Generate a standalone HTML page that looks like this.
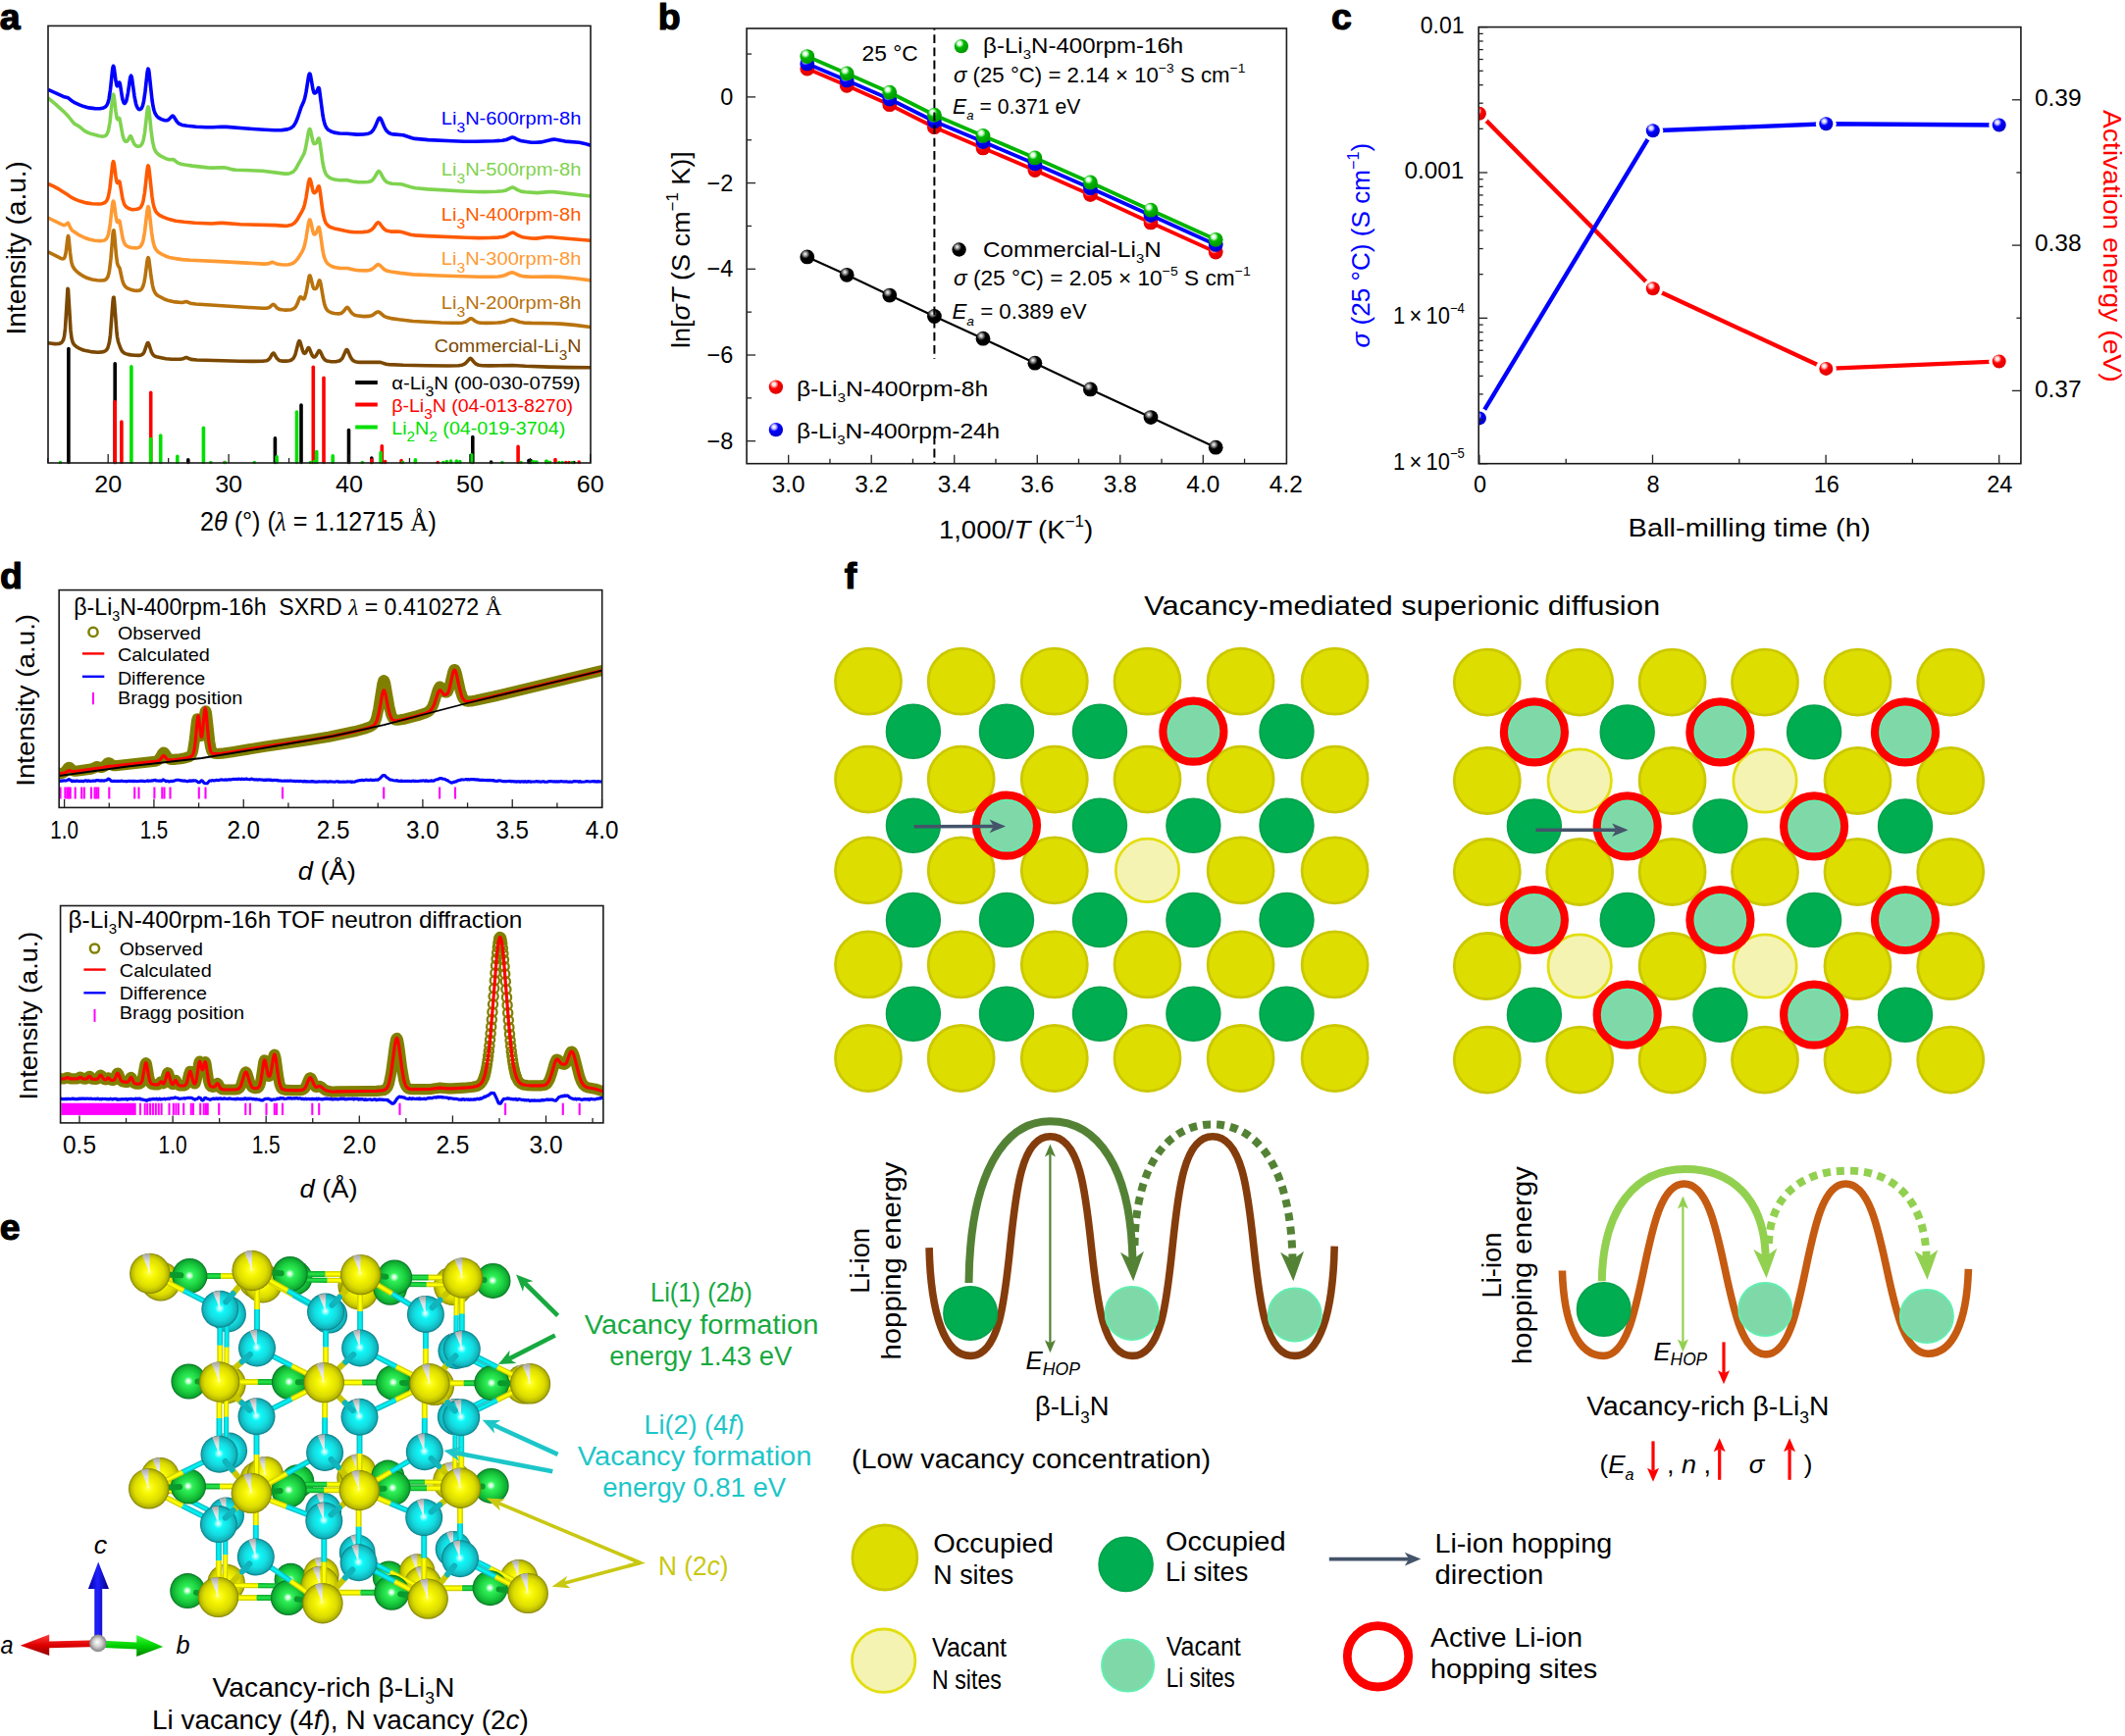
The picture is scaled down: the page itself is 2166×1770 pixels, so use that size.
<!DOCTYPE html>
<html><head><meta charset="utf-8"><title>Figure</title>
<style>html,body{margin:0;padding:0;background:#fff}svg{display:block}text{font-family:"Liberation Sans",sans-serif}</style>
</head><body>
<svg width="2166" height="1770" viewBox="0 0 2166 1770">
<rect width="2166" height="1770" fill="#fff"/>
<g id="pa">
<line x1="69.9" y1="355.6" x2="69.9" y2="471.5" stroke="#000" stroke-width="3.6" stroke-linecap="round"/>
<line x1="117.2" y1="370.7" x2="117.2" y2="471.5" stroke="#000" stroke-width="3.6" stroke-linecap="round"/>
<line x1="191.8" y1="468.8" x2="191.8" y2="471.5" stroke="#000" stroke-width="3.6" stroke-linecap="round"/>
<line x1="280.4" y1="446.9" x2="280.4" y2="471.5" stroke="#000" stroke-width="3.6" stroke-linecap="round"/>
<line x1="307.0" y1="413.0" x2="307.0" y2="471.5" stroke="#000" stroke-width="3.6" stroke-linecap="round"/>
<line x1="355.5" y1="438.5" x2="355.5" y2="471.5" stroke="#000" stroke-width="3.6" stroke-linecap="round"/>
<line x1="378.8" y1="467.0" x2="378.8" y2="471.5" stroke="#000" stroke-width="3.6" stroke-linecap="round"/>
<line x1="481.8" y1="445.5" x2="481.8" y2="471.5" stroke="#000" stroke-width="3.6" stroke-linecap="round"/>
<line x1="500.6" y1="471.0" x2="500.6" y2="471.5" stroke="#000" stroke-width="3.6" stroke-linecap="round"/>
<line x1="539.0" y1="469.5" x2="539.0" y2="471.5" stroke="#000" stroke-width="3.6" stroke-linecap="round"/>
<line x1="541.0" y1="469.5" x2="541.0" y2="471.5" stroke="#000" stroke-width="3.6" stroke-linecap="round"/>
<line x1="557.0" y1="470.8" x2="557.0" y2="471.5" stroke="#000" stroke-width="3.6" stroke-linecap="round"/>
<line x1="585.0" y1="471.5" x2="585.0" y2="471.5" stroke="#000" stroke-width="3.6" stroke-linecap="round"/>
<line x1="117.2" y1="409.5" x2="117.2" y2="471.5" stroke="#ff0000" stroke-width="3.6" stroke-linecap="round"/>
<line x1="123.9" y1="430.0" x2="123.9" y2="471.5" stroke="#ff0000" stroke-width="3.6" stroke-linecap="round"/>
<line x1="153.7" y1="400.3" x2="153.7" y2="471.5" stroke="#ff0000" stroke-width="3.6" stroke-linecap="round"/>
<line x1="229.0" y1="471.5" x2="229.0" y2="471.5" stroke="#ff0000" stroke-width="3.6" stroke-linecap="round"/>
<line x1="319.3" y1="374.2" x2="319.3" y2="471.5" stroke="#ff0000" stroke-width="3.6" stroke-linecap="round"/>
<line x1="330.0" y1="385.2" x2="330.0" y2="471.5" stroke="#ff0000" stroke-width="3.6" stroke-linecap="round"/>
<line x1="378.8" y1="469.1" x2="378.8" y2="471.5" stroke="#ff0000" stroke-width="3.6" stroke-linecap="round"/>
<line x1="389.3" y1="454.7" x2="389.3" y2="471.5" stroke="#ff0000" stroke-width="3.6" stroke-linecap="round"/>
<line x1="392.6" y1="470.5" x2="392.6" y2="471.5" stroke="#ff0000" stroke-width="3.6" stroke-linecap="round"/>
<line x1="409.1" y1="469.5" x2="409.1" y2="471.5" stroke="#ff0000" stroke-width="3.6" stroke-linecap="round"/>
<line x1="446.2" y1="471.5" x2="446.2" y2="471.5" stroke="#ff0000" stroke-width="3.6" stroke-linecap="round"/>
<line x1="528.1" y1="455.4" x2="528.1" y2="471.5" stroke="#ff0000" stroke-width="3.6" stroke-linecap="round"/>
<line x1="566.0" y1="468.5" x2="566.0" y2="471.5" stroke="#ff0000" stroke-width="3.6" stroke-linecap="round"/>
<line x1="576.8" y1="471.5" x2="576.8" y2="471.5" stroke="#ff0000" stroke-width="3.6" stroke-linecap="round"/>
<line x1="580.0" y1="471.5" x2="580.0" y2="471.5" stroke="#ff0000" stroke-width="3.6" stroke-linecap="round"/>
<line x1="590.2" y1="471.0" x2="590.2" y2="471.5" stroke="#ff0000" stroke-width="3.6" stroke-linecap="round"/>
<line x1="61.5" y1="471.5" x2="61.5" y2="471.5" stroke="#00e000" stroke-width="3.6" stroke-linecap="round"/>
<line x1="133.9" y1="373.9" x2="133.9" y2="471.5" stroke="#00e000" stroke-width="3.6" stroke-linecap="round"/>
<line x1="153.7" y1="447.5" x2="153.7" y2="471.5" stroke="#00e000" stroke-width="3.6" stroke-linecap="round"/>
<line x1="163.7" y1="444.1" x2="163.7" y2="471.5" stroke="#00e000" stroke-width="3.6" stroke-linecap="round"/>
<line x1="180.8" y1="465.3" x2="180.8" y2="471.5" stroke="#00e000" stroke-width="3.6" stroke-linecap="round"/>
<line x1="207.4" y1="436.3" x2="207.4" y2="471.5" stroke="#00e000" stroke-width="3.6" stroke-linecap="round"/>
<line x1="214.8" y1="471.5" x2="214.8" y2="471.5" stroke="#00e000" stroke-width="3.6" stroke-linecap="round"/>
<line x1="229.2" y1="471.5" x2="229.2" y2="471.5" stroke="#00e000" stroke-width="3.6" stroke-linecap="round"/>
<line x1="259.3" y1="471.5" x2="259.3" y2="471.5" stroke="#00e000" stroke-width="3.6" stroke-linecap="round"/>
<line x1="282.1" y1="465.7" x2="282.1" y2="471.5" stroke="#00e000" stroke-width="3.6" stroke-linecap="round"/>
<line x1="302.5" y1="420.1" x2="302.5" y2="471.5" stroke="#00e000" stroke-width="3.6" stroke-linecap="round"/>
<line x1="316.4" y1="471.5" x2="316.4" y2="471.5" stroke="#00e000" stroke-width="3.6" stroke-linecap="round"/>
<line x1="320.5" y1="470.5" x2="320.5" y2="471.5" stroke="#00e000" stroke-width="3.6" stroke-linecap="round"/>
<line x1="322.7" y1="460.6" x2="322.7" y2="471.5" stroke="#00e000" stroke-width="3.6" stroke-linecap="round"/>
<line x1="339.2" y1="464.8" x2="339.2" y2="471.5" stroke="#00e000" stroke-width="3.6" stroke-linecap="round"/>
<line x1="369.3" y1="471.5" x2="369.3" y2="471.5" stroke="#00e000" stroke-width="3.6" stroke-linecap="round"/>
<line x1="388.1" y1="461.5" x2="388.1" y2="471.5" stroke="#00e000" stroke-width="3.6" stroke-linecap="round"/>
<line x1="410.5" y1="471.5" x2="410.5" y2="471.5" stroke="#00e000" stroke-width="3.6" stroke-linecap="round"/>
<line x1="423.4" y1="468.8" x2="423.4" y2="471.5" stroke="#00e000" stroke-width="3.6" stroke-linecap="round"/>
<line x1="451.9" y1="471.5" x2="451.9" y2="471.5" stroke="#00e000" stroke-width="3.6" stroke-linecap="round"/>
<line x1="455.4" y1="470.5" x2="455.4" y2="471.5" stroke="#00e000" stroke-width="3.6" stroke-linecap="round"/>
<line x1="459.6" y1="470.0" x2="459.6" y2="471.5" stroke="#00e000" stroke-width="3.6" stroke-linecap="round"/>
<line x1="465.3" y1="470.1" x2="465.3" y2="471.5" stroke="#00e000" stroke-width="3.6" stroke-linecap="round"/>
<line x1="468.8" y1="470.5" x2="468.8" y2="471.5" stroke="#00e000" stroke-width="3.6" stroke-linecap="round"/>
<line x1="480.5" y1="463.9" x2="480.5" y2="471.5" stroke="#00e000" stroke-width="3.6" stroke-linecap="round"/>
<line x1="511.9" y1="471.5" x2="511.9" y2="471.5" stroke="#00e000" stroke-width="3.6" stroke-linecap="round"/>
<line x1="531.0" y1="471.5" x2="531.0" y2="471.5" stroke="#00e000" stroke-width="3.6" stroke-linecap="round"/>
<line x1="543.0" y1="470.8" x2="543.0" y2="471.5" stroke="#00e000" stroke-width="3.6" stroke-linecap="round"/>
<line x1="545.0" y1="471.0" x2="545.0" y2="471.5" stroke="#00e000" stroke-width="3.6" stroke-linecap="round"/>
<line x1="547.0" y1="471.0" x2="547.0" y2="471.5" stroke="#00e000" stroke-width="3.6" stroke-linecap="round"/>
<line x1="557.0" y1="470.1" x2="557.0" y2="471.5" stroke="#00e000" stroke-width="3.6" stroke-linecap="round"/>
<line x1="560.6" y1="471.3" x2="560.6" y2="471.5" stroke="#00e000" stroke-width="3.6" stroke-linecap="round"/>
<line x1="569.8" y1="471.5" x2="569.8" y2="471.5" stroke="#00e000" stroke-width="3.6" stroke-linecap="round"/>
<line x1="573.3" y1="471.5" x2="573.3" y2="471.5" stroke="#00e000" stroke-width="3.6" stroke-linecap="round"/>
<line x1="583.2" y1="471.5" x2="583.2" y2="471.5" stroke="#00e000" stroke-width="3.6" stroke-linecap="round"/>
<clipPath id="cpa"><rect x="49.0" y="26.4" width="553.0" height="445.6"/></clipPath>
<g clip-path="url(#cpa)">
<path d="M49 349.8L56 350.6L60 350.5L61.5 350L63 349.1L64.5 346.8L65.5 343.1L66.5 334.9L69 294.2L69.5 295L72 336.9L73 344.8L74 348.6L75 350.6L76 351.9L77.5 353.2L80 354.8L83 356.2L86 357.3L92.5 358.6L99.5 359.3L104.5 358.9L106.5 358.2L108 357.3L109 356.2L110 354.4L111.5 348.7L112.5 341.2L115 307.8L115.5 303.6L116 303.1L116.5 306.7L119 339.3L119.5 343.3L120.5 348.5L123 355.3L124 357.3L125 358.6L126.5 359.9L128 360.6L130.5 361.4L133.5 361.9L137.5 362.3L141 362.4L143.5 362.1L145 361.4L146 360.5L147 358.9L150 350.4L150.5 349.5L151 349.5L152 351.6L154.5 359.2L155.5 361L156.5 362.2L158 363.2L160.5 364.1L169 365.8L175 366.2L184 366.2L186.5 365.8L189 364.7L190 364.5L194.5 366.4L200.5 367L244 368.2L259.5 368.4L267.5 368.3L271.5 367.8L273.5 366.8L275 365.3L277.5 361L278.5 360L279 360.1L279.5 360.7L282 365.1L284 367.1L285.5 367.8L287 368.1L292 368.1L295 367.7L297 367L298.5 365.9L299.5 364.6L301 361.4L304 349.8L304.5 348.3L305 347.6L305.5 347.8L306 348.8L308.5 357.6L309.5 359.7L310 360.2L310.5 360.4L311.5 359.7L313.5 355.7L314 354.9L314.5 354.6L315 354.9L315.5 355.7L317.5 360.9L318.5 362.8L319.5 363.9L320.5 364L322 362.8L324.5 358.3L325 357.7L325.5 357.5L326.5 358.5L329 364L330.5 366.2L331.5 367.1L333 367.9L336.5 368.6L340 368.8L343 368.6L345.5 368.1L347 367.3L349 365.2L352.5 357.5L353 356.7L353.5 356.5L354 356.8L354.5 357.5L357 363.5L358.5 366.1L360 367.7L362 368.7L364 369.1L367 369.4L386.5 369.2L388.5 369.6L393.5 371.3L396.5 371.6L411 372.3L434.5 372.8L456.5 373L467.5 372.7L471 372.2L473.5 371.1L475.5 369.4L478.5 365.8L479.5 365.4L480.5 366L483.5 369.6L485.5 371.3L488 372.2L491.5 372.7L499 372.9L522.5 372.5L535.5 373.3L559.5 374.1L582 374.6L602 374.8" stroke="#7b4800" stroke-width="3.6" fill="none" stroke-linejoin="round" />
<path d="M49 256.8L61.5 263.2L63.5 263.9L65 263.6L66 262.2L67 258.6L69 242.5L69.5 240.5L70 242.1L71.5 257.5L72.5 265.4L73 267.9L74 271.2L76 274.5L78.5 277.1L82 279.8L85.5 281.9L89 283.5L94 284.9L99 285.8L103.5 286L106.5 285.6L108 284.8L109.5 283L110.5 280.5L111.5 276L113 263.5L115 238.8L115.5 235.2L116 234.9L116.5 237.7L118.5 260.6L119.5 268.1L120.5 271.2L121.5 272.4L122 273.5L124.5 285L125.5 288.3L126.5 290.5L127.5 291.9L129 293.3L131 294.4L134 295.5L137 296.2L139.5 296.4L141.5 296.3L143 295.8L144.5 294.5L146 291.4L147 287.6L148 281.8L150 266.6L150.5 263.8L151 262.6L151.5 263.3L152 265.8L154 281.9L155.5 291.1L156.5 295L158 298.4L159.5 300.3L161 301.5L167 304.7L172 306.6L178.5 307.9L185.5 308.5L190 307.5L194 309.2L199.5 310L253.5 313.5L268 314.3L271.5 314.2L273.5 313.8L275 313.1L277.5 310.8L278.5 310.3L279.5 310.8L282.5 314.1L285 315.4L287.5 315.8L291 316.1L294.5 316L297 315.7L299.5 314.7L300.5 313.9L301.5 312.7L303 309.8L305 304.5L306 302.9L306.5 302.7L307 303L309 304.9L309.5 304.9L310 304.5L310.5 303.7L312 298.6L315 282.3L315.5 281.1L316 281L317 283.9L319 292.5L320 294.3L320.5 294.5L321.5 294.4L322.5 293.9L323.5 291.8L325 286.7L325.5 285.9L326 286L327 289.6L330 307.3L331 311.1L332 313.8L333.5 316.2L335 317.5L337.5 318.7L340.5 319.5L345 319.9L346.5 319.8L348 319.3L350 317.7L353 313.9L354 313.4L355 314L358 318.5L359.5 320L361.5 321.2L363.5 321.8L370.5 322.6L376.5 322.4L379.5 321.5L384 318.3L385.5 317.9L387 318.5L391.5 322.3L395 323.8L398.5 324.6L406.5 325.8L421 327.5L449.5 329L461 329.3L468.5 329.2L471.5 329L474 328.3L476 327.3L479 325L480 324.7L481 324.9L484.5 327.5L487 328.7L490.5 329.3L496 329.4L507 329L511.5 328.6L515 327.9L520 326.1L522 325.8L524 326.2L529.5 328.3L534 329.1L541.5 329.4L562 329.7L571.5 330.1L585.5 331.4L602 333.5" stroke="#b8720c" stroke-width="3.6" fill="none" stroke-linejoin="round" />
<path d="M49 222L62.5 228.6L65 229.6L66.5 229.5L69 227.2L69.5 227.4L72 232.7L73 234.3L74 235.3L80 239.3L86.5 242.5L91 244L96.5 245.2L102 245.6L105.5 245.3L107 244.7L108.5 243.4L109.5 241.7L110.5 238.7L112 230.9L114.5 209.2L115 206.2L115.5 205L116 205.9L116.5 208.5L118 220.1L119 225.3L119.5 226.4L120 226.6L121.5 225L122 225.6L125 242.7L126.5 247.4L127.5 249.1L128.5 250.2L131 251.7L135 252.8L139.5 252.9L142 252.1L143.5 250.9L145 248.2L146 244.9L147.5 236.5L150 215L150.5 211.9L151 210.6L151.5 211.3L152 214L154.5 236.5L155.5 243.4L156.5 248.3L157.5 251.6L159 254.5L161 256.7L164.5 259L169 261.2L172.5 262.4L178.5 263.6L186 264.6L194 265.3L229 266.9L269 269.1L273 268.9L274.5 268.5L277 267.4L278 267.3L283 269.3L286.5 269.7L291 270L294 269.8L296.5 269.2L298.5 268.4L300.5 267.1L303.5 263.8L308 256.6L309.5 253.3L310.5 250L312 242.8L314.5 227.3L315.5 224.1L316 224.1L317 227.1L319 236.4L320 238.7L320.5 239L321 238.9L322 238.1L323 236L324.5 231.8L325 231.6L325.5 232.5L326.5 237.8L328.5 252.4L329.5 258.1L330.5 262.2L332 266.1L333.5 268.3L335.5 270L338.5 271.7L342 272.8L346.5 273.4L354 273.5L362 275.3L365.5 275.8L373.5 275.9L376.5 275.5L379 274.5L381 273.1L384 270.2L385.5 269.6L387 270.3L391.5 274.6L393 275.5L395 276.3L398.5 277L408 278.4L421 279.9L447.5 281L488 282.2L502 282.3L508 282L512 281.4L515 280.5L520 278.2L522 277.8L524 278.3L530 281L535 281.9L541.5 282.2L560 282L571 282.4L586 283.7L602 285.9" stroke="#ff9a33" stroke-width="3.6" fill="none" stroke-linejoin="round" />
<path d="M49 187.4L54.5 189.9L60.5 193.2L68.5 198.2L72.5 201.1L77 203.3L81.5 205.1L88 206.9L94 207.8L101 208L103.5 207.7L105.5 207.2L107 206.5L108.5 205L109.5 203.1L110.5 200L112 191.7L114.5 169.2L115 166L115.5 164.7L116 165.6L116.5 168.3L118 180.1L119 185.3L119.5 186.5L120 186.6L121.5 184.8L122 185.4L125 203L126.5 207.8L127.5 209.6L128.5 210.7L130 211.8L132.5 213.1L135 213.7L139.5 213.3L142 212.5L143.5 211.2L145 208.4L146 205L147.5 196.2L150 173.5L150.5 170.3L151 168.9L151.5 169.7L152 172.5L155 200.5L156 206.8L157 211.1L158.5 215L160 217.2L162.5 219.4L166.5 221.4L172.5 223.6L179 225.2L187.5 226.3L198.5 227.3L215.5 228L224 227.4L227.5 227.4L245 228.7L280.5 229.6L290.5 230.4L293.5 230.1L296 229.6L298 228.8L300 227.4L301.5 225.8L303 223.8L308 215.1L309.5 211.9L310.5 208.7L312 201.5L314.5 185.8L315.5 182.5L316 182.5L317 185.6L319 194.8L319.5 196.1L320 196.6L320.5 196.6L321.5 196L322.5 195L324.5 190L325 189.8L325.5 190.9L326.5 196.7L328.5 212.4L329.5 218.5L331 224.5L332 227L333 228.6L335 230.6L338 232.1L341 232.9L352.5 235.5L357.5 236.4L361.5 236.8L370 236.6L375 236L377 235.3L379 234L381 231.9L384 227.7L385 226.9L385.5 226.8L386 226.9L387 227.7L390 231.8L391.5 233.4L393 234.6L394.5 235.3L398 236.1L405.5 236.1L408 236.3L411 237L418.5 239.2L423 239.9L435 240.6L475.5 242.3L488 242.6L498 242.5L507.5 242.1L512.5 241.5L515.5 240.6L520.5 237.7L522.5 237.1L524 237.5L528.5 240.2L531.5 241.4L534 242L541.5 243L546.5 243.1L557 241.8L561.5 241.7L578 243.3L602 245.2" stroke="#ff5a00" stroke-width="3.6" fill="none" stroke-linejoin="round" />
<path d="M49 100L56.5 106.1L65 113.8L70 119L75 125.3L76.5 126.5L81 129.1L86.5 133.6L88.5 134.8L91.5 135.9L101.5 138.7L105 139.1L107 138.7L108.5 137.5L109.5 135.9L110.5 133L112 124.8L114.5 101L115 97.5L115.5 96.2L116 97.3L116.5 100.5L118 113.8L119 119.9L119.5 121.3L120 121.8L121.5 120.4L122 121.2L125 138L126.5 142.5L127.5 143.9L128 144.2L129 144.3L130 143.5L130.5 142.8L132.5 139L133 138.6L133.5 138.8L136 145L137 146.9L138.5 148.5L140.5 149.3L142.5 149L144 147.9L145 146.3L146 143.5L147.5 135.8L150 113.6L150.5 110.3L151 108.9L151.5 109.8L152 112.9L154 132.8L155.5 144.2L157 150.7L158.5 154.2L160 156.2L162 157.9L164.5 159.4L169 161.6L171 162.3L172.5 162.7L176.5 162.5L177.5 163.1L180.5 165.5L182 166.4L184.5 167.2L188.5 168L196 169.1L211.5 170.9L217 171.1L228 170.7L231 171.3L237.5 172.9L240.5 173.3L267.5 174.2L290 177.1L293 177.1L295.5 176.7L298.5 175.3L300 174L301.5 172.1L309.5 157.5L310.5 154.9L311.5 151L314.5 134.4L315 132.5L315.5 131.6L316 131.7L316.5 132.9L319 144.5L320 146.5L320.5 146.6L321.5 146.3L322.5 145.7L324.5 141.2L325 141.1L325.5 142.2L326.5 148L329 166.4L330.5 173.2L332 177L333.5 179.2L335.5 180.8L338 182.1L341 183L346 183.7L353 183.6L359.5 185L364.5 185.6L371.5 185.8L375.5 185.5L378 184.7L380 183.2L382 180.5L384.5 176.1L385.5 174.8L386 174.6L386.5 174.7L387.5 175.7L390.5 181.3L392 183.5L393.5 185.1L395.5 186.3L399.5 187.3L408 187.7L410 188L420 191.1L423.5 191.8L436 192.9L472 195L484 195.5L494 195.6L506 195.3L512.5 194.8L516 193.9L521 191.4L522.5 191.1L524 191.5L527.5 193.6L530 194.7L532.5 195.4L535.5 195.8L547.5 196.6L559.5 195.6L564.5 195.6L602 200" stroke="#7fd34f" stroke-width="3.6" fill="none" stroke-linejoin="round" />
<path d="M49 91.3L64.5 98.4L69.5 99.8L73 102.7L75.5 104.3L81 106.8L85.5 108.6L90.5 109.9L96.5 110.6L102 110.7L105.5 110L107.5 108.9L109 107.1L110 104.8L111 101.1L112.5 91.2L114.5 72.1L115 68.7L115.5 67.3L116 68.1L116.5 70.9L118 82.4L119 87.1L119.5 87.8L120 87.4L121.5 84L122 84.4L122.5 86.3L124.5 99.2L125 101.5L126 104.5L126.5 105.1L127 105.4L127.5 105.1L128.5 103.4L129 101.9L130.5 94.5L132.5 80.6L133 78.2L133.5 77.2L134 77.8L134.5 80L137 98.1L138.5 105.7L139.5 108.7L140.5 110.5L141.5 111.4L142.5 111.6L143.5 111.2L144.5 110L145.5 107.6L146.5 103.5L148 93.2L150 74.6L150.5 71.5L151 70.1L151.5 70.9L152 73.8L155 101.9L156 108.2L157 112.5L158 115.3L159.5 117.9L161.5 119.9L164.5 121.6L168 122.8L170.5 122.7L172 121.9L175 118.6L176 118.1L177 118.7L180.5 124.2L182.5 126.1L185.5 127.4L190.5 128.3L200 129.2L210.5 129.7L217 129.8L225.5 129.3L231 129.4L251 131L269.5 132.2L280 132.7L287.5 132.6L293 131.9L296.5 130.6L299 128.6L300.5 126.5L301.5 124.7L303.5 119.8L307 109.2L309.5 103.8L310.5 100.8L312 93.9L314.5 78.1L315 76.1L315.5 75.1L316 75.4L316.5 76.8L319 91.2L320 94.5L320.5 95L321 95L322 94.4L323 93L324.5 89.5L325 89.5L325.5 90.9L329 117.4L330 122.8L331.5 127.9L333 130.6L334.5 132.3L337 133.8L340.5 135.1L346 136L354 136.3L363.5 137.1L370.5 137L375.5 136.2L377 135.6L378.5 134.7L380.5 132.5L382.5 128.9L385.5 121.8L386.5 120.4L387 120.2L387.5 120.4L388.5 121.8L391.5 129L393 131.9L394.5 133.9L396.5 135.5L398.5 136.4L401 136.9L411 137.8L420 140.7L423 141.4L436.5 142.6L461 143.8L473.5 144.3L484.5 144.3L503.5 143.8L512 143.3L516 142.5L521 140.3L522.5 140L524 140.4L528 142.5L530.5 143.4L541.5 145.3L546 145.3L551.5 144.9L555.5 144.1L562 142.4L565 142.1L576 144.1L590.5 145.2L596 146.4L602 148.2" stroke="#0000ff" stroke-width="3.6" fill="none" stroke-linejoin="round" />
</g>
<line x1="110.20" y1="472.00" x2="110.20" y2="463.00" stroke="#222" stroke-width="1.3" />
<line x1="233.10" y1="472.00" x2="233.10" y2="463.00" stroke="#222" stroke-width="1.3" />
<line x1="356.00" y1="472.00" x2="356.00" y2="463.00" stroke="#222" stroke-width="1.3" />
<line x1="478.90" y1="472.00" x2="478.90" y2="463.00" stroke="#222" stroke-width="1.3" />
<line x1="48.75" y1="472.00" x2="48.75" y2="467.00" stroke="#222" stroke-width="1.3" />
<line x1="171.65" y1="472.00" x2="171.65" y2="467.00" stroke="#222" stroke-width="1.3" />
<line x1="294.55" y1="472.00" x2="294.55" y2="467.00" stroke="#222" stroke-width="1.3" />
<line x1="417.45" y1="472.00" x2="417.45" y2="467.00" stroke="#222" stroke-width="1.3" />
<line x1="540.35" y1="472.00" x2="540.35" y2="467.00" stroke="#222" stroke-width="1.3" />
<line x1="601.70" y1="472.00" x2="601.70" y2="463.00" stroke="#222" stroke-width="1.3" />
<rect x="49.00" y="26.40" width="553.00" height="445.60" stroke="#1a1a1a" stroke-width="1.6" fill="none" />
<text transform="translate(110.20,501.60) translate(-13.95,0) scale(1.0259,1)" font-size="24.50" fill="#000" xml:space="preserve"><tspan x="0.00" y="0.00">20</tspan></text>
<text transform="translate(233.10,501.60) translate(-13.95,0) scale(1.0259,1)" font-size="24.50" fill="#000" xml:space="preserve"><tspan x="0.00" y="0.00">30</tspan></text>
<text transform="translate(356.00,501.60) translate(-13.95,0) scale(1.0259,1)" font-size="24.50" fill="#000" xml:space="preserve"><tspan x="0.00" y="0.00">40</tspan></text>
<text transform="translate(478.90,501.60) translate(-13.95,0) scale(1.0259,1)" font-size="24.50" fill="#000" xml:space="preserve"><tspan x="0.00" y="0.00">50</tspan></text>
<text transform="translate(601.80,501.60) translate(-13.95,0) scale(1.0259,1)" font-size="24.50" fill="#000" xml:space="preserve"><tspan x="0.00" y="0.00">60</tspan></text>
<text transform="translate(324.50,541.00) translate(-120.45,0) scale(0.9148,1)" font-size="27.50" fill="#000" xml:space="preserve"><tspan x="0.00" y="0.00">2</tspan><tspan x="15.29" y="0.00" font-style="italic">θ</tspan><tspan x="30.21" y="0.00"> (°) (</tspan><tspan x="83.97" y="0.00" font-style="italic" font-family="Liberation Serif, serif">λ</tspan><tspan x="95.88" y="0.00"> = 1.12715 </tspan><tspan x="234.27" y="0.00" font-family="Liberation Serif, serif">Å</tspan><tspan x="254.13" y="0.00">)</tspan></text>
<text transform="translate(26.00,252.80) rotate(-90) translate(-88.70,0) scale(1.0372,1)" font-size="27.00" fill="#000" xml:space="preserve"><tspan x="0.00" y="0.00">Intensity (a.u.)</tspan></text>
<text x="-0.3" y="29.5" font-size="37.5" font-weight="bold" stroke="#000" stroke-width="1.2" stroke-linejoin="round">a</text>
<text transform="translate(592.40,126.60) translate(-142.60,0) scale(1.0853,1)" font-size="18.50" fill="#0000ff" xml:space="preserve"><tspan x="0.00" y="0.00">Li</tspan><tspan x="14.40" y="7.96" font-size="14.43">3</tspan><tspan x="22.43" y="0.00">N-600rpm-8h</tspan></text>
<text transform="translate(592.40,179.20) translate(-142.60,0) scale(1.0853,1)" font-size="18.50" fill="#7fd34f" xml:space="preserve"><tspan x="0.00" y="0.00">Li</tspan><tspan x="14.40" y="7.96" font-size="14.43">3</tspan><tspan x="22.43" y="0.00">N-500rpm-8h</tspan></text>
<text transform="translate(592.40,225.40) translate(-142.60,0) scale(1.0853,1)" font-size="18.50" fill="#ff5a00" xml:space="preserve"><tspan x="0.00" y="0.00">Li</tspan><tspan x="14.40" y="7.96" font-size="14.43">3</tspan><tspan x="22.43" y="0.00">N-400rpm-8h</tspan></text>
<text transform="translate(592.40,269.60) translate(-142.60,0) scale(1.0853,1)" font-size="18.50" fill="#ff9a33" xml:space="preserve"><tspan x="0.00" y="0.00">Li</tspan><tspan x="14.40" y="7.96" font-size="14.43">3</tspan><tspan x="22.43" y="0.00">N-300rpm-8h</tspan></text>
<text transform="translate(592.40,314.80) translate(-142.60,0) scale(1.0853,1)" font-size="18.50" fill="#b8720c" xml:space="preserve"><tspan x="0.00" y="0.00">Li</tspan><tspan x="14.40" y="7.96" font-size="14.43">3</tspan><tspan x="22.43" y="0.00">N-200rpm-8h</tspan></text>
<text transform="translate(592.40,358.60) translate(-149.70,0) scale(1.0648,1)" font-size="18.50" fill="#7b4800" xml:space="preserve"><tspan x="0.00" y="0.00">Commercial-Li</tspan><tspan x="119.24" y="7.96" font-size="14.43">3</tspan><tspan x="127.27" y="0.00">N</tspan></text>
<line x1="362.20" y1="390.00" x2="384.80" y2="390.00" stroke="#000" stroke-width="4" />
<line x1="362.20" y1="412.50" x2="384.80" y2="412.50" stroke="#ff0000" stroke-width="4" />
<line x1="362.20" y1="435.50" x2="384.80" y2="435.50" stroke="#00e000" stroke-width="4" />
<text transform="translate(399.20,396.50) translate(0.00,0) scale(1.0995,1)" font-size="18.50" fill="#000" xml:space="preserve"><tspan x="0.00" y="0.00">α-Li</tspan><tspan x="31.26" y="7.96" font-size="14.43">3</tspan><tspan x="39.28" y="0.00">N (00-030-0759)</tspan></text>
<text transform="translate(399.20,419.50) translate(0.00,0) scale(1.0570,1)" font-size="18.50" fill="#ff0000" xml:space="preserve"><tspan x="0.00" y="0.00">β-Li</tspan><tspan x="31.20" y="7.96" font-size="14.43">3</tspan><tspan x="39.23" y="0.00">N (04-013-8270)</tspan></text>
<text transform="translate(399.20,442.50) translate(0.00,0) scale(1.0651,1)" font-size="18.50" fill="#00e000" xml:space="preserve"><tspan x="0.00" y="0.00">Li</tspan><tspan x="14.40" y="7.96" font-size="14.43">2</tspan><tspan x="22.43" y="0.00">N</tspan><tspan x="35.79" y="7.96" font-size="14.43">2</tspan><tspan x="43.81" y="0.00"> (04-019-3704)</tspan></text>
</g>
<g id="pb">
<defs><radialGradient id="bbg" cx="0.38" cy="0.32" r="0.62" fx="0.36" fy="0.3"><stop offset="0" stop-color="#ffffff"/><stop offset="0.22" stop-color="#d8ffd8" stop-opacity="1"/><stop offset="0.5" stop-color="#00b800"/><stop offset="1" stop-color="#009a00"/></radialGradient><radialGradient id="bbb" cx="0.38" cy="0.32" r="0.62" fx="0.36" fy="0.3"><stop offset="0" stop-color="#ffffff"/><stop offset="0.22" stop-color="#d0d0ff" stop-opacity="1"/><stop offset="0.5" stop-color="#0000ff"/><stop offset="1" stop-color="#0000d0"/></radialGradient><radialGradient id="bbr" cx="0.38" cy="0.32" r="0.62" fx="0.36" fy="0.3"><stop offset="0" stop-color="#ffffff"/><stop offset="0.22" stop-color="#ffd0d0" stop-opacity="1"/><stop offset="0.5" stop-color="#ff0000"/><stop offset="1" stop-color="#e00000"/></radialGradient><radialGradient id="bbk" cx="0.38" cy="0.32" r="0.62" fx="0.36" fy="0.3"><stop offset="0" stop-color="#ffffff"/><stop offset="0.22" stop-color="#999" stop-opacity="1"/><stop offset="0.5" stop-color="#000000"/><stop offset="1" stop-color="#000000"/></radialGradient></defs>
<path d="M822.8 261.9L863.2 280.3L906.8 301.1L952.4 322.5L1002 345.2L1054.9 370.2L1111.4 396.9L1173 425.6L1239.2 456.2" stroke="#000" stroke-width="2.2" fill="none" stroke-linejoin="round" />
<circle cx="822.8" cy="261.9" r="7.4" fill="url(#bbk)"/>
<circle cx="863.2" cy="280.3" r="7.4" fill="url(#bbk)"/>
<circle cx="906.8" cy="301.1" r="7.4" fill="url(#bbk)"/>
<circle cx="952.4" cy="322.5" r="7.4" fill="url(#bbk)"/>
<circle cx="1002.0" cy="345.2" r="7.4" fill="url(#bbk)"/>
<circle cx="1054.9" cy="370.2" r="7.4" fill="url(#bbk)"/>
<circle cx="1111.4" cy="396.9" r="7.4" fill="url(#bbk)"/>
<circle cx="1173.0" cy="425.6" r="7.4" fill="url(#bbk)"/>
<circle cx="1239.2" cy="456.2" r="7.4" fill="url(#bbk)"/>
<path d="M822.8 70L863.2 87.3L906.8 106.7L952.4 129.7L1002 150.9L1054.9 173.5L1111.4 198.6L1173 226.9L1239.2 257" stroke="#ff0000" stroke-width="3.8" fill="none" stroke-linejoin="round" />
<circle cx="822.8" cy="70.0" r="7.4" fill="url(#bbr)"/>
<circle cx="863.2" cy="87.3" r="7.4" fill="url(#bbr)"/>
<circle cx="906.8" cy="106.7" r="7.4" fill="url(#bbr)"/>
<circle cx="952.4" cy="129.7" r="7.4" fill="url(#bbr)"/>
<circle cx="1002.0" cy="150.9" r="7.4" fill="url(#bbr)"/>
<circle cx="1054.9" cy="173.5" r="7.4" fill="url(#bbr)"/>
<circle cx="1111.4" cy="198.6" r="7.4" fill="url(#bbr)"/>
<circle cx="1173.0" cy="226.9" r="7.4" fill="url(#bbr)"/>
<circle cx="1239.2" cy="257.0" r="7.4" fill="url(#bbr)"/>
<path d="M822.8 64.9L863.2 81.9L906.8 101L952.4 123.7L1002 144.6L1054.9 166.9L1111.4 191.7L1173 219.6L1239.2 249.4" stroke="#0000ff" stroke-width="3.8" fill="none" stroke-linejoin="round" />
<circle cx="822.8" cy="64.9" r="7.4" fill="url(#bbb)"/>
<circle cx="863.2" cy="81.9" r="7.4" fill="url(#bbb)"/>
<circle cx="906.8" cy="101.0" r="7.4" fill="url(#bbb)"/>
<circle cx="952.4" cy="123.7" r="7.4" fill="url(#bbb)"/>
<circle cx="1002.0" cy="144.6" r="7.4" fill="url(#bbb)"/>
<circle cx="1054.9" cy="166.9" r="7.4" fill="url(#bbb)"/>
<circle cx="1111.4" cy="191.7" r="7.4" fill="url(#bbb)"/>
<circle cx="1173.0" cy="219.6" r="7.4" fill="url(#bbb)"/>
<circle cx="1239.2" cy="249.4" r="7.4" fill="url(#bbb)"/>
<path d="M822.8 57.6L863.2 74.9L906.8 94.2L952.4 117.2L1002 138.4L1054.9 160.9L1111.4 186L1173 214.2L1239.2 244.3" stroke="#00b400" stroke-width="3.8" fill="none" stroke-linejoin="round" />
<circle cx="822.8" cy="57.6" r="7.4" fill="url(#bbg)"/>
<circle cx="863.2" cy="74.9" r="7.4" fill="url(#bbg)"/>
<circle cx="906.8" cy="94.2" r="7.4" fill="url(#bbg)"/>
<circle cx="952.4" cy="117.2" r="7.4" fill="url(#bbg)"/>
<circle cx="1002.0" cy="138.4" r="7.4" fill="url(#bbg)"/>
<circle cx="1054.9" cy="160.9" r="7.4" fill="url(#bbg)"/>
<circle cx="1111.4" cy="186.0" r="7.4" fill="url(#bbg)"/>
<circle cx="1173.0" cy="214.2" r="7.4" fill="url(#bbg)"/>
<circle cx="1239.2" cy="244.3" r="7.4" fill="url(#bbg)"/>
<line x1="952.4" y1="29.0" x2="952.4" y2="472.7" stroke="#000" stroke-width="2" stroke-dasharray="8.8 4.4" stroke-dashoffset="7"/>
<rect x="775" y="366" width="260" height="75.3" fill="#fff"/>
<line x1="803.70" y1="472.70" x2="803.70" y2="463.70" stroke="#222" stroke-width="1.3" />
<line x1="888.22" y1="472.70" x2="888.22" y2="463.70" stroke="#222" stroke-width="1.3" />
<line x1="972.74" y1="472.70" x2="972.74" y2="463.70" stroke="#222" stroke-width="1.3" />
<line x1="1057.26" y1="472.70" x2="1057.26" y2="463.70" stroke="#222" stroke-width="1.3" />
<line x1="1141.78" y1="472.70" x2="1141.78" y2="463.70" stroke="#222" stroke-width="1.3" />
<line x1="1226.30" y1="472.70" x2="1226.30" y2="463.70" stroke="#222" stroke-width="1.3" />
<line x1="845.96" y1="472.70" x2="845.96" y2="467.70" stroke="#222" stroke-width="1.3" />
<line x1="930.48" y1="472.70" x2="930.48" y2="467.70" stroke="#222" stroke-width="1.3" />
<line x1="1015.00" y1="472.70" x2="1015.00" y2="467.70" stroke="#222" stroke-width="1.3" />
<line x1="1099.52" y1="472.70" x2="1099.52" y2="467.70" stroke="#222" stroke-width="1.3" />
<line x1="1184.04" y1="472.70" x2="1184.04" y2="467.70" stroke="#222" stroke-width="1.3" />
<line x1="1268.56" y1="472.70" x2="1268.56" y2="467.70" stroke="#222" stroke-width="1.3" />
<line x1="761.10" y1="98.90" x2="770.10" y2="98.90" stroke="#222" stroke-width="1.3" />
<line x1="761.10" y1="186.60" x2="770.10" y2="186.60" stroke="#222" stroke-width="1.3" />
<line x1="761.10" y1="274.30" x2="770.10" y2="274.30" stroke="#222" stroke-width="1.3" />
<line x1="761.10" y1="362.00" x2="770.10" y2="362.00" stroke="#222" stroke-width="1.3" />
<line x1="761.10" y1="449.70" x2="770.10" y2="449.70" stroke="#222" stroke-width="1.3" />
<line x1="761.10" y1="55.05" x2="766.10" y2="55.05" stroke="#222" stroke-width="1.3" />
<line x1="761.10" y1="142.75" x2="766.10" y2="142.75" stroke="#222" stroke-width="1.3" />
<line x1="761.10" y1="230.45" x2="766.10" y2="230.45" stroke="#222" stroke-width="1.3" />
<line x1="761.10" y1="318.15" x2="766.10" y2="318.15" stroke="#222" stroke-width="1.3" />
<line x1="761.10" y1="405.85" x2="766.10" y2="405.85" stroke="#222" stroke-width="1.3" />
<rect x="761.10" y="29.00" width="550.30" height="443.70" stroke="#1a1a1a" stroke-width="1.6" fill="none" />
<text transform="translate(803.70,502.30) translate(-16.95,0) scale(1.0378,1)" font-size="23.50" fill="#000" xml:space="preserve"><tspan x="0.00" y="0.00">3.0</tspan></text>
<text transform="translate(888.22,502.30) translate(-16.95,0) scale(1.0378,1)" font-size="23.50" fill="#000" xml:space="preserve"><tspan x="0.00" y="0.00">3.2</tspan></text>
<text transform="translate(972.74,502.30) translate(-16.95,0) scale(1.0378,1)" font-size="23.50" fill="#000" xml:space="preserve"><tspan x="0.00" y="0.00">3.4</tspan></text>
<text transform="translate(1057.26,502.30) translate(-16.95,0) scale(1.0378,1)" font-size="23.50" fill="#000" xml:space="preserve"><tspan x="0.00" y="0.00">3.6</tspan></text>
<text transform="translate(1141.78,502.30) translate(-16.95,0) scale(1.0378,1)" font-size="23.50" fill="#000" xml:space="preserve"><tspan x="0.00" y="0.00">3.8</tspan></text>
<text transform="translate(1226.30,502.30) translate(-16.95,0) scale(1.0378,1)" font-size="23.50" fill="#000" xml:space="preserve"><tspan x="0.00" y="0.00">4.0</tspan></text>
<text transform="translate(1310.82,502.30) translate(-16.95,0) scale(1.0378,1)" font-size="23.50" fill="#000" xml:space="preserve"><tspan x="0.00" y="0.00">4.2</tspan></text>
<text transform="translate(747.20,106.90) translate(-13.04,0)" font-size="23.50" fill="#000" xml:space="preserve"><tspan x="0.00" y="0.00">0</tspan></text>
<text transform="translate(747.20,194.60) translate(-26.79,0)" font-size="23.50" fill="#000" xml:space="preserve"><tspan x="0.00" y="0.00">−2</tspan></text>
<text transform="translate(747.20,282.30) translate(-26.79,0)" font-size="23.50" fill="#000" xml:space="preserve"><tspan x="0.00" y="0.00">−4</tspan></text>
<text transform="translate(747.20,370.00) translate(-26.79,0)" font-size="23.50" fill="#000" xml:space="preserve"><tspan x="0.00" y="0.00">−6</tspan></text>
<text transform="translate(747.20,457.70) translate(-26.79,0)" font-size="23.50" fill="#000" xml:space="preserve"><tspan x="0.00" y="0.00">−8</tspan></text>
<text transform="translate(1035.60,549.40) translate(-78.70,0) scale(1.0400,1)" font-size="26.50" fill="#000" xml:space="preserve"><tspan x="0.00" y="0.00">1,000/</tspan><tspan x="73.68" y="0.00" font-style="italic">T</tspan><tspan x="89.87" y="0.00"> (K</tspan><tspan x="123.73" y="-11.93" font-size="16.43">−1</tspan><tspan x="142.46" y="0.00">)</tspan></text>
<text transform="translate(703.00,254.60) rotate(-90) translate(-100.50,0) scale(1.0221,1)" font-size="26.50" fill="#000" xml:space="preserve"><tspan x="0.00" y="0.00">ln[</tspan><tspan x="27.99" y="0.00" font-style="italic">σT</tspan><tspan x="60.16" y="0.00"> (S cm</tspan><tspan x="136.71" y="-11.93" font-size="16.43">−1</tspan><tspan x="155.44" y="0.00"> K)]</tspan></text>
<text x="670.7" y="29.5" font-size="37.5" font-weight="bold" stroke="#000" stroke-width="1.2" stroke-linejoin="round">b</text>
<text transform="translate(878.50,61.80) translate(0.00,0) scale(1.0128,1)" font-size="22.50" fill="#000" xml:space="preserve"><tspan x="0.00" y="0.00">25 °C</tspan></text>
<circle cx="979.9" cy="47.1" r="7.2" fill="url(#bbg)"/>
<text transform="translate(1002.10,54.20) translate(0.00,0) scale(1.0949,1)" font-size="22.00" fill="#000" xml:space="preserve"><tspan x="0.00" y="0.00">β-Li</tspan><tspan x="37.11" y="6.16" font-size="13.64">3</tspan><tspan x="44.69" y="0.00">N-400rpm-16h</tspan></text>
<text transform="translate(972.00,84.30) translate(0.00,0) scale(1.0113,1)" font-size="22.00" fill="#000" xml:space="preserve"><tspan x="0.00" y="0.00" font-style="italic">σ</tspan><tspan x="13.27" y="0.00"> (25 °C) = 2.14 × 10</tspan><tspan x="206.74" y="-9.90" font-size="13.64">−3</tspan><tspan x="222.29" y="0.00"> S cm</tspan><tspan x="278.51" y="-9.90" font-size="13.64">−1</tspan></text>
<text transform="translate(971.10,116.30) translate(0.00,0) scale(0.9627,1)" font-size="22.00" fill="#000" xml:space="preserve"><tspan x="0.00" y="0.00" font-style="italic">E</tspan><tspan x="14.67" y="6.16" font-style="italic" font-size="13.64">a</tspan><tspan x="22.26" y="0.00"> = 0.371 eV</tspan></text>
<circle cx="977.6" cy="254.5" r="7.2" fill="url(#bbk)"/>
<text transform="translate(1002.10,261.60) translate(0.00,0) scale(1.0997,1)" font-size="22.00" fill="#000" xml:space="preserve"><tspan x="0.00" y="0.00">Commercial-Li</tspan><tspan x="141.80" y="6.16" font-size="13.64">3</tspan><tspan x="149.39" y="0.00">N</tspan></text>
<text transform="translate(972.00,290.80) translate(0.00,0) scale(1.0294,1)" font-size="22.00" fill="#000" xml:space="preserve"><tspan x="0.00" y="0.00" font-style="italic">σ</tspan><tspan x="13.27" y="0.00"> (25 °C) = 2.05 × 10</tspan><tspan x="206.74" y="-9.90" font-size="13.64">−5</tspan><tspan x="222.29" y="0.00"> S cm</tspan><tspan x="278.51" y="-9.90" font-size="13.64">−1</tspan></text>
<text transform="translate(970.40,325.40) translate(0.00,0) scale(1.0137,1)" font-size="22.00" fill="#000" xml:space="preserve"><tspan x="0.00" y="0.00" font-style="italic">E</tspan><tspan x="14.67" y="6.16" font-style="italic" font-size="13.64">a</tspan><tspan x="22.26" y="0.00"> = 0.389 eV</tspan></text>
<circle cx="790.9" cy="394.6" r="7.2" fill="url(#bbr)"/>
<text transform="translate(811.90,403.50) translate(0.00,0) scale(1.1212,1)" font-size="22.00" fill="#000" xml:space="preserve"><tspan x="0.00" y="0.00">β-Li</tspan><tspan x="37.11" y="6.16" font-size="13.64">3</tspan><tspan x="44.69" y="0.00">N-400rpm-8h</tspan></text>
<circle cx="790.9" cy="438.1" r="7.2" fill="url(#bbb)"/>
<text transform="translate(811.90,447.00) translate(0.00,0) scale(1.1121,1)" font-size="22.00" fill="#000" xml:space="preserve"><tspan x="0.00" y="0.00">β-Li</tspan><tspan x="37.11" y="6.16" font-size="13.64">3</tspan><tspan x="44.69" y="0.00">N-400rpm-24h</tspan></text>
</g>
<g id="pc">
<clipPath id="cpc"><rect x="1507.2" y="27.6" width="552.7" height="445.1"/></clipPath>
<g clip-path="url(#cpc)">
<path d="M1507.9 115.8L1684.8 294.3L1861.3 375.9L2037.7 368.5" stroke="#ff0000" stroke-width="4.4" fill="none" stroke-linejoin="round" />
<path d="M1507.9 426.4L1684.8 133.3L1861.3 126.3L2037.7 127.5" stroke="#0000ff" stroke-width="4.4" fill="none" stroke-linejoin="round" />
<circle cx="1507.90" cy="115.80" r="10.50" fill="#fff" stroke="none" stroke-width="0" />
<circle cx="1507.9" cy="115.8" r="7.0" fill="url(#bbr)"/>
<circle cx="1684.80" cy="294.30" r="10.50" fill="#fff" stroke="none" stroke-width="0" />
<circle cx="1684.8" cy="294.3" r="7.0" fill="url(#bbr)"/>
<circle cx="1861.30" cy="375.90" r="10.50" fill="#fff" stroke="none" stroke-width="0" />
<circle cx="1861.3" cy="375.9" r="7.0" fill="url(#bbr)"/>
<circle cx="2037.70" cy="368.50" r="10.50" fill="#fff" stroke="none" stroke-width="0" />
<circle cx="2037.7" cy="368.5" r="7.0" fill="url(#bbr)"/>
<circle cx="1507.90" cy="426.40" r="10.50" fill="#fff" stroke="none" stroke-width="0" />
<circle cx="1507.9" cy="426.4" r="7.0" fill="url(#bbb)"/>
<circle cx="1684.80" cy="133.30" r="10.50" fill="#fff" stroke="none" stroke-width="0" />
<circle cx="1684.8" cy="133.3" r="7.0" fill="url(#bbb)"/>
<circle cx="1861.30" cy="126.30" r="10.50" fill="#fff" stroke="none" stroke-width="0" />
<circle cx="1861.3" cy="126.3" r="7.0" fill="url(#bbb)"/>
<circle cx="2037.70" cy="127.50" r="10.50" fill="#fff" stroke="none" stroke-width="0" />
<circle cx="2037.7" cy="127.5" r="7.0" fill="url(#bbb)"/>
</g>
<line x1="1507.90" y1="472.70" x2="1507.90" y2="463.70" stroke="#222" stroke-width="1.3" />
<line x1="1684.50" y1="472.70" x2="1684.50" y2="463.70" stroke="#222" stroke-width="1.3" />
<line x1="1861.10" y1="472.70" x2="1861.10" y2="463.70" stroke="#222" stroke-width="1.3" />
<line x1="2037.70" y1="472.70" x2="2037.70" y2="463.70" stroke="#222" stroke-width="1.3" />
<line x1="1596.20" y1="472.70" x2="1596.20" y2="467.70" stroke="#222" stroke-width="1.3" />
<line x1="1772.80" y1="472.70" x2="1772.80" y2="467.70" stroke="#222" stroke-width="1.3" />
<line x1="1949.40" y1="472.70" x2="1949.40" y2="467.70" stroke="#222" stroke-width="1.3" />
<line x1="1507.20" y1="27.60" x2="1516.20" y2="27.60" stroke="#222" stroke-width="1.3" />
<line x1="1507.20" y1="175.97" x2="1516.20" y2="175.97" stroke="#222" stroke-width="1.3" />
<line x1="1507.20" y1="131.30" x2="1511.70" y2="131.30" stroke="#222" stroke-width="1.3" />
<line x1="1507.20" y1="105.18" x2="1511.70" y2="105.18" stroke="#222" stroke-width="1.3" />
<line x1="1507.20" y1="86.64" x2="1511.70" y2="86.64" stroke="#222" stroke-width="1.3" />
<line x1="1507.20" y1="72.26" x2="1511.70" y2="72.26" stroke="#222" stroke-width="1.3" />
<line x1="1507.20" y1="60.51" x2="1511.70" y2="60.51" stroke="#222" stroke-width="1.3" />
<line x1="1507.20" y1="50.58" x2="1511.70" y2="50.58" stroke="#222" stroke-width="1.3" />
<line x1="1507.20" y1="41.98" x2="1511.70" y2="41.98" stroke="#222" stroke-width="1.3" />
<line x1="1507.20" y1="34.39" x2="1511.70" y2="34.39" stroke="#222" stroke-width="1.3" />
<line x1="1507.20" y1="324.33" x2="1516.20" y2="324.33" stroke="#222" stroke-width="1.3" />
<line x1="1507.20" y1="279.67" x2="1511.70" y2="279.67" stroke="#222" stroke-width="1.3" />
<line x1="1507.20" y1="253.54" x2="1511.70" y2="253.54" stroke="#222" stroke-width="1.3" />
<line x1="1507.20" y1="235.01" x2="1511.70" y2="235.01" stroke="#222" stroke-width="1.3" />
<line x1="1507.20" y1="220.63" x2="1511.70" y2="220.63" stroke="#222" stroke-width="1.3" />
<line x1="1507.20" y1="208.88" x2="1511.70" y2="208.88" stroke="#222" stroke-width="1.3" />
<line x1="1507.20" y1="198.95" x2="1511.70" y2="198.95" stroke="#222" stroke-width="1.3" />
<line x1="1507.20" y1="190.34" x2="1511.70" y2="190.34" stroke="#222" stroke-width="1.3" />
<line x1="1507.20" y1="182.76" x2="1511.70" y2="182.76" stroke="#222" stroke-width="1.3" />
<line x1="1507.20" y1="472.70" x2="1516.20" y2="472.70" stroke="#222" stroke-width="1.3" />
<line x1="1507.20" y1="428.04" x2="1511.70" y2="428.04" stroke="#222" stroke-width="1.3" />
<line x1="1507.20" y1="401.91" x2="1511.70" y2="401.91" stroke="#222" stroke-width="1.3" />
<line x1="1507.20" y1="383.37" x2="1511.70" y2="383.37" stroke="#222" stroke-width="1.3" />
<line x1="1507.20" y1="369.00" x2="1511.70" y2="369.00" stroke="#222" stroke-width="1.3" />
<line x1="1507.20" y1="357.25" x2="1511.70" y2="357.25" stroke="#222" stroke-width="1.3" />
<line x1="1507.20" y1="347.32" x2="1511.70" y2="347.32" stroke="#222" stroke-width="1.3" />
<line x1="1507.20" y1="338.71" x2="1511.70" y2="338.71" stroke="#222" stroke-width="1.3" />
<line x1="1507.20" y1="331.12" x2="1511.70" y2="331.12" stroke="#222" stroke-width="1.3" />
<line x1="2059.90" y1="398.40" x2="2050.90" y2="398.40" stroke="#222" stroke-width="1.3" />
<line x1="2059.90" y1="250.10" x2="2050.90" y2="250.10" stroke="#222" stroke-width="1.3" />
<line x1="2059.90" y1="101.80" x2="2050.90" y2="101.80" stroke="#222" stroke-width="1.3" />
<line x1="2059.90" y1="324.25" x2="2055.40" y2="324.25" stroke="#222" stroke-width="1.3" />
<line x1="2059.90" y1="175.95" x2="2055.40" y2="175.95" stroke="#222" stroke-width="1.3" />
<rect x="1507.20" y="27.60" width="552.70" height="445.10" stroke="#1a1a1a" stroke-width="1.6" fill="none" />
<text transform="translate(1508.50,501.80) translate(-6.52,0)" font-size="23.50" fill="#000" xml:space="preserve"><tspan x="0.00" y="0.00">0</tspan></text>
<text transform="translate(1685.10,501.80) translate(-6.52,0)" font-size="23.50" fill="#000" xml:space="preserve"><tspan x="0.00" y="0.00">8</tspan></text>
<text transform="translate(1861.70,501.80) translate(-13.04,0)" font-size="23.50" fill="#000" xml:space="preserve"><tspan x="0.00" y="0.00">16</tspan></text>
<text transform="translate(2038.30,501.80) translate(-13.04,0)" font-size="23.50" fill="#000" xml:space="preserve"><tspan x="0.00" y="0.00">24</tspan></text>
<text transform="translate(1492.50,34.00) translate(-44.80,0) scale(0.9801,1)" font-size="23.50" fill="#000" xml:space="preserve"><tspan x="0.00" y="0.00">0.01</tspan></text>
<text transform="translate(1492.50,182.27) translate(-61.00,0) scale(1.0362,1)" font-size="23.50" fill="#000" xml:space="preserve"><tspan x="0.00" y="0.00">0.001</tspan></text>
<text transform="translate(1492.90,330.40) translate(-73.00,0) scale(0.9309,1)" font-size="23.50" fill="#000" xml:space="preserve"><tspan x="0.00" y="0.00">1 × 10</tspan><tspan x="62.34" y="-11.75" font-size="14.10">−4</tspan></text>
<text transform="translate(1492.90,479.20) translate(-73.00,0) scale(0.9309,1)" font-size="23.50" fill="#000" xml:space="preserve"><tspan x="0.00" y="0.00">1 × 10</tspan><tspan x="62.34" y="-11.75" font-size="14.10">−5</tspan></text>
<text transform="translate(2073.90,404.70) translate(0.00,0) scale(1.0436,1)" font-size="23.50" fill="#000" xml:space="preserve"><tspan x="0.00" y="0.00">0.37</tspan></text>
<text transform="translate(2073.90,256.40) translate(0.00,0) scale(1.0436,1)" font-size="23.50" fill="#000" xml:space="preserve"><tspan x="0.00" y="0.00">0.38</tspan></text>
<text transform="translate(2073.90,108.10) translate(0.00,0) scale(1.0436,1)" font-size="23.50" fill="#000" xml:space="preserve"><tspan x="0.00" y="0.00">0.39</tspan></text>
<text transform="translate(1783.10,547.00) translate(-123.50,0) scale(1.1176,1)" font-size="26.00" fill="#000" xml:space="preserve"><tspan x="0.00" y="0.00">Ball-milling time (h)</tspan></text>
<text transform="translate(1396.40,250.10) rotate(-90) translate(-104.35,0) scale(1.0046,1)" font-size="26.00" fill="#0000ff" xml:space="preserve"><tspan x="0.00" y="0.00" font-style="italic">σ</tspan><tspan x="15.68" y="0.00"> (25 °C) (S cm</tspan><tspan x="180.65" y="-11.70" font-size="16.12">−1</tspan><tspan x="199.03" y="0.00">)</tspan></text>
<text transform="translate(2143.50,250.90) rotate(90) translate(-139.00,0) scale(1.0866,1)" font-size="26.00" fill="#ff0000" xml:space="preserve"><tspan x="0.00" y="0.00">Activation energy (eV)</tspan></text>
<text x="1357.0" y="29.5" font-size="37.5" font-weight="bold" stroke="#000" stroke-width="1.2" stroke-linejoin="round">c</text>
</g>
<g id="pd">
<clipPath id="cpd1"><rect x="60.2" y="601.6" width="553.5" height="221.8"/></clipPath>
<g clip-path="url(#cpd1)">
<path d="M54.2 789.9L62.7 788.4L65.2 787.6L66.7 786.5L69.2 783.1L70.2 782.4L71.2 782.7L74.2 785.7L75.7 786.2L77.2 786.2L92.7 784.1L94.7 783.5L98.2 781.7L99.2 781.7L102.2 782.4L104.2 782.3L106.2 781.4L109.7 778L110.7 777.6L111.7 778L114.7 780.2L116.2 780.7L117.7 780.7L158.2 776.2L160.2 775.5L161.7 774.4L163.2 772.4L165.7 768L166.7 767.2L167.2 767.3L168.2 768.3L171.2 772.8L172.2 773.7L173.7 774.3L176.7 774.4L183.7 773.7L189.2 772.7L192.7 771.7L194.2 770.8L195.2 769.5L196.2 767L196.7 765L198.2 755.4L200.2 737.5L200.7 734.4L201.2 732.8L201.7 733L202.2 734.8L204.2 747.7L204.7 749.7L205.2 750.4L205.7 749.8L206.2 747.8L208.7 728L209.2 725.5L209.7 724.8L210.2 725.9L210.7 728.8L213.7 756.2L214.7 762L215.7 765.4L216.7 767.1L217.7 767.9L218.7 768.2L221.7 768.5L226.2 768.2L236.7 766.7L269.7 761.3L315.2 754.5L335.2 751.2L348.2 748.6L361.2 745.8L371.2 743.1L377.2 741L379.7 739.5L381.2 737.9L382.7 735.1L383.7 732.2L385.7 723.1L389.7 697.8L390.7 694.3L391.2 693.8L391.7 694.1L392.7 696.9L396.7 720.3L398.7 728.5L399.7 730.9L401.2 733L402.7 733.9L405.2 734.2L408.7 733.8L413.2 732.9L425.7 729.6L433.7 727L436.2 725.8L437.7 724.7L439.7 722.4L441.2 719.5L442.7 715.4L446.2 703.7L447.7 700.6L448.2 700.2L448.7 700.2L449.2 700.5L451.7 704.3L453.2 705.8L454.2 706L455.2 705.9L456.2 705.2L456.7 704.4L458.2 700.3L461.7 685.3L462.7 682.9L463.2 682.6L463.7 682.7L464.2 683.5L465.2 686.3L469.2 704.1L471.2 710.3L472.2 712.2L473.7 714L475.2 714.8L477.2 715.1L480.2 714.9L485.2 714L503.7 710L619.7 682.2" stroke="#808000" stroke-width="11.2" fill="none" stroke-linejoin="round" stroke-linecap="round"/>
<path d="M54.2 789.9L65.7 788L67.2 787.4L70.2 785.7L71.2 785.8L73.7 786.6L76.2 786.5L105.2 782.5L110.7 781.3L115.7 781.2L160.2 776.1L161.7 775.7L163.2 774.7L165.7 771.2L166.7 770.4L167.7 770.9L170.2 774L171.2 774.6L172.7 774.8L178.2 774.5L186.2 773.5L191.2 772.6L194.2 771.6L195.7 770.7L196.7 769.3L197.7 766.2L198.2 763.6L199.2 755.7L200.7 738.8L201.7 730.6L202.2 729.8L202.7 731.7L204.7 749.1L205.2 751.3L205.7 751.2L206.7 744.3L208.2 727.3L208.7 723.4L209.2 721.9L209.7 723.1L210.2 726.8L212.7 755.2L214.2 764.4L215.2 766.9L215.7 767.6L216.7 768.3L219.7 768.7L224.2 768.5L234.7 767.1L269.7 761.3L315.2 754.5L334.2 751.4L347.2 748.9L360.2 746.1L370.7 743.5L377.7 741.4L380.2 740.2L381.7 738.9L383.2 736.8L384.2 734.4L386.2 726.8L389.7 707.6L390.7 704.4L391.2 703.9L391.7 704.1L392.7 706.7L395.7 721.9L397.2 728.1L398.7 732L399.7 733.5L400.7 734.3L402.2 734.8L403.7 734.9L409.7 733.9L422.2 730.8L433.7 727.3L436.2 726.2L438.2 725L439.7 723.5L440.7 722.1L442.7 717.8L446.2 707.1L447.7 704.2L448.2 703.8L449.2 704.1L451.7 707.4L452.7 708.3L453.7 708.4L454.7 708.1L456.2 707.1L457.2 705.2L458.2 701.9L461.7 686L462.7 683.4L463.2 683L463.7 683.2L464.2 684L465.2 687L468.7 703.3L470.7 710.1L471.7 712.2L473.2 714.1L474.7 715L476.7 715.3L479.7 715.1L484.7 714.2L502.2 710.3L619.7 682.2" stroke="#ff0000" stroke-width="3.2" fill="none" stroke-linejoin="round" />
<path d="M60.2 791L130 781.5L205.6 773L270 762.5L339.6 750.5L391.2 739.2L474 717.5L545 700.3L613.7 683.7" stroke="#000" stroke-width="1.8" fill="none" stroke-linejoin="round" />
<path d="M60.2 796.3L61.2 796.5L62.2 796L63.2 796.1L65.2 795.9L67.2 796L68.2 795.7L70.2 794.6L72.2 795.7L73.2 796.6L74.2 796L75.2 796.5L76.2 796.3L77.2 796.4L78.2 796.1L79.2 796.1L80.2 796.5L81.2 796.6L82.2 796.2L83.2 796.4L85.2 796.6L86.2 796L87.2 795.9L88.2 796L89.2 796.5L90.2 795.9L92.2 796.5L93.2 796.2L94.2 796.3L95.2 796L97.2 796.3L98.2 795.6L99.2 795.5L100.2 795.6L101.2 796L102.2 795.9L103.2 796.2L104.2 795.7L106.2 796.2L107.2 795.7L108.2 795.6L109.2 795.1L110.2 794L111.2 794.2L112.2 795.1L113.2 796.2L114.2 796.5L115.2 796.2L116.2 796.5L117.2 796.2L119.2 796.6L120.2 796.2L122.2 796.6L124.2 796.1L125.2 796.5L127.2 796.5L128.2 796.8L129.2 796.5L130.2 796.7L131.2 796.2L132.2 796.2L133.2 796.6L135.2 796.2L136.2 796.7L137.2 796.3L138.2 796.5L140.2 796.6L141.2 796.4L142.2 796.5L144.2 796.1L145.2 796.5L146.2 796.2L147.2 796.6L149.2 796.3L150.2 795.9L151.2 796.5L152.2 796.1L153.2 796.2L155.2 795.9L156.2 796L157.2 795.4L158.2 795.2L159.2 796.1L160.2 795.9L162.2 796.3L163.2 795.9L164.2 796.3L165.2 796L166.2 794.9L168.2 795.9L169.2 796.7L170.2 796.2L171.2 796.3L172.2 796.9L173.2 796.8L174.2 796.3L175.2 796.6L177.2 796.3L179.2 795.4L180.2 795.2L182.2 795.2L183.2 795.4L184.2 795.9L185.2 795.8L187.2 796.3L188.2 795.9L191.2 796.7L193.2 795.9L194.2 796.4L195.2 795.9L196.2 796.2L197.2 795.8L198.2 796L199.2 795.9L200.2 796.3L202.2 797.7L203.2 797.8L205.2 795.9L206.2 796L208.2 798.4L209.2 798.8L211.2 798.7L213.2 796.4L214.2 795.9L215.2 796.1L216.2 795.6L218.2 796L219.2 795.8L220.2 795.3L223.2 795.6L224.2 795.1L225.2 794.9L228.2 795.2L230.2 794.9L231.2 795.3L233.2 794.8L235.2 794.9L238.2 794.3L240.2 794.6L241.2 794.3L242.2 794.6L243.2 794.1L244.2 794.2L245.2 794.6L246.2 794.1L247.2 794.4L248.2 794.3L249.2 794.6L250.2 794.2L251.2 794L252.2 794.5L254.2 794.7L255.2 794.7L256.2 794.1L259.2 794.9L260.2 795L261.2 794.8L262.2 795.1L264.2 794.8L269.2 795.4L270.2 795.1L271.2 795.5L272.2 795L274.2 795.1L275.2 795.4L276.2 795.1L277.2 795.8L278.2 795.7L279.2 795.2L281.2 795.5L282.2 795.4L283.2 796L284.2 795.7L285.2 796.1L286.2 795.9L287.2 796.2L289.2 796.3L290.2 796L292.2 796.3L293.2 796L295.2 796.3L296.2 795.9L297.2 796.3L298.2 796.3L299.2 796.5L300.2 796.2L301.2 796.7L303.2 796.2L304.2 796.7L305.2 796.6L306.2 796.2L309.2 796.9L310.2 796.3L311.2 797L312.2 796.6L313.2 797L314.2 796.8L315.2 797L318.2 796.6L321.2 797.1L324.2 797.1L325.2 796.8L326.2 797L331.2 796.8L332.2 797L333.2 796.9L334.2 797.2L336.2 796.7L341.2 797.2L343.2 796.8L344.2 796.8L345.2 797.2L346.2 797L347.2 797.2L350.2 797.1L351.2 797.3L355.2 796.9L356.2 797.1L357.2 796.9L358.2 797.5L359.2 797L360.2 797.3L361.2 797.2L363.2 796.6L364.2 796.1L365.2 796L367.2 795.5L368.2 795.6L369.2 795.3L370.2 795.7L371.2 795.7L372.2 795.2L373.2 795.1L376.2 795.5L377.2 795.1L378.2 795.1L379.2 795.6L380.2 795.2L381.2 795.4L383.2 795L384.2 795.2L385.2 795.1L387.2 793.8L390.2 790.6L392.2 790.6L394.2 792.7L395.2 793.1L397.2 794.9L399.2 795.1L401.2 795.8L403.2 796L404.2 795.6L405.2 796.1L408.2 796.5L409.2 796L410.2 796.5L413.2 796.2L414.2 796.4L415.2 796.2L416.2 796.5L417.2 796.3L419.2 796.7L420.2 796.2L421.2 796.1L422.2 796.6L423.2 796.3L424.2 796.6L425.2 796.4L426.2 796.6L429.2 796L430.2 796.1L431.2 795.9L432.2 796L433.2 796.4L434.2 795.8L436.2 796.4L438.2 796.2L439.2 795.9L442.2 796.2L443.2 795.4L445.2 794.7L446.2 794.7L448.2 793.6L449.2 793.8L450.2 793.6L451.2 794.1L453.2 794.2L455.2 795.5L456.2 795.6L457.2 796.5L460.2 798.1L461.2 797.9L462.2 797.2L463.2 797.4L464.2 796.9L465.2 796.9L466.2 796L468.2 795.4L469.2 795.4L470.2 794.9L472.2 795L474.2 794.8L475.2 794.5L476.2 794.9L477.2 794.6L478.2 794.9L480.2 794.5L483.2 794.6L484.2 794.9L486.2 794.7L487.2 795.3L488.2 795.1L489.2 795.4L491.2 795.3L493.2 795.4L494.2 795.6L495.2 795.4L496.2 795.8L497.2 795.3L498.2 795.8L499.2 795.4L500.2 795.8L501.2 795.5L502.2 795.9L503.2 795.6L504.2 796.3L507.2 796.4L508.2 795.9L510.2 796L512.2 796.6L513.2 796.8L514.2 796.6L516.2 796.8L517.2 796.5L520.2 796.4L521.2 796.9L522.2 796.5L523.2 796.6L524.2 797L525.2 796.7L526.2 797.2L527.2 796.7L528.2 796.9L529.2 796.8L530.2 797.2L531.2 796.8L533.2 796.9L534.2 797.2L535.2 796.6L536.2 797.1L537.2 797.2L538.2 796.6L539.2 796.9L540.2 796.8L541.2 797.2L542.2 797L545.2 797L547.2 796.6L548.2 797L549.2 796.8L551.2 797.2L553.2 796.7L554.2 796.8L555.2 797.2L556.2 797.2L558.2 797.2L559.2 796.7L560.2 796.6L563.2 796.7L564.2 797L565.2 796.8L566.2 797.1L567.2 796.7L568.2 797.1L569.2 796.7L570.2 797L572.2 796.6L574.2 797L576.2 796.9L577.2 796.7L579.2 797.3L581.2 797L582.2 797.2L583.2 797.2L585.2 796.6L589.2 796.8L590.2 797.2L591.2 796.6L592.2 797.2L596.2 797L598.2 796.5L601.2 797L605.2 796.5L606.2 797L607.2 796.7L608.2 797.1L609.2 796.6L612.2 797L613.2 796.7" stroke="#0000ff" stroke-width="3.1" fill="none" stroke-linejoin="round" />
</g>
<line x1="61.60" y1="802.50" x2="61.60" y2="814.50" stroke="#ff00ff" stroke-width="2.1" />
<line x1="66.40" y1="802.50" x2="66.40" y2="814.50" stroke="#ff00ff" stroke-width="2.1" />
<line x1="68.40" y1="802.50" x2="68.40" y2="814.50" stroke="#ff00ff" stroke-width="2.1" />
<line x1="70.00" y1="802.50" x2="70.00" y2="814.50" stroke="#ff00ff" stroke-width="2.1" />
<line x1="71.70" y1="802.50" x2="71.70" y2="814.50" stroke="#ff00ff" stroke-width="2.1" />
<line x1="76.70" y1="802.50" x2="76.70" y2="814.50" stroke="#ff00ff" stroke-width="2.1" />
<line x1="83.20" y1="802.50" x2="83.20" y2="814.50" stroke="#ff00ff" stroke-width="2.1" />
<line x1="85.80" y1="802.50" x2="85.80" y2="814.50" stroke="#ff00ff" stroke-width="2.1" />
<line x1="93.00" y1="802.50" x2="93.00" y2="814.50" stroke="#ff00ff" stroke-width="2.1" />
<line x1="96.60" y1="802.50" x2="96.60" y2="814.50" stroke="#ff00ff" stroke-width="2.1" />
<line x1="98.30" y1="802.50" x2="98.30" y2="814.50" stroke="#ff00ff" stroke-width="2.1" />
<line x1="100.20" y1="802.50" x2="100.20" y2="814.50" stroke="#ff00ff" stroke-width="2.1" />
<line x1="111.30" y1="802.50" x2="111.30" y2="814.50" stroke="#ff00ff" stroke-width="2.1" />
<line x1="137.20" y1="802.50" x2="137.20" y2="814.50" stroke="#ff00ff" stroke-width="2.1" />
<line x1="141.50" y1="802.50" x2="141.50" y2="814.50" stroke="#ff00ff" stroke-width="2.1" />
<line x1="157.40" y1="802.50" x2="157.40" y2="814.50" stroke="#ff00ff" stroke-width="2.1" />
<line x1="165.30" y1="802.50" x2="165.30" y2="814.50" stroke="#ff00ff" stroke-width="2.1" />
<line x1="167.50" y1="802.50" x2="167.50" y2="814.50" stroke="#ff00ff" stroke-width="2.1" />
<line x1="173.50" y1="802.50" x2="173.50" y2="814.50" stroke="#ff00ff" stroke-width="2.1" />
<line x1="202.80" y1="802.50" x2="202.80" y2="814.50" stroke="#ff00ff" stroke-width="2.1" />
<line x1="209.50" y1="802.50" x2="209.50" y2="814.50" stroke="#ff00ff" stroke-width="2.1" />
<line x1="288.00" y1="802.50" x2="288.00" y2="814.50" stroke="#ff00ff" stroke-width="2.1" />
<line x1="391.20" y1="802.50" x2="391.20" y2="814.50" stroke="#ff00ff" stroke-width="2.1" />
<line x1="448.10" y1="802.50" x2="448.10" y2="814.50" stroke="#ff00ff" stroke-width="2.1" />
<line x1="464.00" y1="802.50" x2="464.00" y2="814.50" stroke="#ff00ff" stroke-width="2.1" />
<line x1="65.60" y1="823.40" x2="65.60" y2="814.90" stroke="#222" stroke-width="1.3" />
<line x1="111.26" y1="823.40" x2="111.26" y2="818.40" stroke="#222" stroke-width="1.3" />
<line x1="156.93" y1="823.40" x2="156.93" y2="814.90" stroke="#222" stroke-width="1.3" />
<line x1="202.59" y1="823.40" x2="202.59" y2="818.40" stroke="#222" stroke-width="1.3" />
<line x1="248.25" y1="823.40" x2="248.25" y2="814.90" stroke="#222" stroke-width="1.3" />
<line x1="293.91" y1="823.40" x2="293.91" y2="818.40" stroke="#222" stroke-width="1.3" />
<line x1="339.58" y1="823.40" x2="339.58" y2="814.90" stroke="#222" stroke-width="1.3" />
<line x1="385.24" y1="823.40" x2="385.24" y2="818.40" stroke="#222" stroke-width="1.3" />
<line x1="430.90" y1="823.40" x2="430.90" y2="814.90" stroke="#222" stroke-width="1.3" />
<line x1="476.56" y1="823.40" x2="476.56" y2="818.40" stroke="#222" stroke-width="1.3" />
<line x1="522.23" y1="823.40" x2="522.23" y2="814.90" stroke="#222" stroke-width="1.3" />
<line x1="567.89" y1="823.40" x2="567.89" y2="818.40" stroke="#222" stroke-width="1.3" />
<line x1="613.55" y1="823.40" x2="613.55" y2="814.90" stroke="#222" stroke-width="1.3" />
<rect x="60.20" y="601.60" width="553.50" height="221.80" stroke="#1a1a1a" stroke-width="1.6" fill="none" />
<text transform="translate(65.60,854.60) translate(-14.30,0) scale(0.8230,1)" font-size="25.00" fill="#000" xml:space="preserve"><tspan x="0.00" y="0.00">1.0</tspan></text>
<text transform="translate(156.93,854.60) translate(-14.30,0) scale(0.8230,1)" font-size="25.00" fill="#000" xml:space="preserve"><tspan x="0.00" y="0.00">1.5</tspan></text>
<text transform="translate(248.25,854.60) translate(-16.85,0) scale(0.9698,1)" font-size="25.00" fill="#000" xml:space="preserve"><tspan x="0.00" y="0.00">2.0</tspan></text>
<text transform="translate(339.58,854.60) translate(-16.85,0) scale(0.9698,1)" font-size="25.00" fill="#000" xml:space="preserve"><tspan x="0.00" y="0.00">2.5</tspan></text>
<text transform="translate(430.90,854.60) translate(-16.85,0) scale(0.9698,1)" font-size="25.00" fill="#000" xml:space="preserve"><tspan x="0.00" y="0.00">3.0</tspan></text>
<text transform="translate(522.23,854.60) translate(-16.85,0) scale(0.9698,1)" font-size="25.00" fill="#000" xml:space="preserve"><tspan x="0.00" y="0.00">3.5</tspan></text>
<text transform="translate(613.55,854.60) translate(-16.85,0) scale(0.9698,1)" font-size="25.00" fill="#000" xml:space="preserve"><tspan x="0.00" y="0.00">4.0</tspan></text>
<text transform="translate(333.30,896.80) translate(-29.50,0) scale(1.0681,1)" font-size="25.50" fill="#000" xml:space="preserve"><tspan x="0.00" y="0.00" font-style="italic">d</tspan><tspan x="14.18" y="0.00"> (Å)</tspan></text>
<text transform="translate(34.60,713.80) rotate(-90) translate(-88.00,0) scale(1.1113,1)" font-size="25.00" fill="#000" xml:space="preserve"><tspan x="0.00" y="0.00">Intensity (a.u.)</tspan></text>
<text x="0.0" y="600.4" font-size="37.5" font-weight="bold" stroke="#000" stroke-width="1.2" stroke-linejoin="round">d</text>
<text transform="translate(75.30,626.80) translate(0.00,0) scale(0.9852,1)" font-size="23.50" fill="#000" xml:space="preserve"><tspan x="0.00" y="0.00">β-Li</tspan><tspan x="39.64" y="6.58" font-size="14.57">3</tspan><tspan x="47.74" y="0.00">N-400rpm-16h  SXRD </tspan><tspan x="284.14" y="0.00" font-style="italic" font-family="Liberation Serif, serif">λ</tspan><tspan x="294.32" y="0.00"> = 0.410272 </tspan><tspan x="425.64" y="0.00" font-family="Liberation Serif, serif">Å</tspan></text>
<circle cx="95.00" cy="644.40" r="4.60" fill="none" stroke="#808000" stroke-width="2.5" />
<line x1="83.90" y1="666.40" x2="106.30" y2="666.40" stroke="#ff0000" stroke-width="2.4" />
<line x1="83.90" y1="689.80" x2="106.30" y2="689.80" stroke="#0000ff" stroke-width="2.4" />
<line x1="95.00" y1="706.00" x2="95.00" y2="718.30" stroke="#ff00ff" stroke-width="2" />
<text transform="translate(119.90,651.60) translate(0.00,0) scale(1.1204,1)" font-size="17.50" fill="#000" xml:space="preserve"><tspan x="0.00" y="0.00">Observed</tspan></text>
<text transform="translate(119.90,674.30) translate(0.00,0) scale(1.1368,1)" font-size="17.50" fill="#000" xml:space="preserve"><tspan x="0.00" y="0.00">Calculated</tspan></text>
<text transform="translate(119.90,697.80) translate(0.00,0) scale(1.1240,1)" font-size="17.50" fill="#000" xml:space="preserve"><tspan x="0.00" y="0.00">Difference</tspan></text>
<text transform="translate(119.90,718.00) translate(0.00,0) scale(1.1393,1)" font-size="17.50" fill="#000" xml:space="preserve"><tspan x="0.00" y="0.00">Bragg position</tspan></text>
<clipPath id="cpd2"><rect x="61.6" y="923.5" width="553.3" height="221.4"/></clipPath>
<g clip-path="url(#cpd2)">
<path d="M55.6 1099.9L65.6 1099.8L66.6 1099.6L68.6 1098.5L69.1 1098.5L71.1 1099.6L72.1 1099.9L78.1 1099.9L79.6 1099.6L81.6 1098.2L82.1 1098.3L84.6 1099.9L87.1 1100.1L88.6 1099.7L90.6 1097.6L91.1 1097.3L91.6 1097.5L93.1 1099.4L94.1 1100.1L98.1 1100.3L99.1 1100.1L100.1 1099.3L102.1 1096.4L102.6 1096.2L103.1 1096.4L103.6 1097L105.1 1099.5L106.6 1100.7L107.6 1100.8L108.6 1100.5L110.1 1098.9L110.6 1098.8L113.1 1101.3L115.1 1101.5L116.1 1101.1L116.6 1100.7L117.6 1098.9L119.1 1095L119.6 1094.3L120.1 1094.2L120.6 1094.9L123.1 1101.2L123.6 1101.9L124.6 1102.7L128.6 1103.4L130.1 1103.3L131.1 1102.4L133.1 1098.7L133.6 1098.5L134.1 1098.9L134.6 1099.8L136.1 1103.2L137.1 1104.5L139.1 1105.2L142.1 1105.2L143.6 1104.3L144.6 1102.5L145.1 1100.9L147.6 1087L148.1 1084.8L148.6 1083.7L149.1 1084L149.6 1085.6L151.6 1097.5L152.6 1101.9L153.6 1104.2L154.6 1105.2L157.1 1105.8L161.1 1105.8L162.1 1105.1L163.6 1103.1L164.1 1102.8L164.6 1103L166.1 1104.7L166.6 1104.8L167.1 1104.5L168.1 1102.6L170.1 1095.4L170.6 1094.1L171.1 1093.7L171.6 1094.3L172.1 1095.7L174.1 1103.1L174.6 1104.3L175.6 1105.5L176.1 1105.6L176.6 1105.2L178.6 1101.6L179.1 1101.4L179.6 1102L181.1 1105.3L182.1 1106.5L183.6 1107L187.1 1107L188.1 1106.8L189.1 1106.2L190.1 1104.7L191.1 1101.6L192.6 1095.1L193.6 1092.4L194.1 1092.4L194.6 1093.5L196.6 1101.7L197.6 1104.4L198.1 1105L198.6 1105L199.1 1104.5L200.1 1101.4L200.6 1098.8L202.6 1085L203.1 1082.8L203.6 1082.2L204.1 1083.1L205.6 1089.5L206.1 1090.8L206.6 1090.8L207.1 1089.7L208.6 1083.4L209.1 1082.6L209.6 1083.3L210.1 1085.4L212.6 1102.3L213.6 1105.8L214.1 1106.8L215.1 1107.8L217.1 1108.3L218.6 1108L219.6 1107L221.1 1104.8L221.6 1104.5L222.1 1104.8L222.6 1105.5L224.6 1109.5L226.1 1110.6L228.6 1110.9L237.1 1111L240.6 1110.8L242.6 1110.4L244.1 1109.3L245.6 1106.8L249.1 1095.4L250.1 1093.3L250.6 1093L251.1 1093.3L252.1 1095.3L254.6 1103.6L256.1 1107.2L257.1 1108.5L258.1 1109.2L259.6 1109.6L261.1 1109.6L262.6 1109.3L263.6 1108.5L264.6 1106.7L265.1 1105.2L266.1 1100.8L268.6 1084.1L269.1 1081.9L269.6 1080.8L270.1 1081.1L270.6 1082.6L273.1 1095.7L273.6 1096.9L274.1 1097.3L274.6 1097.3L275.1 1096.8L276.1 1093.9L278.6 1078.3L279.1 1076.2L279.6 1075.1L280.1 1075.3L281.1 1079.2L283.6 1097.5L285.1 1105.4L286.6 1109.2L287.6 1110.3L288.6 1110.8L291.6 1111.4L297.1 1111.6L305.6 1111.6L308.6 1111.2L310.1 1110.2L311.1 1109L312.6 1105.9L314.6 1100.8L315.6 1099.1L316.1 1098.8L316.6 1098.9L317.6 1100.1L320.1 1105.9L321.6 1108.1L322.1 1108.4L323.1 1108.4L325.1 1107.5L326.1 1107.4L327.1 1107.9L331.1 1111.2L333.1 1112L336.6 1112.8L340.1 1113.1L344.6 1112.8L374.6 1112.5L383.6 1112.3L389.1 1111.8L391.6 1111.4L393.6 1110.2L395.1 1108.2L396.6 1104.2L398.6 1094.4L402.6 1064.5L403.6 1059.8L404.1 1058.7L404.6 1058.5L405.1 1059.2L405.6 1060.7L406.6 1066.1L409.6 1089L411.6 1100.7L412.6 1104.5L413.6 1107L415.1 1109.1L416.6 1110.1L418.6 1110.5L421.1 1110.7L434.6 1110.6L440.1 1110.3L447.6 1109.2L450.1 1109.2L456.1 1109.8L460.6 1109.9L473.1 1109.2L482.1 1108.3L486.6 1107.2L488.1 1106.4L489.6 1105.3L491.6 1102.7L493.6 1098.1" stroke="#808000" stroke-width="11.2" fill="none" stroke-linejoin="round" stroke-linecap="round"/>
<path d="M509.1 956.2L509.6 955.5L510.1 955.7L510.6 956.7" stroke="#808000" stroke-width="11.2" fill="none" stroke-linejoin="round" stroke-linecap="round"/>
<path d="M526.1 1097.7L527.6 1101.1L529.1 1103.3L531.1 1105L533.1 1105.9L537.1 1106.6L543.1 1106.9L552.1 1106.8L555.6 1106.2L557.1 1105.3L558.1 1104.3L560.1 1100.8L562.1 1095.2L565.1 1084.8L566.1 1082.1L567.1 1080.4L567.6 1080.1L568.6 1080.2L571.1 1083.5L572.6 1084.7L575.1 1085.3L576.1 1085.1L577.1 1084L577.6 1083.1L581.1 1073.7L582.1 1072.3L582.6 1072.1L583.1 1072.2L583.6 1072.7L584.6 1074.7L586.1 1079.7L590.6 1097.5L592.6 1102.9L594.6 1106.1L596.6 1107.8L598.6 1108.7L606.6 1110.2L616.1 1113.2L620.6 1114" stroke="#808000" stroke-width="11.2" fill="none" stroke-linejoin="round" stroke-linecap="round"/>
<g fill="none" stroke="#808000" stroke-width="2.3"><circle cx="493.5" cy="1098.4" r="4.6"/><circle cx="494.1" cy="1096.4" r="4.6"/><circle cx="494.7" cy="1094.2" r="4.6"/><circle cx="495.3" cy="1091.5" r="4.6"/><circle cx="495.9" cy="1088.5" r="4.6"/><circle cx="496.5" cy="1085.0" r="4.6"/><circle cx="497.1" cy="1081.1" r="4.6"/><circle cx="497.7" cy="1076.6" r="4.6"/><circle cx="498.3" cy="1071.7" r="4.6"/><circle cx="498.9" cy="1066.2" r="4.6"/><circle cx="499.5" cy="1060.3" r="4.6"/><circle cx="500.1" cy="1053.8" r="4.6"/><circle cx="500.7" cy="1046.9" r="4.6"/><circle cx="501.3" cy="1039.6" r="4.6"/><circle cx="501.9" cy="1031.9" r="4.6"/><circle cx="502.5" cy="1024.0" r="4.6"/><circle cx="503.1" cy="1015.9" r="4.6"/><circle cx="503.7" cy="1007.8" r="4.6"/><circle cx="504.3" cy="999.8" r="4.6"/><circle cx="504.9" cy="992.0" r="4.6"/><circle cx="505.5" cy="984.5" r="4.6"/><circle cx="506.1" cy="977.6" r="4.6"/><circle cx="506.7" cy="971.4" r="4.6"/><circle cx="507.3" cy="966.0" r="4.6"/><circle cx="507.9" cy="961.6" r="4.6"/><circle cx="508.5" cy="958.3" r="4.6"/><circle cx="509.1" cy="956.2" r="4.6"/><circle cx="510.5" cy="956.5" r="4.6"/><circle cx="511.1" cy="958.7" r="4.6"/><circle cx="511.7" cy="962.1" r="4.6"/><circle cx="512.3" cy="966.7" r="4.6"/><circle cx="512.9" cy="972.2" r="4.6"/><circle cx="513.5" cy="978.5" r="4.6"/><circle cx="514.1" cy="985.5" r="4.6"/><circle cx="514.7" cy="993.0" r="4.6"/><circle cx="515.3" cy="1000.8" r="4.6"/><circle cx="515.9" cy="1008.8" r="4.6"/><circle cx="516.5" cy="1016.9" r="4.6"/><circle cx="517.1" cy="1024.9" r="4.6"/><circle cx="517.7" cy="1032.8" r="4.6"/><circle cx="518.3" cy="1040.3" r="4.6"/><circle cx="518.9" cy="1047.6" r="4.6"/><circle cx="519.5" cy="1054.4" r="4.6"/><circle cx="520.1" cy="1060.7" r="4.6"/><circle cx="520.7" cy="1066.5" r="4.6"/><circle cx="521.3" cy="1071.9" r="4.6"/><circle cx="521.9" cy="1076.7" r="4.6"/><circle cx="522.5" cy="1081.0" r="4.6"/><circle cx="523.1" cy="1084.8" r="4.6"/><circle cx="523.7" cy="1088.2" r="4.6"/><circle cx="524.3" cy="1091.1" r="4.6"/><circle cx="524.9" cy="1093.7" r="4.6"/><circle cx="525.5" cy="1095.8" r="4.6"/><circle cx="526.1" cy="1097.7" r="4.6"/></g>
<path d="M55.6 1099.9L65.6 1099.8L66.6 1099.6L68.6 1098.5L69.1 1098.5L71.1 1099.6L72.1 1099.9L78.1 1099.9L79.6 1099.6L81.6 1098.2L82.1 1098.3L84.6 1099.9L87.1 1100.1L88.6 1099.7L90.6 1097.6L91.1 1097.3L91.6 1097.5L93.1 1099.4L94.1 1100.1L98.1 1100.3L99.1 1100.1L100.1 1099.3L102.1 1096.4L102.6 1096.2L103.1 1096.4L103.6 1097L105.1 1099.5L106.6 1100.7L107.6 1100.8L108.6 1100.5L110.1 1098.9L110.6 1098.8L113.1 1101.3L115.1 1101.5L116.1 1101.1L116.6 1100.7L117.6 1098.9L119.1 1095L119.6 1094.3L120.1 1094.2L120.6 1094.9L123.1 1101.2L123.6 1101.9L124.6 1102.7L128.6 1103.4L130.1 1103.3L131.1 1102.4L133.1 1098.7L133.6 1098.5L134.1 1098.9L134.6 1099.8L136.1 1103.2L137.1 1104.5L139.1 1105.2L142.1 1105.2L143.6 1104.3L144.6 1102.5L145.1 1100.9L147.6 1087L148.1 1084.8L148.6 1083.7L149.1 1084L149.6 1085.6L151.6 1097.5L152.6 1101.9L153.6 1104.2L154.6 1105.2L157.1 1105.8L161.1 1105.8L162.1 1105.1L163.6 1103.1L164.1 1102.8L164.6 1103L166.1 1104.7L166.6 1104.8L167.1 1104.5L168.1 1102.6L170.1 1095.4L170.6 1094.1L171.1 1093.7L171.6 1094.3L172.1 1095.7L174.1 1103.1L174.6 1104.3L175.6 1105.5L176.1 1105.6L176.6 1105.2L178.6 1101.6L179.1 1101.4L179.6 1102L181.1 1105.3L182.1 1106.5L183.6 1107L187.1 1107L188.1 1106.8L189.1 1106.2L190.1 1104.7L191.1 1101.6L192.6 1095.1L193.6 1092.4L194.1 1092.4L194.6 1093.5L196.6 1101.7L197.6 1104.4L198.1 1105L198.6 1105L199.1 1104.5L200.1 1101.4L200.6 1098.8L202.6 1085L203.1 1082.8L203.6 1082.2L204.1 1083.1L205.6 1089.5L206.1 1090.8L206.6 1090.8L207.1 1089.7L208.6 1083.4L209.1 1082.6L209.6 1083.3L210.1 1085.4L212.6 1102.3L213.6 1105.8L214.1 1106.8L215.1 1107.8L217.1 1108.3L218.6 1108L219.6 1107L221.1 1104.8L221.6 1104.5L222.1 1104.8L222.6 1105.5L224.6 1109.5L226.1 1110.6L228.6 1110.9L237.1 1111L240.6 1110.8L242.6 1110.4L244.1 1109.3L245.6 1106.8L249.1 1095.4L250.1 1093.3L250.6 1093L251.1 1093.3L252.1 1095.3L254.6 1103.6L256.1 1107.2L257.1 1108.5L258.1 1109.2L259.6 1109.6L261.1 1109.6L262.6 1109.3L263.6 1108.5L264.6 1106.7L265.1 1105.2L266.1 1100.8L268.6 1084.1L269.1 1081.9L269.6 1080.8L270.1 1081.1L270.6 1082.6L273.1 1095.7L273.6 1096.9L274.1 1097.3L274.6 1097.3L275.1 1096.8L276.1 1093.9L278.6 1078.3L279.1 1076.2L279.6 1075.1L280.1 1075.3L281.1 1079.2L283.6 1097.5L285.1 1105.4L286.6 1109.2L287.6 1110.3L288.6 1110.8L291.6 1111.4L297.1 1111.6L305.6 1111.6L308.6 1111.2L310.1 1110.2L311.1 1109L312.6 1105.9L314.6 1100.8L315.6 1099.1L316.1 1098.8L316.6 1098.9L317.6 1100.1L320.1 1105.9L321.6 1108.1L322.1 1108.4L323.1 1108.4L325.1 1107.5L326.1 1107.4L327.1 1107.9L331.1 1111.2L333.1 1112L336.6 1112.8L340.1 1113.1L344.6 1112.8L374.6 1112.5L383.6 1112.3L389.1 1111.8L391.6 1111.4L393.6 1110.2L395.1 1108.2L396.6 1104.2L398.6 1094.4L402.6 1064.5L403.6 1059.8L404.1 1058.7L404.6 1058.5L405.1 1059.2L405.6 1060.7L406.6 1066.1L409.6 1089L411.6 1100.7L412.6 1104.5L413.6 1107L414.6 1108.6L416.1 1109.8L417.6 1110.4L419.1 1110.6L425.6 1110.7L438.6 1110.4L448.1 1109.1L456.1 1109.8L461.6 1109.8L477.1 1108.9L482.1 1108.3L485.6 1107.5L487.6 1106.7L489.6 1105.3L491.1 1103.5L492.1 1101.8L493.6 1098.1L494.6 1094.6L496.6 1084.4L498.1 1073.4L500.1 1053.8L506.6 972.3L508.1 960.4L509.1 956.2L509.6 955.5L510.1 955.7L511.1 958.7L512.1 965L513.1 974.2L518.6 1044L521.6 1074.3L523.1 1084.8L524.6 1092.4L526.6 1099L528.6 1102.7L530.1 1104.3L531.6 1105.3L533.6 1106L536.6 1106.5L541.6 1106.8L551.1 1106.9L554.1 1106.6L556.1 1105.9L558.1 1104.3L560.1 1100.8L562.1 1095.2L565.1 1084.8L566.1 1082.1L567.1 1080.4L567.6 1080.1L568.6 1080.2L571.1 1083.5L572.6 1084.7L575.1 1085.3L576.1 1085.1L577.1 1084L577.6 1083.1L581.1 1073.7L582.1 1072.3L582.6 1072.1L583.1 1072.2L583.6 1072.7L584.6 1074.7L586.1 1079.7L590.6 1097.5L592.6 1102.9L594.6 1106.1L596.6 1107.8L598.6 1108.7L606.6 1110.2L616.1 1113.2L620.6 1114" stroke="#ff0000" stroke-width="3.2" fill="none" stroke-linejoin="round" />
<path d="M61.6 1120.6L62.6 1120.2L63.6 1120.7L67.6 1120.3L68.6 1120.6L69.6 1120.3L70.6 1120.3L71.6 1120.6L72.6 1120.5L73.6 1120.1L74.6 1120.5L75.6 1120.2L76.6 1120.7L77.6 1120.7L78.6 1120.4L79.6 1120.7L80.6 1120L81.6 1120.4L82.6 1120L83.6 1120.3L84.6 1120L85.6 1120L86.6 1120.5L88.6 1120L91.6 1120.3L92.6 1120.1L93.6 1120.5L96.6 1120.3L97.6 1120.6L99.6 1120.1L101.6 1120.8L102.6 1120.4L103.6 1120.8L104.6 1120.3L105.6 1120.5L107.6 1120.4L108.6 1120.8L109.6 1120.6L110.6 1121L112.6 1120.2L114.6 1121L116.6 1120.3L117.6 1120.5L118.6 1120.3L119.6 1121.2L122.6 1120.9L123.6 1121L124.6 1120.5L126.6 1120.8L128.6 1120.4L129.6 1121.2L130.6 1120.7L133.6 1120.4L134.6 1120.4L135.6 1120.8L136.6 1120.7L138.6 1120L139.6 1120.6L140.6 1120.2L141.6 1120.5L142.6 1120.1L143.6 1120.9L144.6 1120.9L145.6 1121.2L147.6 1121.5L149.6 1122.2L150.6 1121.3L151.6 1121.3L152.6 1120.8L153.6 1121.1L155.6 1120.4L158.6 1120.7L159.6 1120.2L160.6 1120.9L161.6 1120.8L162.6 1120.2L163.6 1120.8L165.6 1120.7L167.6 1120.2L168.6 1120.8L171.6 1120L172.6 1120.4L173.6 1119.8L176.6 1119.7L178.6 1118.9L179.6 1119.3L180.6 1119.5L182.6 1120.3L185.6 1120L186.6 1120L187.6 1119.7L188.6 1120.1L189.6 1119.7L191.6 1119.3L194.6 1119.3L196.6 1120.1L198.6 1121.2L199.6 1120.5L200.6 1120.5L201.6 1120.1L202.6 1118.9L204.6 1119.7L205.6 1121.5L206.6 1121.9L207.6 1121.3L208.6 1119.6L209.6 1119.3L210.6 1120L213.6 1121.1L214.6 1121.2L215.6 1120.5L217.6 1120.2L219.6 1120.4L220.6 1119.8L221.6 1120.4L222.6 1120L223.6 1120.2L224.6 1119.9L226.6 1120.5L228.6 1119.9L229.6 1120.1L232.6 1120.3L233.6 1119.9L236.6 1120.5L238.6 1120.6L239.6 1120.4L240.6 1120.8L241.6 1120.2L244.6 1120.7L245.6 1120.3L246.6 1120.7L247.6 1120.3L248.6 1120.6L249.6 1119.9L250.6 1119.9L251.6 1120.8L252.6 1120L253.6 1120.5L254.6 1120.2L255.6 1120.1L256.6 1120.3L257.6 1120.7L258.6 1120.4L259.6 1120.8L261.6 1120.7L262.6 1121L264.6 1121.1L265.6 1121.6L267.6 1122L268.6 1121.2L270.6 1120.3L272.6 1120.4L273.6 1120.1L274.6 1120.7L275.6 1120.9L276.6 1121.6L277.6 1121.4L278.6 1120.9L280.6 1121L281.6 1120.8L282.6 1120.1L283.6 1120.4L284.6 1120.4L285.6 1119.6L287.6 1119.9L288.6 1119.7L289.6 1120.3L292.6 1120.1L293.6 1119.7L294.6 1119.6L295.6 1119.9L296.6 1119.7L297.6 1120.2L299.6 1119.7L300.6 1120.1L301.6 1119.7L302.6 1119.6L303.6 1120.2L305.6 1119.8L307.6 1120.6L308.6 1120L309.6 1120.6L310.6 1120.7L311.6 1120.1L312.6 1120.8L314.6 1120.3L315.6 1120.7L318.6 1120.3L321.6 1120.7L322.6 1120.2L323.6 1120.8L324.6 1120.2L325.6 1120.3L326.6 1120.7L328.6 1120.9L331.6 1120.1L332.6 1120.5L333.6 1120.1L336.6 1120.7L337.6 1120.2L338.6 1120.8L339.6 1120.8L341.6 1120.5L344.6 1120.8L345.6 1120.7L346.6 1120.5L347.6 1120L348.6 1120.5L350.6 1120.1L351.6 1120.8L356.6 1120.3L358.6 1120.5L359.6 1120.1L360.6 1121L361.6 1120.2L362.6 1120.5L363.6 1120.3L364.6 1120.4L365.6 1121.1L366.6 1120.6L367.6 1121L368.6 1120.5L369.6 1120.6L370.6 1121.2L371.6 1121.3L372.6 1120.7L373.6 1121.4L375.6 1121L377.6 1120.9L378.6 1121.5L380.6 1121.1L381.6 1120.7L382.6 1120.9L383.6 1121.6L386.6 1120.9L387.6 1121.1L389.6 1121.1L390.6 1121.4L393.6 1121.3L394.6 1121.8L395.6 1121.7L396.6 1123.1L397.6 1123.3L398.6 1124.4L399.6 1125.1L400.6 1125.2L401.6 1124.8L403.6 1122L404.6 1120.2L406.6 1118.4L407.6 1118.1L408.6 1118.7L409.6 1118.4L410.6 1118.9L412.6 1119.2L413.6 1120L416.6 1120.5L417.6 1119.7L419.6 1120.6L420.6 1119.9L423.6 1120.5L424.6 1120.2L425.6 1120.2L426.6 1120.6L427.6 1119.9L428.6 1120.6L429.6 1120.3L431.6 1120.5L432.6 1120L433.6 1120.6L434.6 1120.4L435.6 1119.9L437.6 1119.4L439.6 1119.7L440.6 1119.6L441.6 1119L443.6 1118.8L444.6 1119.2L445.6 1118.4L446.6 1118.4L447.6 1118.8L448.6 1118.3L449.6 1118.5L450.6 1119L451.6 1118.7L452.6 1119L455.6 1119.2L456.6 1119.4L457.6 1120.1L458.6 1119.5L460.6 1120L461.6 1120L462.6 1120.4L465.6 1120.4L467.6 1121.1L468.6 1121.1L469.6 1121L470.6 1121.3L471.6 1120.6L472.6 1120.8L473.6 1121.3L474.6 1121L475.6 1120.9L476.6 1121.1L477.6 1120.9L478.6 1121.4L479.6 1120.9L480.6 1121.2L481.6 1121L482.6 1121.2L483.6 1120.7L484.6 1121.1L486.6 1120.1L487.6 1120.7L488.6 1120.7L489.6 1119.8L490.6 1120.2L491.6 1119.5L492.6 1119.2L493.6 1118.2L494.6 1118.3L496.6 1117.1L497.6 1116.9L500.6 1114.4L503.6 1114.6L506.6 1120.9L507.6 1123.5L508.6 1125L509.6 1125.2L510.6 1124.7L511.6 1122.7L513.6 1120.3L514.6 1120.5L516.6 1120.2L517.6 1119.8L518.6 1120.1L519.6 1120.1L520.6 1120.7L521.6 1120.4L522.6 1120.8L523.6 1120.7L524.6 1121L525.6 1120.3L526.6 1121.2L527.6 1121.3L528.6 1120.7L529.6 1120.7L531.6 1121.3L533.6 1121.3L534.6 1121.8L535.6 1121.6L536.6 1122L538.6 1121.5L539.6 1122.3L540.6 1122.3L541.6 1121.9L542.6 1122.2L543.6 1122.2L544.6 1121.8L545.6 1122.2L546.6 1122.2L551.6 1122.1L552.6 1121.3L553.6 1122L554.6 1121.5L555.6 1121.6L557.6 1120.9L558.6 1121.4L559.6 1121.1L560.6 1121.3L561.6 1121.1L562.6 1121.1L563.6 1121.4L564.6 1122L566.6 1122.2L567.6 1120.9L568.6 1120.1L569.6 1118.5L570.6 1118.4L571.6 1117.9L572.6 1118L573.6 1117.3L574.6 1117.7L575.6 1116.9L576.6 1117.5L577.6 1117.1L578.6 1117.1L579.6 1117.8L580.6 1118.9L581.6 1119.4L584.6 1120.6L585.6 1120.7L586.6 1120.2L587.6 1121L588.6 1120.4L589.6 1120.6L590.6 1120.4L592.6 1121.2L593.6 1121.3L595.6 1120.6L596.6 1120.9L599.6 1120.7L600.6 1121.3L602.6 1120.3L603.6 1120.7L605.6 1120.8L607.6 1120.6L608.6 1120L610.6 1120.1L611.6 1119.7L612.6 1119.8L613.6 1119.3L614.6 1119.2" stroke="#0000ff" stroke-width="3.2" fill="none" stroke-linejoin="round" />
</g>
<rect x="62.4" y="1124.7" width="76.3" height="12.2" fill="#ff00ff"/>
<line x1="143.00" y1="1124.70" x2="143.00" y2="1136.90" stroke="#ff00ff" stroke-width="2.1" />
<line x1="147.70" y1="1124.70" x2="147.70" y2="1136.90" stroke="#ff00ff" stroke-width="2.1" />
<line x1="150.20" y1="1124.70" x2="150.20" y2="1136.90" stroke="#ff00ff" stroke-width="2.1" />
<line x1="153.10" y1="1124.70" x2="153.10" y2="1136.90" stroke="#ff00ff" stroke-width="2.1" />
<line x1="155.90" y1="1124.70" x2="155.90" y2="1136.90" stroke="#ff00ff" stroke-width="2.1" />
<line x1="158.80" y1="1124.70" x2="158.80" y2="1136.90" stroke="#ff00ff" stroke-width="2.1" />
<line x1="161.70" y1="1124.70" x2="161.70" y2="1136.90" stroke="#ff00ff" stroke-width="2.1" />
<line x1="164.60" y1="1124.70" x2="164.60" y2="1136.90" stroke="#ff00ff" stroke-width="2.1" />
<line x1="172.50" y1="1124.70" x2="172.50" y2="1136.90" stroke="#ff00ff" stroke-width="2.1" />
<line x1="176.80" y1="1124.70" x2="176.80" y2="1136.90" stroke="#ff00ff" stroke-width="2.1" />
<line x1="179.40" y1="1124.70" x2="179.40" y2="1136.90" stroke="#ff00ff" stroke-width="2.1" />
<line x1="181.90" y1="1124.70" x2="181.90" y2="1136.90" stroke="#ff00ff" stroke-width="2.1" />
<line x1="187.20" y1="1124.70" x2="187.20" y2="1136.90" stroke="#ff00ff" stroke-width="2.1" />
<line x1="194.80" y1="1124.70" x2="194.80" y2="1136.90" stroke="#ff00ff" stroke-width="2.1" />
<line x1="197.00" y1="1124.70" x2="197.00" y2="1136.90" stroke="#ff00ff" stroke-width="2.1" />
<line x1="204.20" y1="1124.70" x2="204.20" y2="1136.90" stroke="#ff00ff" stroke-width="2.1" />
<line x1="207.80" y1="1124.70" x2="207.80" y2="1136.90" stroke="#ff00ff" stroke-width="2.1" />
<line x1="210.00" y1="1124.70" x2="210.00" y2="1136.90" stroke="#ff00ff" stroke-width="2.1" />
<line x1="211.70" y1="1124.70" x2="211.70" y2="1136.90" stroke="#ff00ff" stroke-width="2.1" />
<line x1="223.20" y1="1124.70" x2="223.20" y2="1136.90" stroke="#ff00ff" stroke-width="2.1" />
<line x1="250.30" y1="1124.70" x2="250.30" y2="1136.90" stroke="#ff00ff" stroke-width="2.1" />
<line x1="254.90" y1="1124.70" x2="254.90" y2="1136.90" stroke="#ff00ff" stroke-width="2.1" />
<line x1="271.50" y1="1124.70" x2="271.50" y2="1136.90" stroke="#ff00ff" stroke-width="2.1" />
<line x1="279.80" y1="1124.70" x2="279.80" y2="1136.90" stroke="#ff00ff" stroke-width="2.1" />
<line x1="282.00" y1="1124.70" x2="282.00" y2="1136.90" stroke="#ff00ff" stroke-width="2.1" />
<line x1="288.00" y1="1124.70" x2="288.00" y2="1136.90" stroke="#ff00ff" stroke-width="2.1" />
<line x1="318.30" y1="1124.70" x2="318.30" y2="1136.90" stroke="#ff00ff" stroke-width="2.1" />
<line x1="325.20" y1="1124.70" x2="325.20" y2="1136.90" stroke="#ff00ff" stroke-width="2.1" />
<line x1="407.50" y1="1124.70" x2="407.50" y2="1136.90" stroke="#ff00ff" stroke-width="2.1" />
<line x1="515.10" y1="1124.70" x2="515.10" y2="1136.90" stroke="#ff00ff" stroke-width="2.1" />
<line x1="573.80" y1="1124.70" x2="573.80" y2="1136.90" stroke="#ff00ff" stroke-width="2.1" />
<line x1="590.70" y1="1124.70" x2="590.70" y2="1136.90" stroke="#ff00ff" stroke-width="2.1" />
<line x1="81.00" y1="1144.90" x2="81.00" y2="1137.40" stroke="#222" stroke-width="1.3" />
<line x1="128.55" y1="1144.90" x2="128.55" y2="1139.90" stroke="#222" stroke-width="1.3" />
<line x1="176.10" y1="1144.90" x2="176.10" y2="1137.40" stroke="#222" stroke-width="1.3" />
<line x1="223.65" y1="1144.90" x2="223.65" y2="1139.90" stroke="#222" stroke-width="1.3" />
<line x1="271.20" y1="1144.90" x2="271.20" y2="1137.40" stroke="#222" stroke-width="1.3" />
<line x1="318.75" y1="1144.90" x2="318.75" y2="1139.90" stroke="#222" stroke-width="1.3" />
<line x1="366.30" y1="1144.90" x2="366.30" y2="1137.40" stroke="#222" stroke-width="1.3" />
<line x1="413.85" y1="1144.90" x2="413.85" y2="1139.90" stroke="#222" stroke-width="1.3" />
<line x1="461.40" y1="1144.90" x2="461.40" y2="1137.40" stroke="#222" stroke-width="1.3" />
<line x1="508.95" y1="1144.90" x2="508.95" y2="1139.90" stroke="#222" stroke-width="1.3" />
<line x1="556.50" y1="1144.90" x2="556.50" y2="1137.40" stroke="#222" stroke-width="1.3" />
<line x1="604.05" y1="1144.90" x2="604.05" y2="1139.90" stroke="#222" stroke-width="1.3" />
<rect x="61.60" y="923.50" width="553.30" height="221.40" stroke="#1a1a1a" stroke-width="1.6" fill="none" />
<text transform="translate(81.00,1175.60) translate(-17.00,0) scale(0.9784,1)" font-size="25.00" fill="#000" xml:space="preserve"><tspan x="0.00" y="0.00">0.5</tspan></text>
<text transform="translate(176.10,1175.60) translate(-14.50,0) scale(0.8345,1)" font-size="25.00" fill="#000" xml:space="preserve"><tspan x="0.00" y="0.00">1.0</tspan></text>
<text transform="translate(271.20,1175.60) translate(-14.50,0) scale(0.8345,1)" font-size="25.00" fill="#000" xml:space="preserve"><tspan x="0.00" y="0.00">1.5</tspan></text>
<text transform="translate(366.30,1175.60) translate(-17.00,0) scale(0.9784,1)" font-size="25.00" fill="#000" xml:space="preserve"><tspan x="0.00" y="0.00">2.0</tspan></text>
<text transform="translate(461.40,1175.60) translate(-17.00,0) scale(0.9784,1)" font-size="25.00" fill="#000" xml:space="preserve"><tspan x="0.00" y="0.00">2.5</tspan></text>
<text transform="translate(556.50,1175.60) translate(-17.00,0) scale(0.9784,1)" font-size="25.00" fill="#000" xml:space="preserve"><tspan x="0.00" y="0.00">3.0</tspan></text>
<text transform="translate(335.00,1220.80) translate(-29.50,0) scale(1.0681,1)" font-size="25.50" fill="#000" xml:space="preserve"><tspan x="0.00" y="0.00" font-style="italic">d</tspan><tspan x="14.18" y="0.00"> (Å)</tspan></text>
<text transform="translate(37.70,1035.50) rotate(-90) translate(-86.00,0) scale(1.0860,1)" font-size="25.00" fill="#000" xml:space="preserve"><tspan x="0.00" y="0.00">Intensity (a.u.)</tspan></text>
<text transform="translate(69.50,945.80) translate(0.00,0) scale(1.0377,1)" font-size="23.50" fill="#000" xml:space="preserve"><tspan x="0.00" y="0.00">β-Li</tspan><tspan x="39.64" y="6.58" font-size="14.57">3</tspan><tspan x="47.74" y="0.00">N-400rpm-16h TOF neutron diffraction</tspan></text>
<circle cx="96.50" cy="967.00" r="4.60" fill="none" stroke="#808000" stroke-width="2.5" />
<line x1="85.40" y1="988.60" x2="107.70" y2="988.60" stroke="#ff0000" stroke-width="2.4" />
<line x1="85.40" y1="1012.30" x2="107.70" y2="1012.30" stroke="#0000ff" stroke-width="2.4" />
<line x1="96.50" y1="1028.90" x2="96.50" y2="1041.90" stroke="#ff00ff" stroke-width="2" />
<text transform="translate(121.80,973.70) translate(0.00,0) scale(1.1204,1)" font-size="17.50" fill="#000" xml:space="preserve"><tspan x="0.00" y="0.00">Observed</tspan></text>
<text transform="translate(121.80,995.80) translate(0.00,0) scale(1.1368,1)" font-size="17.50" fill="#000" xml:space="preserve"><tspan x="0.00" y="0.00">Calculated</tspan></text>
<text transform="translate(121.80,1018.80) translate(0.00,0) scale(1.1240,1)" font-size="17.50" fill="#000" xml:space="preserve"><tspan x="0.00" y="0.00">Difference</tspan></text>
<text transform="translate(121.80,1039.00) translate(0.00,0) scale(1.1393,1)" font-size="17.50" fill="#000" xml:space="preserve"><tspan x="0.00" y="0.00">Bragg position</tspan></text>
</g>
<g id="pe">
<defs><radialGradient id="sY" cx="0.5" cy="0.5" r="0.5" fx="0.48" fy="0.47"><stop offset="0" stop-color="#ffffc8"/><stop offset="0.1" stop-color="#ffff30"/><stop offset="0.35" stop-color="#f4f400"/><stop offset="0.7" stop-color="#dcdc00"/><stop offset="0.9" stop-color="#b8b800"/><stop offset="1" stop-color="#7e7e00"/></radialGradient><radialGradient id="sG" cx="0.5" cy="0.5" r="0.5" fx="0.49" fy="0.49"><stop offset="0" stop-color="#ffffff"/><stop offset="0.1" stop-color="#c8ffd8"/><stop offset="0.25" stop-color="#30f058"/><stop offset="0.6" stop-color="#1cd040"/><stop offset="0.88" stop-color="#0eaa30"/><stop offset="1" stop-color="#077024"/></radialGradient><radialGradient id="sC" cx="0.5" cy="0.5" r="0.5" fx="0.49" fy="0.48"><stop offset="0" stop-color="#ffffff"/><stop offset="0.1" stop-color="#a0ffff"/><stop offset="0.25" stop-color="#10f8f8"/><stop offset="0.6" stop-color="#14dce0"/><stop offset="0.88" stop-color="#12b4bc"/><stop offset="1" stop-color="#0a7c86"/></radialGradient><linearGradient id="wg" x1="0" y1="1" x2="0" y2="0"><stop offset="0" stop-color="#ffffff"/><stop offset="0.6" stop-color="#dcdcdc"/><stop offset="1" stop-color="#a4a4a4"/></linearGradient></defs>
<circle cx="163.8" cy="1306.5" r="20.1" fill="url(#sY)"/><path d="M163.5 1306.0L163.8 1286.7A19.8 19.8 0 0 0 156.1 1288.3Z" fill="url(#wg)"/>
<circle cx="263.0" cy="1304.5" r="20.1" fill="url(#sY)"/><path d="M262.7 1304.0L263.0 1284.7A19.8 19.8 0 0 0 255.3 1286.3Z" fill="url(#wg)"/>
<circle cx="268.0" cy="1309.0" r="19.5" fill="url(#sY)"/><path d="M267.7 1308.5L268.0 1289.8A19.2 19.2 0 0 0 260.5 1291.4Z" fill="url(#wg)"/>
<circle cx="300.9" cy="1303.0" r="17.5" fill="url(#sG)"/>
<circle cx="364.5" cy="1311.0" r="20.1" fill="url(#sY)"/><path d="M364.2 1310.5L364.5 1291.2A19.8 19.8 0 0 0 356.8 1292.8Z" fill="url(#wg)"/>
<circle cx="366.0" cy="1316.0" r="19.5" fill="url(#sY)"/><path d="M365.7 1315.5L366.0 1296.8A19.2 19.2 0 0 0 358.5 1298.4Z" fill="url(#wg)"/>
<circle cx="397.6" cy="1313.4" r="17.3" fill="url(#sG)"/>
<circle cx="462.1" cy="1311.0" r="20.1" fill="url(#sY)"/><path d="M461.8 1310.5L462.1 1291.2A19.8 19.8 0 0 0 454.4 1292.8Z" fill="url(#wg)"/>
<circle cx="232.3" cy="1339.9" r="18.6" fill="url(#sC)"/><path d="M232.0 1339.4L232.3 1321.6A18.3 18.3 0 0 0 225.1 1323.0Z" fill="url(#wg)"/>
<circle cx="335.5" cy="1341.0" r="18.6" fill="url(#sC)"/><path d="M335.2 1340.5L335.5 1322.7A18.3 18.3 0 0 0 328.3 1324.1Z" fill="url(#wg)"/>
<circle cx="465.0" cy="1377.3" r="18.6" fill="url(#sC)"/><path d="M464.7 1376.8L465.0 1359.0A18.3 18.3 0 0 0 457.8 1360.4Z" fill="url(#wg)"/>
<circle cx="230.6" cy="1411.3" r="20.1" fill="url(#sY)"/><path d="M230.3 1410.8L230.6 1391.5A19.8 19.8 0 0 0 222.9 1393.1Z" fill="url(#wg)"/>
<circle cx="443.0" cy="1413.0" r="20.1" fill="url(#sY)"/><path d="M442.7 1412.5L443.0 1393.2A19.8 19.8 0 0 0 435.3 1394.8Z" fill="url(#wg)"/>
<circle cx="534.7" cy="1411.3" r="20.3" fill="url(#sY)"/><path d="M534.4 1410.8L534.7 1391.3A20.0 20.0 0 0 0 526.9 1392.9Z" fill="url(#wg)"/>
<circle cx="464.4" cy="1444.7" r="18.6" fill="url(#sC)"/><path d="M464.1 1444.2L464.4 1426.4A18.3 18.3 0 0 0 457.2 1427.8Z" fill="url(#wg)"/>
<circle cx="233.5" cy="1479.2" r="18.6" fill="url(#sC)"/><path d="M233.2 1478.7L233.5 1460.9A18.3 18.3 0 0 0 226.3 1462.3Z" fill="url(#wg)"/>
<circle cx="163.2" cy="1505.7" r="19.7" fill="url(#sY)"/><path d="M162.9 1505.2L163.2 1486.3A19.4 19.4 0 0 0 155.6 1487.9Z" fill="url(#wg)"/>
<circle cx="264.0" cy="1509.2" r="19.7" fill="url(#sY)"/><path d="M263.7 1508.7L264.0 1489.8A19.4 19.4 0 0 0 256.4 1491.4Z" fill="url(#wg)"/>
<circle cx="270.5" cy="1503.5" r="18.6" fill="url(#sY)"/><path d="M270.2 1503.0L270.5 1485.1A18.4 18.4 0 0 0 263.3 1486.6Z" fill="url(#wg)"/>
<circle cx="303.2" cy="1510.3" r="17.1" fill="url(#sG)"/>
<circle cx="363.0" cy="1506.8" r="19.7" fill="url(#sY)"/><path d="M362.7 1506.3L363.0 1487.4A19.4 19.4 0 0 0 355.4 1489.0Z" fill="url(#wg)"/>
<circle cx="365.0" cy="1501.0" r="18.6" fill="url(#sY)"/><path d="M364.7 1500.5L365.0 1482.6A18.4 18.4 0 0 0 357.8 1484.1Z" fill="url(#wg)"/>
<circle cx="395.3" cy="1505.7" r="17.1" fill="url(#sG)"/>
<circle cx="461.0" cy="1510.3" r="19.9" fill="url(#sY)"/><path d="M460.7 1509.8L461.0 1490.7A19.6 19.6 0 0 0 453.4 1492.3Z" fill="url(#wg)"/>
<circle cx="230.6" cy="1544.9" r="18.4" fill="url(#sC)"/><path d="M230.3 1544.4L230.6 1526.7A18.2 18.2 0 0 0 223.5 1528.2Z" fill="url(#wg)"/>
<circle cx="329.7" cy="1540.3" r="18.4" fill="url(#sC)"/><path d="M329.4 1539.8L329.7 1522.1A18.2 18.2 0 0 0 322.6 1523.6Z" fill="url(#wg)"/>
<circle cx="364.2" cy="1582.9" r="18.4" fill="url(#sC)"/><path d="M363.9 1582.4L364.2 1564.7A18.2 18.2 0 0 0 357.1 1566.2Z" fill="url(#wg)"/>
<circle cx="462.1" cy="1579.4" r="18.4" fill="url(#sC)"/><path d="M461.8 1578.9L462.1 1561.2A18.2 18.2 0 0 0 455.0 1562.7Z" fill="url(#wg)"/>
<circle cx="230.6" cy="1614.0" r="19.3" fill="url(#sY)"/><path d="M230.3 1613.5L230.6 1595.0A19.0 19.0 0 0 0 223.2 1596.5Z" fill="url(#wg)"/>
<circle cx="296.3" cy="1610.5" r="16.7" fill="url(#sG)"/>
<circle cx="327.4" cy="1605.9" r="18.2" fill="url(#sY)"/><path d="M327.1 1605.4L327.4 1588.0A17.9 17.9 0 0 0 320.4 1589.4Z" fill="url(#wg)"/>
<circle cx="326.2" cy="1616.3" r="19.5" fill="url(#sY)"/><path d="M325.9 1615.8L326.2 1597.1A19.2 19.2 0 0 0 318.7 1598.7Z" fill="url(#wg)"/>
<circle cx="396.5" cy="1608.2" r="16.7" fill="url(#sG)"/>
<circle cx="425.3" cy="1602.5" r="18.2" fill="url(#sY)"/><path d="M425.0 1602.0L425.3 1584.6A17.9 17.9 0 0 0 418.3 1586.0Z" fill="url(#wg)"/>
<circle cx="431.0" cy="1616.3" r="19.5" fill="url(#sY)"/><path d="M430.7 1615.8L431.0 1597.1A19.2 19.2 0 0 0 423.5 1598.7Z" fill="url(#wg)"/>
<circle cx="529.0" cy="1609.4" r="19.3" fill="url(#sY)"/><path d="M528.7 1608.9L529.0 1590.4A19.0 19.0 0 0 0 521.6 1591.9Z" fill="url(#wg)"/>
<line x1="231.3" y1="1336.7" x2="231.0" y2="1373.8" stroke="#10c0c8" stroke-width="5.2"/><line x1="231.3" y1="1336.7" x2="231.0" y2="1373.8" stroke="#00f0f0" stroke-width="2.6"/><line x1="231.0" y1="1373.8" x2="230.7" y2="1411.0" stroke="#d2d200" stroke-width="5.2"/><line x1="231.0" y1="1373.8" x2="230.7" y2="1411.0" stroke="#ffff00" stroke-width="2.6"/>
<line x1="230.7" y1="1408.0" x2="230.6" y2="1444.8" stroke="#d2d200" stroke-width="5.2"/><line x1="230.7" y1="1408.0" x2="230.6" y2="1444.8" stroke="#ffff00" stroke-width="2.6"/><line x1="230.6" y1="1444.8" x2="230.5" y2="1481.7" stroke="#10c0c8" stroke-width="5.2"/><line x1="230.6" y1="1444.8" x2="230.5" y2="1481.7" stroke="#00f0f0" stroke-width="2.6"/>
<line x1="465.4" y1="1305.0" x2="465.1" y2="1341.3" stroke="#d2d200" stroke-width="5.2"/><line x1="465.4" y1="1305.0" x2="465.1" y2="1341.3" stroke="#ffff00" stroke-width="2.6"/><line x1="465.1" y1="1341.3" x2="464.8" y2="1377.6" stroke="#10c0c8" stroke-width="5.2"/><line x1="465.1" y1="1341.3" x2="464.8" y2="1377.6" stroke="#00f0f0" stroke-width="2.6"/>
<line x1="464.2" y1="1443.3" x2="463.9" y2="1479.2" stroke="#10c0c8" stroke-width="5.2"/><line x1="464.2" y1="1443.3" x2="463.9" y2="1479.2" stroke="#00f0f0" stroke-width="2.6"/><line x1="463.9" y1="1479.2" x2="463.6" y2="1515.2" stroke="#d2d200" stroke-width="5.2"/><line x1="463.9" y1="1479.2" x2="463.6" y2="1515.2" stroke="#ffff00" stroke-width="2.6"/>
<line x1="229.9" y1="1548.1" x2="229.7" y2="1585.2" stroke="#10c0c8" stroke-width="5.2"/><line x1="229.9" y1="1548.1" x2="229.7" y2="1585.2" stroke="#00f0f0" stroke-width="2.6"/><line x1="229.7" y1="1585.2" x2="229.5" y2="1622.4" stroke="#d2d200" stroke-width="5.2"/><line x1="229.7" y1="1585.2" x2="229.5" y2="1622.4" stroke="#ffff00" stroke-width="2.6"/>
<line x1="466.8" y1="1379.6" x2="501.6" y2="1397.2" stroke="#10c0c8" stroke-width="5.2"/><line x1="466.8" y1="1379.6" x2="501.6" y2="1397.2" stroke="#00f0f0" stroke-width="2.6"/><line x1="501.6" y1="1397.2" x2="536.5" y2="1414.8" stroke="#d2d200" stroke-width="5.2"/><line x1="501.6" y1="1397.2" x2="536.5" y2="1414.8" stroke="#ffff00" stroke-width="2.6"/>
<line x1="466.2" y1="1441.3" x2="501.4" y2="1424.0" stroke="#10c0c8" stroke-width="5.2"/><line x1="466.2" y1="1441.3" x2="501.4" y2="1424.0" stroke="#00f0f0" stroke-width="2.6"/><line x1="501.4" y1="1424.0" x2="536.5" y2="1406.8" stroke="#d2d200" stroke-width="5.2"/><line x1="501.4" y1="1424.0" x2="536.5" y2="1406.8" stroke="#ffff00" stroke-width="2.6"/>
<line x1="297.7" y1="1305.0" x2="333.7" y2="1305.3" stroke="#10b030" stroke-width="5.2"/><line x1="297.7" y1="1305.0" x2="333.7" y2="1305.3" stroke="#22dd44" stroke-width="2.6"/><line x1="333.7" y1="1305.3" x2="369.7" y2="1305.6" stroke="#d2d200" stroke-width="5.2"/><line x1="333.7" y1="1305.3" x2="369.7" y2="1305.6" stroke="#ffff00" stroke-width="2.6"/>
<line x1="400.2" y1="1309.4" x2="434.8" y2="1309.7" stroke="#10b030" stroke-width="5.2"/><line x1="400.2" y1="1309.4" x2="434.8" y2="1309.7" stroke="#22dd44" stroke-width="2.6"/><line x1="434.8" y1="1309.7" x2="469.4" y2="1310.0" stroke="#d2d200" stroke-width="5.2"/><line x1="434.8" y1="1309.7" x2="469.4" y2="1310.0" stroke="#ffff00" stroke-width="2.6"/>
<line x1="297.6" y1="1513.3" x2="333.5" y2="1513.4" stroke="#10b030" stroke-width="5.2"/><line x1="297.6" y1="1513.3" x2="333.5" y2="1513.4" stroke="#22dd44" stroke-width="2.6"/><line x1="333.5" y1="1513.4" x2="369.3" y2="1513.5" stroke="#d2d200" stroke-width="5.2"/><line x1="333.5" y1="1513.4" x2="369.3" y2="1513.5" stroke="#ffff00" stroke-width="2.6"/>
<line x1="398.5" y1="1511.2" x2="433.1" y2="1511.2" stroke="#10b030" stroke-width="5.2"/><line x1="398.5" y1="1511.2" x2="433.1" y2="1511.2" stroke="#22dd44" stroke-width="2.6"/><line x1="433.1" y1="1511.2" x2="467.6" y2="1511.2" stroke="#d2d200" stroke-width="5.2"/><line x1="433.1" y1="1511.2" x2="467.6" y2="1511.2" stroke="#ffff00" stroke-width="2.6"/>
<line x1="227.5" y1="1616.4" x2="263.1" y2="1616.7" stroke="#d2d200" stroke-width="5.2"/><line x1="227.5" y1="1616.4" x2="263.1" y2="1616.7" stroke="#ffff00" stroke-width="2.6"/><line x1="263.1" y1="1616.7" x2="298.8" y2="1617.0" stroke="#10b030" stroke-width="5.2"/><line x1="263.1" y1="1616.7" x2="298.8" y2="1617.0" stroke="#22dd44" stroke-width="2.6"/>
<line x1="157.7" y1="1511.8" x2="193.3" y2="1529.9" stroke="#d2d200" stroke-width="5.2"/><line x1="157.7" y1="1511.8" x2="193.3" y2="1529.9" stroke="#ffff00" stroke-width="2.6"/><line x1="193.3" y1="1529.9" x2="228.9" y2="1548.1" stroke="#10c0c8" stroke-width="5.2"/><line x1="193.3" y1="1529.9" x2="228.9" y2="1548.1" stroke="#00f0f0" stroke-width="2.6"/>
<line x1="261.1" y1="1300.5" x2="298.6" y2="1321.5" stroke="#d2d200" stroke-width="3.5"/><line x1="261.1" y1="1300.5" x2="298.6" y2="1321.5" stroke="#ffff00" stroke-width="1.8"/><line x1="298.6" y1="1321.5" x2="336.0" y2="1342.6" stroke="#10c0c8" stroke-width="3.5"/><line x1="298.6" y1="1321.5" x2="336.0" y2="1342.6" stroke="#00f0f0" stroke-width="1.8"/>
<line x1="465.0" y1="1581.2" x2="499.6" y2="1598.8" stroke="#10c0c8" stroke-width="5.2"/><line x1="465.0" y1="1581.2" x2="499.6" y2="1598.8" stroke="#00f0f0" stroke-width="2.6"/><line x1="499.6" y1="1598.8" x2="534.2" y2="1616.4" stroke="#d2d200" stroke-width="5.2"/><line x1="499.6" y1="1598.8" x2="534.2" y2="1616.4" stroke="#ffff00" stroke-width="2.6"/>
<line x1="362.6" y1="1584.3" x2="397.9" y2="1602.7" stroke="#10c0c8" stroke-width="5.2"/><line x1="362.6" y1="1584.3" x2="397.9" y2="1602.7" stroke="#00f0f0" stroke-width="2.6"/><line x1="397.9" y1="1602.7" x2="433.2" y2="1621.1" stroke="#d2d200" stroke-width="5.2"/><line x1="397.9" y1="1602.7" x2="433.2" y2="1621.1" stroke="#ffff00" stroke-width="2.6"/>
<line x1="193.4" y1="1300.9" x2="225.2" y2="1300.9" stroke="#10b030" stroke-width="6.0"/><line x1="193.4" y1="1300.9" x2="225.2" y2="1300.9" stroke="#22dd44" stroke-width="3.0"/><line x1="225.2" y1="1300.9" x2="257.1" y2="1300.9" stroke="#d2d200" stroke-width="6.0"/><line x1="225.2" y1="1300.9" x2="257.1" y2="1300.9" stroke="#ffff00" stroke-width="3.0"/>
<line x1="295.7" y1="1299.0" x2="331.7" y2="1299.0" stroke="#10b030" stroke-width="6.0"/><line x1="295.7" y1="1299.0" x2="331.7" y2="1299.0" stroke="#22dd44" stroke-width="3.0"/><line x1="331.7" y1="1299.0" x2="367.7" y2="1299.0" stroke="#d2d200" stroke-width="6.0"/><line x1="331.7" y1="1299.0" x2="367.7" y2="1299.0" stroke="#ffff00" stroke-width="3.0"/>
<line x1="402.2" y1="1302.4" x2="436.8" y2="1302.4" stroke="#10b030" stroke-width="6.0"/><line x1="402.2" y1="1302.4" x2="436.8" y2="1302.4" stroke="#22dd44" stroke-width="3.0"/><line x1="436.8" y1="1302.4" x2="471.4" y2="1302.4" stroke="#d2d200" stroke-width="6.0"/><line x1="436.8" y1="1302.4" x2="471.4" y2="1302.4" stroke="#ffff00" stroke-width="3.0"/>
<line x1="192.0" y1="1515.5" x2="224.2" y2="1515.5" stroke="#10b030" stroke-width="6.0"/><line x1="192.0" y1="1515.5" x2="224.2" y2="1515.5" stroke="#22dd44" stroke-width="3.0"/><line x1="224.2" y1="1515.5" x2="256.3" y2="1515.5" stroke="#d2d200" stroke-width="6.0"/><line x1="224.2" y1="1515.5" x2="256.3" y2="1515.5" stroke="#ffff00" stroke-width="3.0"/>
<line x1="294.6" y1="1519.3" x2="330.5" y2="1519.3" stroke="#10b030" stroke-width="6.0"/><line x1="294.6" y1="1519.3" x2="330.5" y2="1519.3" stroke="#22dd44" stroke-width="3.0"/><line x1="330.5" y1="1519.3" x2="366.3" y2="1519.3" stroke="#d2d200" stroke-width="6.0"/><line x1="330.5" y1="1519.3" x2="366.3" y2="1519.3" stroke="#ffff00" stroke-width="3.0"/>
<line x1="400.5" y1="1517.2" x2="435.1" y2="1517.2" stroke="#10b030" stroke-width="6.0"/><line x1="400.5" y1="1517.2" x2="435.1" y2="1517.2" stroke="#22dd44" stroke-width="3.0"/><line x1="435.1" y1="1517.2" x2="469.6" y2="1517.2" stroke="#d2d200" stroke-width="6.0"/><line x1="435.1" y1="1517.2" x2="469.6" y2="1517.2" stroke="#ffff00" stroke-width="3.0"/>
<line x1="223.7" y1="1409.0" x2="262.9" y2="1409.0" stroke="#d2d200" stroke-width="6.0"/><line x1="223.7" y1="1409.0" x2="262.9" y2="1409.0" stroke="#ffff00" stroke-width="3.0"/><line x1="262.9" y1="1409.0" x2="294.9" y2="1409.0" stroke="#10b030" stroke-width="6.0"/><line x1="262.9" y1="1409.0" x2="294.9" y2="1409.0" stroke="#22dd44" stroke-width="3.0"/>
<line x1="330.3" y1="1409.6" x2="369.2" y2="1409.6" stroke="#d2d200" stroke-width="6.0"/><line x1="330.3" y1="1409.6" x2="369.2" y2="1409.6" stroke="#ffff00" stroke-width="3.0"/><line x1="369.2" y1="1409.6" x2="401.1" y2="1409.6" stroke="#10b030" stroke-width="6.0"/><line x1="369.2" y1="1409.6" x2="401.1" y2="1409.6" stroke="#22dd44" stroke-width="3.0"/>
<line x1="437.9" y1="1410.2" x2="472.8" y2="1410.2" stroke="#d2d200" stroke-width="6.0"/><line x1="437.9" y1="1410.2" x2="472.8" y2="1410.2" stroke="#ffff00" stroke-width="3.0"/><line x1="472.8" y1="1410.2" x2="501.3" y2="1410.2" stroke="#10b030" stroke-width="6.0"/><line x1="472.8" y1="1410.2" x2="501.3" y2="1410.2" stroke="#22dd44" stroke-width="3.0"/>
<line x1="222.5" y1="1629.0" x2="261.7" y2="1629.0" stroke="#d2d200" stroke-width="6.0"/><line x1="222.5" y1="1629.0" x2="261.7" y2="1629.0" stroke="#ffff00" stroke-width="3.0"/><line x1="261.7" y1="1629.0" x2="293.8" y2="1629.0" stroke="#10b030" stroke-width="6.0"/><line x1="261.7" y1="1629.0" x2="293.8" y2="1629.0" stroke="#22dd44" stroke-width="3.0"/>
<line x1="328.9" y1="1623.8" x2="367.6" y2="1623.8" stroke="#d2d200" stroke-width="6.0"/><line x1="328.9" y1="1623.8" x2="367.6" y2="1623.8" stroke="#ffff00" stroke-width="3.0"/><line x1="367.6" y1="1623.8" x2="399.3" y2="1623.8" stroke="#10b030" stroke-width="6.0"/><line x1="367.6" y1="1623.8" x2="399.3" y2="1623.8" stroke="#22dd44" stroke-width="3.0"/>
<line x1="436.2" y1="1619.2" x2="471.1" y2="1619.2" stroke="#d2d200" stroke-width="6.0"/><line x1="436.2" y1="1619.2" x2="471.1" y2="1619.2" stroke="#ffff00" stroke-width="3.0"/><line x1="471.1" y1="1619.2" x2="499.6" y2="1619.2" stroke="#10b030" stroke-width="6.0"/><line x1="471.1" y1="1619.2" x2="499.6" y2="1619.2" stroke="#22dd44" stroke-width="3.0"/>
<line x1="224.3" y1="1334.7" x2="224.3" y2="1371.8" stroke="#10c0c8" stroke-width="6.0"/><line x1="224.3" y1="1334.7" x2="224.3" y2="1371.8" stroke="#00f0f0" stroke-width="3.0"/><line x1="224.3" y1="1371.8" x2="224.3" y2="1409.0" stroke="#d2d200" stroke-width="6.0"/><line x1="224.3" y1="1371.8" x2="224.3" y2="1409.0" stroke="#ffff00" stroke-width="3.0"/>
<line x1="332.0" y1="1337.6" x2="332.0" y2="1373.6" stroke="#10c0c8" stroke-width="6.0"/><line x1="332.0" y1="1337.6" x2="332.0" y2="1373.6" stroke="#00f0f0" stroke-width="3.0"/><line x1="332.0" y1="1373.6" x2="332.0" y2="1409.6" stroke="#d2d200" stroke-width="6.0"/><line x1="332.0" y1="1373.6" x2="332.0" y2="1409.6" stroke="#ffff00" stroke-width="3.0"/>
<line x1="433.9" y1="1339.9" x2="433.9" y2="1375.3" stroke="#10c0c8" stroke-width="6.0"/><line x1="433.9" y1="1339.9" x2="433.9" y2="1375.3" stroke="#00f0f0" stroke-width="3.0"/><line x1="433.9" y1="1375.3" x2="433.9" y2="1410.8" stroke="#d2d200" stroke-width="6.0"/><line x1="433.9" y1="1375.3" x2="433.9" y2="1410.8" stroke="#ffff00" stroke-width="3.0"/>
<line x1="262.0" y1="1374.5" x2="262.0" y2="1335.0" stroke="#10c0c8" stroke-width="6.0"/><line x1="262.0" y1="1374.5" x2="262.0" y2="1335.0" stroke="#00f0f0" stroke-width="3.0"/><line x1="262.0" y1="1335.0" x2="262.0" y2="1295.5" stroke="#d2d200" stroke-width="6.0"/><line x1="262.0" y1="1335.0" x2="262.0" y2="1295.5" stroke="#ffff00" stroke-width="3.0"/>
<line x1="367.1" y1="1374.5" x2="367.1" y2="1337.0" stroke="#10c0c8" stroke-width="6.0"/><line x1="367.1" y1="1374.5" x2="367.1" y2="1337.0" stroke="#00f0f0" stroke-width="3.0"/><line x1="367.1" y1="1337.0" x2="367.1" y2="1299.6" stroke="#d2d200" stroke-width="6.0"/><line x1="367.1" y1="1337.0" x2="367.1" y2="1299.6" stroke="#ffff00" stroke-width="3.0"/>
<line x1="470.8" y1="1375.6" x2="470.8" y2="1339.3" stroke="#10c0c8" stroke-width="6.0"/><line x1="470.8" y1="1375.6" x2="470.8" y2="1339.3" stroke="#00f0f0" stroke-width="3.0"/><line x1="470.8" y1="1339.3" x2="470.8" y2="1303.0" stroke="#d2d200" stroke-width="6.0"/><line x1="470.8" y1="1339.3" x2="470.8" y2="1303.0" stroke="#ffff00" stroke-width="3.0"/>
<line x1="261.5" y1="1444.2" x2="261.5" y2="1483.3" stroke="#10c0c8" stroke-width="6.0"/><line x1="261.5" y1="1444.2" x2="261.5" y2="1483.3" stroke="#00f0f0" stroke-width="3.0"/><line x1="261.5" y1="1483.3" x2="261.5" y2="1522.4" stroke="#d2d200" stroke-width="6.0"/><line x1="261.5" y1="1483.3" x2="261.5" y2="1522.4" stroke="#ffff00" stroke-width="3.0"/>
<line x1="366.5" y1="1444.7" x2="366.5" y2="1482.1" stroke="#10c0c8" stroke-width="6.0"/><line x1="366.5" y1="1444.7" x2="366.5" y2="1482.1" stroke="#00f0f0" stroke-width="3.0"/><line x1="366.5" y1="1482.1" x2="366.5" y2="1519.5" stroke="#d2d200" stroke-width="6.0"/><line x1="366.5" y1="1482.1" x2="366.5" y2="1519.5" stroke="#ffff00" stroke-width="3.0"/>
<line x1="470.2" y1="1445.3" x2="470.2" y2="1481.2" stroke="#10c0c8" stroke-width="6.0"/><line x1="470.2" y1="1445.3" x2="470.2" y2="1481.2" stroke="#00f0f0" stroke-width="3.0"/><line x1="470.2" y1="1481.2" x2="470.2" y2="1517.2" stroke="#d2d200" stroke-width="6.0"/><line x1="470.2" y1="1481.2" x2="470.2" y2="1517.2" stroke="#ffff00" stroke-width="3.0"/>
<line x1="223.5" y1="1482.7" x2="223.5" y2="1445.8" stroke="#10c0c8" stroke-width="6.0"/><line x1="223.5" y1="1482.7" x2="223.5" y2="1445.8" stroke="#00f0f0" stroke-width="3.0"/><line x1="223.5" y1="1445.8" x2="223.5" y2="1409.0" stroke="#d2d200" stroke-width="6.0"/><line x1="223.5" y1="1445.8" x2="223.5" y2="1409.0" stroke="#ffff00" stroke-width="3.0"/>
<line x1="331.1" y1="1480.9" x2="331.1" y2="1445.2" stroke="#10c0c8" stroke-width="6.0"/><line x1="331.1" y1="1480.9" x2="331.1" y2="1445.2" stroke="#00f0f0" stroke-width="3.0"/><line x1="331.1" y1="1445.2" x2="331.1" y2="1409.6" stroke="#d2d200" stroke-width="6.0"/><line x1="331.1" y1="1445.2" x2="331.1" y2="1409.6" stroke="#ffff00" stroke-width="3.0"/>
<line x1="432.8" y1="1480.3" x2="432.8" y2="1445.5" stroke="#10c0c8" stroke-width="6.0"/><line x1="432.8" y1="1480.3" x2="432.8" y2="1445.5" stroke="#00f0f0" stroke-width="3.0"/><line x1="432.8" y1="1445.5" x2="432.8" y2="1410.8" stroke="#d2d200" stroke-width="6.0"/><line x1="432.8" y1="1445.5" x2="432.8" y2="1410.8" stroke="#ffff00" stroke-width="3.0"/>
<line x1="222.9" y1="1554.1" x2="222.9" y2="1591.2" stroke="#10c0c8" stroke-width="6.0"/><line x1="222.9" y1="1554.1" x2="222.9" y2="1591.2" stroke="#00f0f0" stroke-width="3.0"/><line x1="222.9" y1="1591.2" x2="222.9" y2="1628.4" stroke="#d2d200" stroke-width="6.0"/><line x1="222.9" y1="1591.2" x2="222.9" y2="1628.4" stroke="#ffff00" stroke-width="3.0"/>
<line x1="330.3" y1="1550.6" x2="330.3" y2="1592.7" stroke="#10c0c8" stroke-width="6.0"/><line x1="330.3" y1="1550.6" x2="330.3" y2="1592.7" stroke="#00f0f0" stroke-width="3.0"/><line x1="330.3" y1="1592.7" x2="330.3" y2="1634.7" stroke="#d2d200" stroke-width="6.0"/><line x1="330.3" y1="1592.7" x2="330.3" y2="1634.7" stroke="#ffff00" stroke-width="3.0"/>
<line x1="432.2" y1="1547.2" x2="432.2" y2="1588.7" stroke="#10c0c8" stroke-width="6.0"/><line x1="432.2" y1="1547.2" x2="432.2" y2="1588.7" stroke="#00f0f0" stroke-width="3.0"/><line x1="432.2" y1="1588.7" x2="432.2" y2="1630.1" stroke="#d2d200" stroke-width="6.0"/><line x1="432.2" y1="1588.7" x2="432.2" y2="1630.1" stroke="#ffff00" stroke-width="3.0"/>
<line x1="260.8" y1="1587.5" x2="260.8" y2="1555.0" stroke="#10c0c8" stroke-width="6.0"/><line x1="260.8" y1="1587.5" x2="260.8" y2="1555.0" stroke="#00f0f0" stroke-width="3.0"/><line x1="260.8" y1="1555.0" x2="260.8" y2="1522.4" stroke="#d2d200" stroke-width="6.0"/><line x1="260.8" y1="1555.0" x2="260.8" y2="1522.4" stroke="#ffff00" stroke-width="3.0"/>
<line x1="365.6" y1="1593.3" x2="365.6" y2="1556.4" stroke="#10c0c8" stroke-width="6.0"/><line x1="365.6" y1="1593.3" x2="365.6" y2="1556.4" stroke="#00f0f0" stroke-width="3.0"/><line x1="365.6" y1="1556.4" x2="365.6" y2="1519.5" stroke="#d2d200" stroke-width="6.0"/><line x1="365.6" y1="1556.4" x2="365.6" y2="1519.5" stroke="#ffff00" stroke-width="3.0"/>
<line x1="469.0" y1="1589.2" x2="469.0" y2="1553.2" stroke="#10c0c8" stroke-width="6.0"/><line x1="469.0" y1="1589.2" x2="469.0" y2="1553.2" stroke="#00f0f0" stroke-width="3.0"/><line x1="469.0" y1="1553.2" x2="469.0" y2="1517.2" stroke="#d2d200" stroke-width="6.0"/><line x1="469.0" y1="1553.2" x2="469.0" y2="1517.2" stroke="#ffff00" stroke-width="3.0"/>
<circle cx="193.4" cy="1300.9" r="18.0" fill="url(#sG)"/>
<circle cx="295.7" cy="1299.0" r="18.0" fill="url(#sG)"/>
<circle cx="402.2" cy="1302.4" r="18.0" fill="url(#sG)"/>
<circle cx="502.5" cy="1305.9" r="18.0" fill="url(#sG)"/>
<circle cx="192.4" cy="1408.5" r="18.0" fill="url(#sG)"/>
<circle cx="294.9" cy="1409.0" r="18.0" fill="url(#sG)"/>
<circle cx="401.1" cy="1409.6" r="18.0" fill="url(#sG)"/>
<circle cx="501.3" cy="1410.2" r="18.0" fill="url(#sG)"/>
<circle cx="192.0" cy="1515.5" r="18.0" fill="url(#sG)"/>
<circle cx="294.6" cy="1519.3" r="18.0" fill="url(#sG)"/>
<circle cx="400.5" cy="1517.2" r="18.0" fill="url(#sG)"/>
<circle cx="500.7" cy="1514.9" r="18.0" fill="url(#sG)"/>
<circle cx="191.2" cy="1622.1" r="18.0" fill="url(#sG)"/>
<circle cx="293.8" cy="1629.0" r="18.0" fill="url(#sG)"/>
<circle cx="399.3" cy="1623.8" r="18.0" fill="url(#sG)"/>
<circle cx="499.6" cy="1619.2" r="18.0" fill="url(#sG)"/>
<line x1="224.3" y1="1334.7" x2="187.1" y2="1315.8" stroke="#10c0c8" stroke-width="5.6"/><line x1="224.3" y1="1334.7" x2="187.1" y2="1315.8" stroke="#00f0f0" stroke-width="2.8"/><line x1="187.1" y1="1315.8" x2="152.8" y2="1298.4" stroke="#d2d200" stroke-width="5.6"/><line x1="187.1" y1="1315.8" x2="152.8" y2="1298.4" stroke="#ffff00" stroke-width="2.8"/>
<line x1="332.0" y1="1337.6" x2="293.1" y2="1315.7" stroke="#10c0c8" stroke-width="5.6"/><line x1="332.0" y1="1337.6" x2="293.1" y2="1315.7" stroke="#00f0f0" stroke-width="2.8"/><line x1="293.1" y1="1315.7" x2="257.1" y2="1295.5" stroke="#d2d200" stroke-width="5.6"/><line x1="293.1" y1="1315.7" x2="257.1" y2="1295.5" stroke="#ffff00" stroke-width="2.8"/>
<line x1="433.9" y1="1339.9" x2="399.5" y2="1318.9" stroke="#10c0c8" stroke-width="5.6"/><line x1="433.9" y1="1339.9" x2="399.5" y2="1318.9" stroke="#00f0f0" stroke-width="2.8"/><line x1="399.5" y1="1318.9" x2="367.7" y2="1299.6" stroke="#d2d200" stroke-width="5.6"/><line x1="399.5" y1="1318.9" x2="367.7" y2="1299.6" stroke="#ffff00" stroke-width="2.8"/>
<line x1="262.0" y1="1374.5" x2="297.5" y2="1392.8" stroke="#10c0c8" stroke-width="5.6"/><line x1="262.0" y1="1374.5" x2="297.5" y2="1392.8" stroke="#00f0f0" stroke-width="2.8"/><line x1="297.5" y1="1392.8" x2="330.3" y2="1409.6" stroke="#d2d200" stroke-width="5.6"/><line x1="297.5" y1="1392.8" x2="330.3" y2="1409.6" stroke="#ffff00" stroke-width="2.8"/>
<line x1="367.1" y1="1374.5" x2="403.9" y2="1393.4" stroke="#10c0c8" stroke-width="5.6"/><line x1="367.1" y1="1374.5" x2="403.9" y2="1393.4" stroke="#00f0f0" stroke-width="2.8"/><line x1="403.9" y1="1393.4" x2="437.9" y2="1410.8" stroke="#d2d200" stroke-width="5.6"/><line x1="403.9" y1="1393.4" x2="437.9" y2="1410.8" stroke="#ffff00" stroke-width="2.8"/>
<line x1="470.8" y1="1375.6" x2="507.0" y2="1393.9" stroke="#10c0c8" stroke-width="5.6"/><line x1="470.8" y1="1375.6" x2="507.0" y2="1393.9" stroke="#00f0f0" stroke-width="2.8"/><line x1="507.0" y1="1393.9" x2="540.5" y2="1410.8" stroke="#d2d200" stroke-width="5.6"/><line x1="507.0" y1="1393.9" x2="540.5" y2="1410.8" stroke="#ffff00" stroke-width="2.8"/>
<line x1="261.5" y1="1444.2" x2="297.3" y2="1426.2" stroke="#10c0c8" stroke-width="5.6"/><line x1="261.5" y1="1444.2" x2="297.3" y2="1426.2" stroke="#00f0f0" stroke-width="2.8"/><line x1="297.3" y1="1426.2" x2="330.3" y2="1409.6" stroke="#d2d200" stroke-width="5.6"/><line x1="297.3" y1="1426.2" x2="330.3" y2="1409.6" stroke="#ffff00" stroke-width="2.8"/>
<line x1="366.5" y1="1444.7" x2="403.6" y2="1427.1" stroke="#10c0c8" stroke-width="5.6"/><line x1="366.5" y1="1444.7" x2="403.6" y2="1427.1" stroke="#00f0f0" stroke-width="2.8"/><line x1="403.6" y1="1427.1" x2="437.9" y2="1410.8" stroke="#d2d200" stroke-width="5.6"/><line x1="403.6" y1="1427.1" x2="437.9" y2="1410.8" stroke="#ffff00" stroke-width="2.8"/>
<line x1="470.2" y1="1445.3" x2="506.8" y2="1427.4" stroke="#10c0c8" stroke-width="5.6"/><line x1="470.2" y1="1445.3" x2="506.8" y2="1427.4" stroke="#00f0f0" stroke-width="2.8"/><line x1="506.8" y1="1427.4" x2="540.5" y2="1410.8" stroke="#d2d200" stroke-width="5.6"/><line x1="506.8" y1="1427.4" x2="540.5" y2="1410.8" stroke="#ffff00" stroke-width="2.8"/>
<line x1="223.5" y1="1482.7" x2="186.2" y2="1501.0" stroke="#10c0c8" stroke-width="5.6"/><line x1="223.5" y1="1482.7" x2="186.2" y2="1501.0" stroke="#00f0f0" stroke-width="2.8"/><line x1="186.2" y1="1501.0" x2="151.7" y2="1517.8" stroke="#d2d200" stroke-width="5.6"/><line x1="186.2" y1="1501.0" x2="151.7" y2="1517.8" stroke="#ffff00" stroke-width="2.8"/>
<line x1="331.1" y1="1480.9" x2="292.2" y2="1502.5" stroke="#10c0c8" stroke-width="5.6"/><line x1="331.1" y1="1480.9" x2="292.2" y2="1502.5" stroke="#00f0f0" stroke-width="2.8"/><line x1="292.2" y1="1502.5" x2="256.3" y2="1522.4" stroke="#d2d200" stroke-width="5.6"/><line x1="292.2" y1="1502.5" x2="256.3" y2="1522.4" stroke="#ffff00" stroke-width="2.8"/>
<line x1="432.8" y1="1480.3" x2="398.2" y2="1500.7" stroke="#10c0c8" stroke-width="5.6"/><line x1="432.8" y1="1480.3" x2="398.2" y2="1500.7" stroke="#00f0f0" stroke-width="2.8"/><line x1="398.2" y1="1500.7" x2="366.3" y2="1519.5" stroke="#d2d200" stroke-width="5.6"/><line x1="398.2" y1="1500.7" x2="366.3" y2="1519.5" stroke="#ffff00" stroke-width="2.8"/>
<line x1="222.9" y1="1554.1" x2="185.9" y2="1535.2" stroke="#10c0c8" stroke-width="5.6"/><line x1="222.9" y1="1554.1" x2="185.9" y2="1535.2" stroke="#00f0f0" stroke-width="2.8"/><line x1="185.9" y1="1535.2" x2="151.7" y2="1517.8" stroke="#d2d200" stroke-width="5.6"/><line x1="185.9" y1="1535.2" x2="151.7" y2="1517.8" stroke="#ffff00" stroke-width="2.8"/>
<line x1="330.3" y1="1550.6" x2="291.8" y2="1535.9" stroke="#10c0c8" stroke-width="5.6"/><line x1="330.3" y1="1550.6" x2="291.8" y2="1535.9" stroke="#00f0f0" stroke-width="2.8"/><line x1="291.8" y1="1535.9" x2="256.3" y2="1522.4" stroke="#d2d200" stroke-width="5.6"/><line x1="291.8" y1="1535.9" x2="256.3" y2="1522.4" stroke="#ffff00" stroke-width="2.8"/>
<line x1="432.2" y1="1547.2" x2="397.9" y2="1532.8" stroke="#10c0c8" stroke-width="5.6"/><line x1="432.2" y1="1547.2" x2="397.9" y2="1532.8" stroke="#00f0f0" stroke-width="2.8"/><line x1="397.9" y1="1532.8" x2="366.3" y2="1519.5" stroke="#d2d200" stroke-width="5.6"/><line x1="397.9" y1="1532.8" x2="366.3" y2="1519.5" stroke="#ffff00" stroke-width="2.8"/>
<line x1="260.8" y1="1587.5" x2="296.2" y2="1612.0" stroke="#10c0c8" stroke-width="5.6"/><line x1="260.8" y1="1587.5" x2="296.2" y2="1612.0" stroke="#00f0f0" stroke-width="2.8"/><line x1="296.2" y1="1612.0" x2="328.9" y2="1634.7" stroke="#d2d200" stroke-width="5.6"/><line x1="296.2" y1="1612.0" x2="328.9" y2="1634.7" stroke="#ffff00" stroke-width="2.8"/>
<line x1="365.6" y1="1593.3" x2="402.3" y2="1612.4" stroke="#10c0c8" stroke-width="5.6"/><line x1="365.6" y1="1593.3" x2="402.3" y2="1612.4" stroke="#00f0f0" stroke-width="2.8"/><line x1="402.3" y1="1612.4" x2="436.2" y2="1630.1" stroke="#d2d200" stroke-width="5.6"/><line x1="402.3" y1="1612.4" x2="436.2" y2="1630.1" stroke="#ffff00" stroke-width="2.8"/>
<line x1="469.0" y1="1589.2" x2="505.0" y2="1607.5" stroke="#10c0c8" stroke-width="5.6"/><line x1="469.0" y1="1589.2" x2="505.0" y2="1607.5" stroke="#00f0f0" stroke-width="2.8"/><line x1="505.0" y1="1607.5" x2="538.2" y2="1624.4" stroke="#d2d200" stroke-width="5.6"/><line x1="505.0" y1="1607.5" x2="538.2" y2="1624.4" stroke="#ffff00" stroke-width="2.8"/>
<circle cx="224.3" cy="1334.7" r="19.0" fill="url(#sC)"/><path d="M224.0 1334.2L224.3 1316.0A18.7 18.7 0 0 0 217.0 1317.5Z" fill="url(#wg)"/>
<circle cx="332.0" cy="1337.6" r="19.0" fill="url(#sC)"/><path d="M331.7 1337.1L332.0 1318.9A18.7 18.7 0 0 0 324.7 1320.4Z" fill="url(#wg)"/>
<circle cx="433.9" cy="1339.9" r="19.0" fill="url(#sC)"/><path d="M433.6 1339.4L433.9 1321.2A18.7 18.7 0 0 0 426.6 1322.7Z" fill="url(#wg)"/>
<circle cx="262.0" cy="1374.5" r="19.0" fill="url(#sC)"/><path d="M261.7 1374.0L262.0 1355.8A18.7 18.7 0 0 0 254.7 1357.3Z" fill="url(#wg)"/>
<circle cx="367.1" cy="1374.5" r="19.0" fill="url(#sC)"/><path d="M366.8 1374.0L367.1 1355.8A18.7 18.7 0 0 0 359.8 1357.3Z" fill="url(#wg)"/>
<circle cx="470.8" cy="1375.6" r="19.0" fill="url(#sC)"/><path d="M470.5 1375.1L470.8 1356.9A18.7 18.7 0 0 0 463.5 1358.4Z" fill="url(#wg)"/>
<circle cx="261.5" cy="1444.2" r="19.0" fill="url(#sC)"/><path d="M261.2 1443.7L261.5 1425.5A18.7 18.7 0 0 0 254.2 1427.0Z" fill="url(#wg)"/>
<circle cx="366.5" cy="1444.7" r="19.0" fill="url(#sC)"/><path d="M366.2 1444.2L366.5 1426.0A18.7 18.7 0 0 0 359.2 1427.5Z" fill="url(#wg)"/>
<circle cx="470.2" cy="1445.3" r="19.0" fill="url(#sC)"/><path d="M469.9 1444.8L470.2 1426.6A18.7 18.7 0 0 0 462.9 1428.1Z" fill="url(#wg)"/>
<circle cx="223.5" cy="1482.7" r="19.0" fill="url(#sC)"/><path d="M223.2 1482.2L223.5 1464.0A18.7 18.7 0 0 0 216.2 1465.5Z" fill="url(#wg)"/>
<circle cx="331.1" cy="1480.9" r="19.0" fill="url(#sC)"/><path d="M330.8 1480.4L331.1 1462.2A18.7 18.7 0 0 0 323.8 1463.7Z" fill="url(#wg)"/>
<circle cx="432.8" cy="1480.3" r="19.0" fill="url(#sC)"/><path d="M432.5 1479.8L432.8 1461.6A18.7 18.7 0 0 0 425.5 1463.1Z" fill="url(#wg)"/>
<circle cx="222.9" cy="1554.1" r="19.0" fill="url(#sC)"/><path d="M222.6 1553.6L222.9 1535.4A18.7 18.7 0 0 0 215.6 1536.9Z" fill="url(#wg)"/>
<circle cx="330.3" cy="1550.6" r="19.0" fill="url(#sC)"/><path d="M330.0 1550.1L330.3 1531.9A18.7 18.7 0 0 0 323.0 1533.4Z" fill="url(#wg)"/>
<circle cx="432.2" cy="1547.2" r="19.0" fill="url(#sC)"/><path d="M431.9 1546.7L432.2 1528.5A18.7 18.7 0 0 0 424.9 1530.0Z" fill="url(#wg)"/>
<circle cx="260.8" cy="1587.5" r="19.0" fill="url(#sC)"/><path d="M260.5 1587.0L260.8 1568.8A18.7 18.7 0 0 0 253.5 1570.3Z" fill="url(#wg)"/>
<circle cx="365.6" cy="1593.3" r="19.0" fill="url(#sC)"/><path d="M365.3 1592.8L365.6 1574.6A18.7 18.7 0 0 0 358.3 1576.1Z" fill="url(#wg)"/>
<circle cx="469.0" cy="1589.2" r="19.0" fill="url(#sC)"/><path d="M468.7 1588.7L469.0 1570.5A18.7 18.7 0 0 0 461.7 1572.0Z" fill="url(#wg)"/>
<line x1="173.9" y1="1299.7" x2="152.8" y2="1298.4" stroke="#c8c800" stroke-width="6.0"/><line x1="184.4" y1="1300.3" x2="173.9" y2="1299.7" stroke="#0a9a2c" stroke-width="6.0" stroke-linecap="round"/>
<line x1="276.3" y1="1297.2" x2="257.1" y2="1295.5" stroke="#c8c800" stroke-width="6.0"/><line x1="286.7" y1="1298.2" x2="276.3" y2="1297.2" stroke="#0a9a2c" stroke-width="6.0" stroke-linecap="round"/>
<line x1="382.8" y1="1300.8" x2="367.7" y2="1299.6" stroke="#c8c800" stroke-width="6.0"/><line x1="393.2" y1="1301.7" x2="382.8" y2="1300.8" stroke="#0a9a2c" stroke-width="6.0" stroke-linecap="round"/>
<line x1="483.1" y1="1304.1" x2="471.4" y2="1303.0" stroke="#c8c800" stroke-width="6.0"/><line x1="493.5" y1="1305.1" x2="483.1" y2="1304.1" stroke="#0a9a2c" stroke-width="6.0" stroke-linecap="round"/>
<line x1="172.5" y1="1516.6" x2="151.7" y2="1517.8" stroke="#c8c800" stroke-width="6.0"/><line x1="183.0" y1="1516.0" x2="172.5" y2="1516.6" stroke="#0a9a2c" stroke-width="6.0" stroke-linecap="round"/>
<line x1="275.2" y1="1520.9" x2="256.3" y2="1522.4" stroke="#c8c800" stroke-width="6.0"/><line x1="285.6" y1="1520.0" x2="275.2" y2="1520.9" stroke="#0a9a2c" stroke-width="6.0" stroke-linecap="round"/>
<line x1="381.0" y1="1518.5" x2="366.3" y2="1519.5" stroke="#c8c800" stroke-width="6.0"/><line x1="391.5" y1="1517.8" x2="381.0" y2="1518.5" stroke="#0a9a2c" stroke-width="6.0" stroke-linecap="round"/>
<line x1="481.3" y1="1516.3" x2="469.6" y2="1517.2" stroke="#c8c800" stroke-width="6.0"/><line x1="491.7" y1="1515.6" x2="481.3" y2="1516.3" stroke="#0a9a2c" stroke-width="6.0" stroke-linecap="round"/>
<line x1="211.9" y1="1408.8" x2="223.7" y2="1409.0" stroke="#c8c800" stroke-width="6.0"/><line x1="201.4" y1="1408.6" x2="211.9" y2="1408.8" stroke="#0a9a2c" stroke-width="6.0" stroke-linecap="round"/>
<line x1="314.4" y1="1409.3" x2="330.3" y2="1409.6" stroke="#c8c800" stroke-width="6.0"/><line x1="303.9" y1="1409.2" x2="314.4" y2="1409.3" stroke="#0a9a2c" stroke-width="6.0" stroke-linecap="round"/>
<line x1="420.6" y1="1410.2" x2="437.9" y2="1410.8" stroke="#c8c800" stroke-width="6.0"/><line x1="410.1" y1="1409.9" x2="420.6" y2="1410.2" stroke="#0a9a2c" stroke-width="6.0" stroke-linecap="round"/>
<line x1="520.8" y1="1410.5" x2="540.5" y2="1410.8" stroke="#c8c800" stroke-width="6.0"/><line x1="510.3" y1="1410.3" x2="520.8" y2="1410.5" stroke="#0a9a2c" stroke-width="6.0" stroke-linecap="round"/>
<line x1="210.3" y1="1625.9" x2="222.5" y2="1628.4" stroke="#c8c800" stroke-width="6.0"/><line x1="200.0" y1="1623.9" x2="210.3" y2="1625.9" stroke="#0a9a2c" stroke-width="6.0" stroke-linecap="round"/>
<line x1="313.0" y1="1632.1" x2="328.9" y2="1634.7" stroke="#c8c800" stroke-width="6.0"/><line x1="302.7" y1="1630.4" x2="313.0" y2="1632.1" stroke="#0a9a2c" stroke-width="6.0" stroke-linecap="round"/>
<line x1="418.5" y1="1627.1" x2="436.2" y2="1630.1" stroke="#c8c800" stroke-width="6.0"/><line x1="408.2" y1="1625.3" x2="418.5" y2="1627.1" stroke="#0a9a2c" stroke-width="6.0" stroke-linecap="round"/>
<line x1="518.9" y1="1621.8" x2="538.2" y2="1624.4" stroke="#c8c800" stroke-width="6.0"/><line x1="508.5" y1="1620.4" x2="518.9" y2="1621.8" stroke="#0a9a2c" stroke-width="6.0" stroke-linecap="round"/>
<line x1="237.5" y1="1319.0" x2="257.1" y2="1295.5" stroke="#c8c800" stroke-width="6.0"/><line x1="230.4" y1="1327.4" x2="237.5" y2="1319.0" stroke="#10b4bc" stroke-width="6.0" stroke-linecap="round"/>
<line x1="346.0" y1="1322.7" x2="367.7" y2="1299.6" stroke="#c8c800" stroke-width="6.0"/><line x1="338.5" y1="1330.7" x2="346.0" y2="1322.7" stroke="#10b4bc" stroke-width="6.0" stroke-linecap="round"/>
<line x1="448.5" y1="1325.5" x2="471.4" y2="1303.0" stroke="#c8c800" stroke-width="6.0"/><line x1="440.7" y1="1333.2" x2="448.5" y2="1325.5" stroke="#10b4bc" stroke-width="6.0" stroke-linecap="round"/>
<line x1="246.8" y1="1388.2" x2="223.7" y2="1409.0" stroke="#c8c800" stroke-width="6.0"/><line x1="254.9" y1="1380.9" x2="246.8" y2="1388.2" stroke="#10b4bc" stroke-width="6.0" stroke-linecap="round"/>
<line x1="352.3" y1="1388.6" x2="330.3" y2="1409.6" stroke="#c8c800" stroke-width="6.0"/><line x1="360.2" y1="1381.1" x2="352.3" y2="1388.6" stroke="#10b4bc" stroke-width="6.0" stroke-linecap="round"/>
<line x1="456.8" y1="1390.6" x2="437.9" y2="1410.8" stroke="#c8c800" stroke-width="6.0"/><line x1="464.3" y1="1382.5" x2="456.8" y2="1390.6" stroke="#10b4bc" stroke-width="6.0" stroke-linecap="round"/>
<line x1="246.5" y1="1430.2" x2="223.7" y2="1409.0" stroke="#c8c800" stroke-width="6.0"/><line x1="254.5" y1="1437.7" x2="246.5" y2="1430.2" stroke="#10b4bc" stroke-width="6.0" stroke-linecap="round"/>
<line x1="351.8" y1="1430.4" x2="330.3" y2="1409.6" stroke="#c8c800" stroke-width="6.0"/><line x1="359.7" y1="1438.1" x2="351.8" y2="1430.4" stroke="#10b4bc" stroke-width="6.0" stroke-linecap="round"/>
<line x1="456.2" y1="1430.3" x2="437.9" y2="1410.8" stroke="#c8c800" stroke-width="6.0"/><line x1="463.7" y1="1438.4" x2="456.2" y2="1430.3" stroke="#10b4bc" stroke-width="6.0" stroke-linecap="round"/>
<line x1="236.6" y1="1498.5" x2="256.3" y2="1522.4" stroke="#c8c800" stroke-width="6.0"/><line x1="229.6" y1="1490.0" x2="236.6" y2="1498.5" stroke="#10b4bc" stroke-width="6.0" stroke-linecap="round"/>
<line x1="344.9" y1="1496.0" x2="366.3" y2="1519.5" stroke="#c8c800" stroke-width="6.0"/><line x1="337.5" y1="1487.9" x2="344.9" y2="1496.0" stroke="#10b4bc" stroke-width="6.0" stroke-linecap="round"/>
<line x1="447.3" y1="1494.8" x2="469.6" y2="1517.2" stroke="#c8c800" stroke-width="6.0"/><line x1="439.5" y1="1487.0" x2="447.3" y2="1494.8" stroke="#10b4bc" stroke-width="6.0" stroke-linecap="round"/>
<line x1="237.8" y1="1540.0" x2="256.3" y2="1522.4" stroke="#c8c800" stroke-width="6.0"/><line x1="229.8" y1="1547.6" x2="237.8" y2="1540.0" stroke="#10b4bc" stroke-width="6.0" stroke-linecap="round"/>
<line x1="345.8" y1="1537.2" x2="366.3" y2="1519.5" stroke="#c8c800" stroke-width="6.0"/><line x1="337.5" y1="1544.4" x2="345.8" y2="1537.2" stroke="#10b4bc" stroke-width="6.0" stroke-linecap="round"/>
<line x1="448.2" y1="1534.4" x2="469.6" y2="1517.2" stroke="#c8c800" stroke-width="6.0"/><line x1="439.6" y1="1541.3" x2="448.2" y2="1534.4" stroke="#10b4bc" stroke-width="6.0" stroke-linecap="round"/>
<line x1="246.8" y1="1602.5" x2="222.5" y2="1628.4" stroke="#c8c800" stroke-width="6.0"/><line x1="254.3" y1="1594.4" x2="246.8" y2="1602.5" stroke="#10b4bc" stroke-width="6.0" stroke-linecap="round"/>
<line x1="352.0" y1="1608.6" x2="328.9" y2="1634.7" stroke="#c8c800" stroke-width="6.0"/><line x1="359.3" y1="1600.4" x2="352.0" y2="1608.6" stroke="#10b4bc" stroke-width="6.0" stroke-linecap="round"/>
<line x1="456.2" y1="1605.2" x2="436.2" y2="1630.1" stroke="#c8c800" stroke-width="6.0"/><line x1="463.1" y1="1596.6" x2="456.2" y2="1605.2" stroke="#10b4bc" stroke-width="6.0" stroke-linecap="round"/>
<circle cx="152.8" cy="1298.4" r="20.7" fill="url(#sY)"/><path d="M152.5 1297.9L152.8 1278.0A20.4 20.4 0 0 0 144.8 1279.6Z" fill="url(#wg)"/>
<circle cx="257.1" cy="1295.5" r="20.7" fill="url(#sY)"/><path d="M256.8 1295.0L257.1 1275.1A20.4 20.4 0 0 0 249.1 1276.7Z" fill="url(#wg)"/>
<circle cx="367.7" cy="1299.6" r="20.7" fill="url(#sY)"/><path d="M367.4 1299.1L367.7 1279.2A20.4 20.4 0 0 0 359.7 1280.8Z" fill="url(#wg)"/>
<circle cx="471.4" cy="1303.0" r="20.7" fill="url(#sY)"/><path d="M471.1 1302.5L471.4 1282.6A20.4 20.4 0 0 0 463.4 1284.2Z" fill="url(#wg)"/>
<circle cx="223.7" cy="1409.0" r="20.7" fill="url(#sY)"/><path d="M223.4 1408.5L223.7 1388.6A20.4 20.4 0 0 0 215.7 1390.2Z" fill="url(#wg)"/>
<circle cx="330.3" cy="1409.6" r="20.7" fill="url(#sY)"/><path d="M330.0 1409.1L330.3 1389.2A20.4 20.4 0 0 0 322.3 1390.8Z" fill="url(#wg)"/>
<circle cx="437.9" cy="1410.8" r="20.7" fill="url(#sY)"/><path d="M437.6 1410.3L437.9 1390.4A20.4 20.4 0 0 0 429.9 1392.0Z" fill="url(#wg)"/>
<circle cx="540.5" cy="1410.8" r="20.7" fill="url(#sY)"/><path d="M540.2 1410.3L540.5 1390.4A20.4 20.4 0 0 0 532.5 1392.0Z" fill="url(#wg)"/>
<circle cx="151.7" cy="1517.8" r="20.7" fill="url(#sY)"/><path d="M151.4 1517.3L151.7 1497.4A20.4 20.4 0 0 0 143.7 1499.0Z" fill="url(#wg)"/>
<circle cx="256.3" cy="1522.4" r="20.7" fill="url(#sY)"/><path d="M256.0 1521.9L256.3 1502.0A20.4 20.4 0 0 0 248.3 1503.6Z" fill="url(#wg)"/>
<circle cx="366.3" cy="1519.5" r="20.7" fill="url(#sY)"/><path d="M366.0 1519.0L366.3 1499.1A20.4 20.4 0 0 0 358.3 1500.7Z" fill="url(#wg)"/>
<circle cx="469.6" cy="1517.2" r="20.7" fill="url(#sY)"/><path d="M469.3 1516.7L469.6 1496.8A20.4 20.4 0 0 0 461.6 1498.4Z" fill="url(#wg)"/>
<circle cx="222.5" cy="1628.4" r="20.7" fill="url(#sY)"/><path d="M222.2 1627.9L222.5 1608.0A20.4 20.4 0 0 0 214.5 1609.6Z" fill="url(#wg)"/>
<circle cx="328.9" cy="1634.7" r="20.7" fill="url(#sY)"/><path d="M328.6 1634.2L328.9 1614.3A20.4 20.4 0 0 0 320.9 1615.9Z" fill="url(#wg)"/>
<circle cx="436.2" cy="1630.1" r="20.7" fill="url(#sY)"/><path d="M435.9 1629.6L436.2 1609.7A20.4 20.4 0 0 0 428.2 1611.3Z" fill="url(#wg)"/>
<circle cx="538.2" cy="1624.4" r="20.7" fill="url(#sY)"/><path d="M537.9 1623.9L538.2 1604.0A20.4 20.4 0 0 0 530.2 1605.6Z" fill="url(#wg)"/>
<line x1="568.6" y1="1341.3" x2="534.7" y2="1308.0" stroke="#17a93f" stroke-width="4.6"/><path d="M526.1 1299.6L543.5 1306.2L534.7 1308.0L533.0 1316.9Z" fill="#17a93f"/>
<line x1="565.8" y1="1361.5" x2="518.6" y2="1385.6" stroke="#17a93f" stroke-width="4.6"/><path d="M507.9 1391.1L519.6 1376.7L518.6 1385.6L526.5 1390.0Z" fill="#17a93f"/>
<line x1="568.6" y1="1482.9" x2="502.6" y2="1452.7" stroke="#1cc6c8" stroke-width="4.6"/><path d="M491.7 1447.7L510.3 1448.0L502.6 1452.7L504.0 1461.6Z" fill="#1cc6c8"/>
<line x1="563.3" y1="1500.3" x2="464.2" y2="1481.2" stroke="#1cc6c8" stroke-width="4.6"/><path d="M452.4 1478.9L470.5 1474.8L464.2 1481.2L467.7 1489.5Z" fill="#1cc6c8"/>
<line x1="652.4" y1="1593.4" x2="507.8" y2="1532.5" stroke="#c9c812" stroke-width="3.6"/><path d="M495.8 1527.5L514.9 1528.5L507.8 1532.5L509.9 1540.5Z" fill="#c9c812"/>
<line x1="652.4" y1="1593.4" x2="575.0" y2="1614.3" stroke="#c9c812" stroke-width="3.6"/><path d="M562.5 1617.7L578.2 1606.7L575.0 1614.3L581.6 1619.3Z" fill="#c9c812"/>
<path d="M640 1588.2L652.4 1593.4L640 1596.8" fill="none" stroke="#c9c812" stroke-width="3.6" stroke-linejoin="miter" stroke-miterlimit="10"/>
<text transform="translate(714.90,1327.10) translate(-52.00,0) scale(0.9318,1)" font-size="27.50" fill="#17a93f" xml:space="preserve"><tspan x="0.00" y="0.00">Li(1) (2</tspan><tspan x="87.11" y="0.00" font-style="italic">b</tspan><tspan x="102.41" y="0.00">)</tspan></text>
<text transform="translate(715.10,1359.50) translate(-119.40,0) scale(1.0577,1)" font-size="27.50" fill="#17a93f" xml:space="preserve"><tspan x="0.00" y="0.00">Vacancy formation</tspan></text>
<text transform="translate(714.30,1391.90) translate(-93.10,0) scale(0.9979,1)" font-size="27.50" fill="#17a93f" xml:space="preserve"><tspan x="0.00" y="0.00">energy 1.43 eV</tspan></text>
<text transform="translate(707.60,1461.50) translate(-51.20,0) scale(0.9850,1)" font-size="27.50" fill="#1cc6c8" xml:space="preserve"><tspan x="0.00" y="0.00">Li(2) (4</tspan><tspan x="87.11" y="0.00" font-style="italic">f</tspan><tspan x="94.75" y="0.00">)</tspan></text>
<text transform="translate(708.20,1493.90) translate(-119.40,0) scale(1.0577,1)" font-size="27.50" fill="#1cc6c8" xml:space="preserve"><tspan x="0.00" y="0.00">Vacancy formation</tspan></text>
<text transform="translate(707.80,1526.20) translate(-93.50,0) scale(1.0022,1)" font-size="27.50" fill="#1cc6c8" xml:space="preserve"><tspan x="0.00" y="0.00">energy 0.81 eV</tspan></text>
<text transform="translate(671.00,1605.60) translate(0.00,0) scale(0.9557,1)" font-size="27.50" fill="#c9c812" xml:space="preserve"><tspan x="0.00" y="0.00">N (2</tspan><tspan x="51.95" y="0.00" font-style="italic">c</tspan><tspan x="65.70" y="0.00">)</tspan></text>
<linearGradient id="axb" x1="0" x2="1"><stop offset="0" stop-color="#0000a0"/><stop offset="0.45" stop-color="#2020ff"/><stop offset="1" stop-color="#000080"/></linearGradient>
<linearGradient id="axr" y1="0" y2="1" x1="0" x2="0"><stop offset="0" stop-color="#ff4040"/><stop offset="0.5" stop-color="#e00000"/><stop offset="1" stop-color="#900000"/></linearGradient>
<linearGradient id="axg" y1="0" y2="1" x1="0" x2="0"><stop offset="0" stop-color="#40ff40"/><stop offset="0.5" stop-color="#00d000"/><stop offset="1" stop-color="#008000"/></linearGradient>
<path d="M96.3 1675.4L96.3 1620L89.9 1620L100.2 1592.6L111 1620L104.2 1620L104.2 1675.4Z" fill="url(#axb)"/>
<path d="M99.9 1672.2L50.2 1673.4L50.2 1666.6L20.7 1677.8L50.2 1687.9L50.2 1680.2L99.9 1679Z" fill="url(#axr)"/>
<path d="M99.9 1672.6L139.2 1674.4L139.2 1667.1L166.2 1678.9L139.2 1688.9L139.2 1681.6L99.9 1679.8Z" fill="url(#axg)"/>
<radialGradient id="axo" cx="0.5" cy="0.5" r="0.5" fx="0.45" fy="0.42"><stop offset="0" stop-color="#ffffff"/><stop offset="0.5" stop-color="#d0d0d0"/><stop offset="1" stop-color="#808080"/></radialGradient>
<circle cx="99.90" cy="1675.40" r="8.80" fill="url(#axo)" stroke="none" stroke-width="0" />
<text transform="translate(95.80,1583.80) translate(0.00,0) scale(1.0113,1)" font-size="26.50" fill="#000" xml:space="preserve"><tspan x="0.00" y="0.00" font-style="italic">c</tspan></text>
<text transform="translate(0.50,1685.80) translate(0.00,0) scale(0.8839,1)" font-size="26.50" fill="#000" xml:space="preserve"><tspan x="0.00" y="0.00" font-style="italic">a</tspan></text>
<text transform="translate(179.60,1685.80) translate(0.00,0) scale(0.9519,1)" font-size="26.50" fill="#000" xml:space="preserve"><tspan x="0.00" y="0.00" font-style="italic">b</tspan></text>
<text transform="translate(340.00,1729.80) translate(-123.45,0) scale(1.0469,1)" font-size="27.00" fill="#000" xml:space="preserve"><tspan x="0.00" y="0.00">Vacancy-rich β-Li</tspan><tspan x="207.10" y="7.56" font-size="16.74">3</tspan><tspan x="216.41" y="0.00">N</tspan></text>
<text transform="translate(347.00,1763.40) translate(-192.00,0) scale(1.0359,1)" font-size="27.00" fill="#000" xml:space="preserve"><tspan x="0.00" y="0.00">Li vacancy (4</tspan><tspan x="159.08" y="0.00" font-style="italic">f</tspan><tspan x="166.58" y="0.00">), N vacancy (2</tspan><tspan x="348.13" y="0.00" font-style="italic">c</tspan><tspan x="361.63" y="0.00">)</tspan></text>
<text x="-0.3" y="1263.6" font-size="37.5" font-weight="bold" stroke="#000" stroke-width="1.2" stroke-linejoin="round">e</text>
</g>
<g id="pf">
<text x="860.8" y="599.8" font-size="37.5" font-weight="bold" stroke="#000" stroke-width="1.2" stroke-linejoin="round">f</text>
<text transform="translate(1429.30,626.90) translate(-263.00,0) scale(1.1031,1)" font-size="28.00" fill="#000" xml:space="preserve"><tspan x="0.00" y="0.00">Vacancy-mediated superionic diffusion</tspan></text>
<circle cx="885.00" cy="694.70" r="33.50" fill="#dedd00" stroke="#cbc800" stroke-width="2.8" />
<circle cx="979.70" cy="694.70" r="33.50" fill="#dedd00" stroke="#cbc800" stroke-width="2.8" />
<circle cx="1074.80" cy="694.70" r="33.50" fill="#dedd00" stroke="#cbc800" stroke-width="2.8" />
<circle cx="1169.50" cy="694.70" r="33.50" fill="#dedd00" stroke="#cbc800" stroke-width="2.8" />
<circle cx="1264.60" cy="694.70" r="33.50" fill="#dedd00" stroke="#cbc800" stroke-width="2.8" />
<circle cx="1360.60" cy="694.70" r="33.50" fill="#dedd00" stroke="#cbc800" stroke-width="2.8" />
<circle cx="885.00" cy="794.60" r="33.50" fill="#dedd00" stroke="#cbc800" stroke-width="2.8" />
<circle cx="979.70" cy="794.60" r="33.50" fill="#dedd00" stroke="#cbc800" stroke-width="2.8" />
<circle cx="1074.80" cy="794.60" r="33.50" fill="#dedd00" stroke="#cbc800" stroke-width="2.8" />
<circle cx="1169.50" cy="794.60" r="33.50" fill="#dedd00" stroke="#cbc800" stroke-width="2.8" />
<circle cx="1264.60" cy="794.60" r="33.50" fill="#dedd00" stroke="#cbc800" stroke-width="2.8" />
<circle cx="1360.60" cy="794.60" r="33.50" fill="#dedd00" stroke="#cbc800" stroke-width="2.8" />
<circle cx="885.00" cy="887.40" r="33.50" fill="#dedd00" stroke="#cbc800" stroke-width="2.8" />
<circle cx="979.70" cy="887.40" r="33.50" fill="#dedd00" stroke="#cbc800" stroke-width="2.8" />
<circle cx="1074.80" cy="887.40" r="33.50" fill="#dedd00" stroke="#cbc800" stroke-width="2.8" />
<circle cx="1169.50" cy="887.40" r="32.20" fill="#f5f3b2" stroke="#e2de10" stroke-width="2.8" />
<circle cx="1264.60" cy="887.40" r="33.50" fill="#dedd00" stroke="#cbc800" stroke-width="2.8" />
<circle cx="1360.60" cy="887.40" r="33.50" fill="#dedd00" stroke="#cbc800" stroke-width="2.8" />
<circle cx="885.00" cy="983.40" r="33.50" fill="#dedd00" stroke="#cbc800" stroke-width="2.8" />
<circle cx="979.70" cy="983.40" r="33.50" fill="#dedd00" stroke="#cbc800" stroke-width="2.8" />
<circle cx="1074.80" cy="983.40" r="33.50" fill="#dedd00" stroke="#cbc800" stroke-width="2.8" />
<circle cx="1169.50" cy="983.40" r="33.50" fill="#dedd00" stroke="#cbc800" stroke-width="2.8" />
<circle cx="1264.60" cy="983.40" r="33.50" fill="#dedd00" stroke="#cbc800" stroke-width="2.8" />
<circle cx="1360.60" cy="983.40" r="33.50" fill="#dedd00" stroke="#cbc800" stroke-width="2.8" />
<circle cx="885.00" cy="1079.00" r="33.50" fill="#dedd00" stroke="#cbc800" stroke-width="2.8" />
<circle cx="979.70" cy="1079.00" r="33.50" fill="#dedd00" stroke="#cbc800" stroke-width="2.8" />
<circle cx="1074.80" cy="1079.00" r="33.50" fill="#dedd00" stroke="#cbc800" stroke-width="2.8" />
<circle cx="1169.50" cy="1079.00" r="33.50" fill="#dedd00" stroke="#cbc800" stroke-width="2.8" />
<circle cx="1264.60" cy="1079.00" r="33.50" fill="#dedd00" stroke="#cbc800" stroke-width="2.8" />
<circle cx="1360.60" cy="1079.00" r="33.50" fill="#dedd00" stroke="#cbc800" stroke-width="2.8" />
<circle cx="930.90" cy="745.70" r="27.40" fill="#00ad50" stroke="#05a24c" stroke-width="1.6" />
<circle cx="1026.00" cy="745.70" r="27.40" fill="#00ad50" stroke="#05a24c" stroke-width="1.6" />
<circle cx="1121.00" cy="745.70" r="27.40" fill="#00ad50" stroke="#05a24c" stroke-width="1.6" />
<circle cx="1216.40" cy="745.70" r="26.30" fill="#7fd8a8" stroke="#62eeb0" stroke-width="2" />
<circle cx="1216.40" cy="745.70" r="31.00" fill="none" stroke="#ff0000" stroke-width="8.2" />
<circle cx="1311.50" cy="745.70" r="27.40" fill="#00ad50" stroke="#05a24c" stroke-width="1.6" />
<circle cx="930.90" cy="841.70" r="27.40" fill="#00ad50" stroke="#05a24c" stroke-width="1.6" />
<circle cx="1026.00" cy="841.70" r="26.30" fill="#7fd8a8" stroke="#62eeb0" stroke-width="2" />
<circle cx="1026.00" cy="841.70" r="31.00" fill="none" stroke="#ff0000" stroke-width="8.2" />
<circle cx="1121.00" cy="841.70" r="27.40" fill="#00ad50" stroke="#05a24c" stroke-width="1.6" />
<circle cx="1216.40" cy="841.70" r="27.40" fill="#00ad50" stroke="#05a24c" stroke-width="1.6" />
<circle cx="1311.50" cy="841.70" r="27.40" fill="#00ad50" stroke="#05a24c" stroke-width="1.6" />
<circle cx="930.90" cy="938.00" r="27.40" fill="#00ad50" stroke="#05a24c" stroke-width="1.6" />
<circle cx="1026.00" cy="938.00" r="27.40" fill="#00ad50" stroke="#05a24c" stroke-width="1.6" />
<circle cx="1121.00" cy="938.00" r="27.40" fill="#00ad50" stroke="#05a24c" stroke-width="1.6" />
<circle cx="1216.40" cy="938.00" r="27.40" fill="#00ad50" stroke="#05a24c" stroke-width="1.6" />
<circle cx="1311.50" cy="938.00" r="27.40" fill="#00ad50" stroke="#05a24c" stroke-width="1.6" />
<circle cx="930.90" cy="1033.70" r="27.40" fill="#00ad50" stroke="#05a24c" stroke-width="1.6" />
<circle cx="1026.00" cy="1033.70" r="27.40" fill="#00ad50" stroke="#05a24c" stroke-width="1.6" />
<circle cx="1121.00" cy="1033.70" r="27.40" fill="#00ad50" stroke="#05a24c" stroke-width="1.6" />
<circle cx="1216.40" cy="1033.70" r="27.40" fill="#00ad50" stroke="#05a24c" stroke-width="1.6" />
<circle cx="1311.50" cy="1033.70" r="27.40" fill="#00ad50" stroke="#05a24c" stroke-width="1.6" />
<line x1="931.7" y1="842.8" x2="1012.9" y2="842.5" stroke="#44546a" stroke-width="3.6" /><path d="M1025.1 842.4L1008.6 849.3L1012.9 842.5L1008.6 835.6Z" fill="#44546a"/>
<circle cx="1515.80" cy="695.60" r="33.50" fill="#dedd00" stroke="#cbc800" stroke-width="2.8" />
<circle cx="1610.20" cy="695.60" r="33.50" fill="#dedd00" stroke="#cbc800" stroke-width="2.8" />
<circle cx="1704.60" cy="695.60" r="33.50" fill="#dedd00" stroke="#cbc800" stroke-width="2.8" />
<circle cx="1799.00" cy="695.60" r="33.50" fill="#dedd00" stroke="#cbc800" stroke-width="2.8" />
<circle cx="1893.50" cy="695.60" r="33.50" fill="#dedd00" stroke="#cbc800" stroke-width="2.8" />
<circle cx="1988.20" cy="695.60" r="33.50" fill="#dedd00" stroke="#cbc800" stroke-width="2.8" />
<circle cx="1515.80" cy="796.00" r="33.50" fill="#dedd00" stroke="#cbc800" stroke-width="2.8" />
<circle cx="1610.20" cy="796.00" r="32.20" fill="#f5f3b2" stroke="#e2de10" stroke-width="2.8" />
<circle cx="1704.60" cy="796.00" r="33.50" fill="#dedd00" stroke="#cbc800" stroke-width="2.8" />
<circle cx="1799.00" cy="796.00" r="32.20" fill="#f5f3b2" stroke="#e2de10" stroke-width="2.8" />
<circle cx="1893.50" cy="796.00" r="33.50" fill="#dedd00" stroke="#cbc800" stroke-width="2.8" />
<circle cx="1988.20" cy="796.00" r="33.50" fill="#dedd00" stroke="#cbc800" stroke-width="2.8" />
<circle cx="1515.80" cy="889.00" r="33.50" fill="#dedd00" stroke="#cbc800" stroke-width="2.8" />
<circle cx="1610.20" cy="889.00" r="33.50" fill="#dedd00" stroke="#cbc800" stroke-width="2.8" />
<circle cx="1704.60" cy="889.00" r="33.50" fill="#dedd00" stroke="#cbc800" stroke-width="2.8" />
<circle cx="1799.00" cy="889.00" r="33.50" fill="#dedd00" stroke="#cbc800" stroke-width="2.8" />
<circle cx="1893.50" cy="889.00" r="33.50" fill="#dedd00" stroke="#cbc800" stroke-width="2.8" />
<circle cx="1988.20" cy="889.00" r="33.50" fill="#dedd00" stroke="#cbc800" stroke-width="2.8" />
<circle cx="1515.80" cy="985.00" r="33.50" fill="#dedd00" stroke="#cbc800" stroke-width="2.8" />
<circle cx="1610.20" cy="985.00" r="32.20" fill="#f5f3b2" stroke="#e2de10" stroke-width="2.8" />
<circle cx="1704.60" cy="985.00" r="33.50" fill="#dedd00" stroke="#cbc800" stroke-width="2.8" />
<circle cx="1799.00" cy="985.00" r="32.20" fill="#f5f3b2" stroke="#e2de10" stroke-width="2.8" />
<circle cx="1893.50" cy="985.00" r="33.50" fill="#dedd00" stroke="#cbc800" stroke-width="2.8" />
<circle cx="1988.20" cy="985.00" r="33.50" fill="#dedd00" stroke="#cbc800" stroke-width="2.8" />
<circle cx="1515.80" cy="1080.60" r="33.50" fill="#dedd00" stroke="#cbc800" stroke-width="2.8" />
<circle cx="1610.20" cy="1080.60" r="33.50" fill="#dedd00" stroke="#cbc800" stroke-width="2.8" />
<circle cx="1704.60" cy="1080.60" r="33.50" fill="#dedd00" stroke="#cbc800" stroke-width="2.8" />
<circle cx="1799.00" cy="1080.60" r="33.50" fill="#dedd00" stroke="#cbc800" stroke-width="2.8" />
<circle cx="1893.50" cy="1080.60" r="33.50" fill="#dedd00" stroke="#cbc800" stroke-width="2.8" />
<circle cx="1988.20" cy="1080.60" r="33.50" fill="#dedd00" stroke="#cbc800" stroke-width="2.8" />
<circle cx="1563.90" cy="746.40" r="26.30" fill="#7fd8a8" stroke="#62eeb0" stroke-width="2" />
<circle cx="1563.90" cy="746.40" r="31.00" fill="none" stroke="#ff0000" stroke-width="8.2" />
<circle cx="1658.70" cy="746.40" r="27.40" fill="#00ad50" stroke="#05a24c" stroke-width="1.6" />
<circle cx="1753.40" cy="746.40" r="26.30" fill="#7fd8a8" stroke="#62eeb0" stroke-width="2" />
<circle cx="1753.40" cy="746.40" r="31.00" fill="none" stroke="#ff0000" stroke-width="8.2" />
<circle cx="1849.10" cy="746.40" r="27.40" fill="#00ad50" stroke="#05a24c" stroke-width="1.6" />
<circle cx="1942.00" cy="746.40" r="26.30" fill="#7fd8a8" stroke="#62eeb0" stroke-width="2" />
<circle cx="1942.00" cy="746.40" r="31.00" fill="none" stroke="#ff0000" stroke-width="8.2" />
<circle cx="1563.90" cy="842.40" r="27.40" fill="#00ad50" stroke="#05a24c" stroke-width="1.6" />
<circle cx="1658.70" cy="842.40" r="26.30" fill="#7fd8a8" stroke="#62eeb0" stroke-width="2" />
<circle cx="1658.70" cy="842.40" r="31.00" fill="none" stroke="#ff0000" stroke-width="8.2" />
<circle cx="1753.40" cy="842.40" r="27.40" fill="#00ad50" stroke="#05a24c" stroke-width="1.6" />
<circle cx="1849.10" cy="842.40" r="26.30" fill="#7fd8a8" stroke="#62eeb0" stroke-width="2" />
<circle cx="1849.10" cy="842.40" r="31.00" fill="none" stroke="#ff0000" stroke-width="8.2" />
<circle cx="1942.00" cy="842.40" r="27.40" fill="#00ad50" stroke="#05a24c" stroke-width="1.6" />
<circle cx="1563.90" cy="938.00" r="26.30" fill="#7fd8a8" stroke="#62eeb0" stroke-width="2" />
<circle cx="1563.90" cy="938.00" r="31.00" fill="none" stroke="#ff0000" stroke-width="8.2" />
<circle cx="1658.70" cy="938.00" r="27.40" fill="#00ad50" stroke="#05a24c" stroke-width="1.6" />
<circle cx="1753.40" cy="938.00" r="26.30" fill="#7fd8a8" stroke="#62eeb0" stroke-width="2" />
<circle cx="1753.40" cy="938.00" r="31.00" fill="none" stroke="#ff0000" stroke-width="8.2" />
<circle cx="1849.10" cy="938.00" r="27.40" fill="#00ad50" stroke="#05a24c" stroke-width="1.6" />
<circle cx="1942.00" cy="938.00" r="26.30" fill="#7fd8a8" stroke="#62eeb0" stroke-width="2" />
<circle cx="1942.00" cy="938.00" r="31.00" fill="none" stroke="#ff0000" stroke-width="8.2" />
<circle cx="1563.90" cy="1034.70" r="27.40" fill="#00ad50" stroke="#05a24c" stroke-width="1.6" />
<circle cx="1658.70" cy="1034.70" r="26.30" fill="#7fd8a8" stroke="#62eeb0" stroke-width="2" />
<circle cx="1658.70" cy="1034.70" r="31.00" fill="none" stroke="#ff0000" stroke-width="8.2" />
<circle cx="1753.40" cy="1034.70" r="27.40" fill="#00ad50" stroke="#05a24c" stroke-width="1.6" />
<circle cx="1849.10" cy="1034.70" r="26.30" fill="#7fd8a8" stroke="#62eeb0" stroke-width="2" />
<circle cx="1849.10" cy="1034.70" r="31.00" fill="none" stroke="#ff0000" stroke-width="8.2" />
<circle cx="1942.00" cy="1034.70" r="27.40" fill="#00ad50" stroke="#05a24c" stroke-width="1.6" />
<line x1="1565.5" y1="846.2" x2="1647.4" y2="846.2" stroke="#44546a" stroke-width="3.6" /><path d="M1659.6 846.2L1643.1 853.1L1647.4 846.2L1643.1 839.4Z" fill="#44546a"/>
<path d="M947.1 1272.2C948.6 1340.5 963.1 1382.4 989.1 1382.4C1047.6 1382.4 1011.9 1158.8 1070.4 1158.8C1130.8 1158.8 1093.9 1382.4 1154.3 1382.4C1213.1 1382.4 1177.2 1158.8 1236.0 1158.8C1296.3 1158.8 1259.5 1382.4 1319.8 1382.4C1344.8 1382.4 1358.7 1339.9 1360.2 1270.6" fill="none" stroke="#843c0c" stroke-width="7.6"/>
<circle cx="989.10" cy="1338.90" r="27.20" fill="#00ad50" stroke="#05a24c" stroke-width="1.6" />
<circle cx="1153.70" cy="1338.90" r="27.00" fill="#7fd8a8" stroke="#62eeb0" stroke-width="2" />
<circle cx="1319.80" cy="1340.50" r="27.00" fill="#7fd8a8" stroke="#62eeb0" stroke-width="2" />
<path d="M987.5 1308.0C988.5 1199.3 1022.3 1143.3 1070.4 1143.3C1119.6 1143.3 1152.7 1191.2 1154.4 1284.3" fill="none" stroke="#548235" stroke-width="8.0"/>
<path d="M1155.2 1306.3L1142.0 1276.8L1154.3 1284.3L1166.0 1275.8Z" fill="#548235"/>
<path d="M1156.5 1270.0C1157.5 1188.4 1189.9 1146.4 1236.0 1146.4C1283.7 1146.4 1315.8 1193.3 1317.5 1284.3" fill="none" stroke="#548235" stroke-width="8.0" stroke-dasharray="8 6"/>
<path d="M1318.3 1306.3L1305.1 1276.8L1317.4 1284.3L1329.1 1275.8Z" fill="#548235"/>
<line x1="1070.40" y1="1176.60" x2="1070.40" y2="1369.30" stroke="#548235" stroke-width="2.2" />
<path d="M1070.4 1166.6L1075.9 1179.6L1070.4 1176.6L1064.9 1179.6Z" fill="#548235"/>
<path d="M1070.4 1379.3L1064.9 1366.3L1070.4 1369.3L1075.9 1366.3Z" fill="#548235"/>
<text transform="translate(886.00,1285.40) rotate(-90) translate(-33.40,0) scale(1.0119,1)" font-size="27.00" fill="#000" xml:space="preserve"><tspan x="0.00" y="0.00">Li-ion</tspan></text>
<text transform="translate(917.60,1285.50) rotate(-90) translate(-100.95,0) scale(1.0845,1)" font-size="27.00" fill="#000" xml:space="preserve"><tspan x="0.00" y="0.00">hopping energy</tspan></text>
<text transform="translate(1045.60,1396.40) translate(0.00,0) scale(0.9942,1)" font-size="26.00" fill="#000" xml:space="preserve"><tspan x="0.00" y="0.00" font-style="italic">E</tspan><tspan x="17.34" y="5.20" font-style="italic" font-size="17.68">HOP</tspan></text>
<text transform="translate(1054.90,1443.00) translate(0.00,0) scale(1.0163,1)" font-size="27.00" fill="#000" xml:space="preserve"><tspan x="0.00" y="0.00">β-Li</tspan><tspan x="45.54" y="7.56" font-size="16.74">3</tspan><tspan x="54.85" y="0.00">N</tspan></text>
<text transform="translate(868.00,1497.30) translate(0.00,0) scale(1.0660,1)" font-size="27.00" fill="#000" xml:space="preserve"><tspan x="0.00" y="0.00">(Low vacancy concentration)</tspan></text>
<path d="M1592.4 1295.5C1593.9 1349.4 1608.3 1382.4 1634.3 1382.4C1680.4 1382.4 1670.5 1207.0 1716.6 1207.0C1763.2 1207.0 1753.3 1380.9 1799.9 1380.9C1845.4 1380.9 1835.7 1207.0 1881.2 1207.0C1928.2 1207.0 1918.1 1380.2 1965.1 1380.2C1990.7 1380.2 2004.9 1347.4 2006.4 1293.9" fill="none" stroke="#c55a11" stroke-width="7.6"/>
<circle cx="1634.70" cy="1334.90" r="27.20" fill="#00ad50" stroke="#05a24c" stroke-width="1.6" />
<circle cx="1799.30" cy="1334.90" r="27.00" fill="#7fd8a8" stroke="#62eeb0" stroke-width="2" />
<circle cx="1963.90" cy="1342.00" r="27.00" fill="#7fd8a8" stroke="#62eeb0" stroke-width="2" />
<path d="M1632.8 1306.3C1633.8 1230.9 1668.4 1192.0 1717.6 1192.0C1765.7 1192.0 1798.0 1222.3 1799.7 1281.2" fill="none" stroke="#92d050" stroke-width="8.0"/>
<path d="M1800.5 1303.2L1787.3 1273.7L1799.6 1281.2L1811.3 1272.7Z" fill="#92d050"/>
<path d="M1803.0 1268.0C1804.0 1218.9 1836.9 1193.6 1883.7 1193.6C1930.6 1193.6 1962.0 1223.9 1963.7 1282.8" fill="none" stroke="#92d050" stroke-width="8.0" stroke-dasharray="8 6"/>
<path d="M1964.5 1304.8L1951.3 1275.3L1963.6 1282.8L1975.3 1274.3Z" fill="#92d050"/>
<line x1="1715.40" y1="1229.40" x2="1715.40" y2="1368.40" stroke="#92d050" stroke-width="2.2" />
<path d="M1715.4 1219.4L1720.9 1232.4L1715.4 1229.4L1709.9 1232.4Z" fill="#92d050"/>
<path d="M1715.4 1378.4L1709.9 1365.4L1715.4 1368.4L1720.9 1365.4Z" fill="#92d050"/>
<text transform="translate(1529.70,1290.00) rotate(-90) translate(-33.40,0) scale(1.0119,1)" font-size="27.00" fill="#000" xml:space="preserve"><tspan x="0.00" y="0.00">Li-ion</tspan></text>
<text transform="translate(1561.40,1290.00) rotate(-90) translate(-100.95,0) scale(1.0845,1)" font-size="27.00" fill="#000" xml:space="preserve"><tspan x="0.00" y="0.00">hopping energy</tspan></text>
<text transform="translate(1685.60,1387.10) translate(0.00,0) scale(0.9817,1)" font-size="26.00" fill="#000" xml:space="preserve"><tspan x="0.00" y="0.00" font-style="italic">E</tspan><tspan x="17.34" y="5.20" font-style="italic" font-size="17.68">HOP</tspan></text>
<line x1="1757.00" y1="1368.40" x2="1757.00" y2="1400.30" stroke="#ff0000" stroke-width="3.2" />
<path d="M1757.0 1411.3L1751.0 1397.3L1757.0 1400.3L1763.0 1397.3Z" fill="#ff0000"/>
<text transform="translate(1617.30,1443.00) translate(0.00,0) scale(1.0481,1)" font-size="27.00" fill="#000" xml:space="preserve"><tspan x="0.00" y="0.00">Vacancy-rich β-Li</tspan><tspan x="207.10" y="7.56" font-size="16.74">3</tspan><tspan x="216.41" y="0.00">N</tspan></text>
<text transform="translate(1630.60,1502.00) translate(0.00,0)" font-size="26.00" fill="#000" xml:space="preserve"><tspan x="0.00" y="0.00">(</tspan><tspan x="8.66" y="0.00" font-style="italic">E</tspan><tspan x="26.00" y="7.28" font-style="italic" font-size="16.12">a</tspan></text>
<line x1="1685.00" y1="1469.40" x2="1685.00" y2="1499.70" stroke="#ff0000" stroke-width="3.2" />
<path d="M1685.0 1510.7L1679.0 1496.7L1685.0 1499.7L1691.0 1496.7Z" fill="#ff0000"/>
<text transform="translate(1699.00,1502.00) translate(0.00,0) scale(1.0384,1)" font-size="26.00" fill="#000" xml:space="preserve"><tspan x="0.00" y="0.00">, </tspan><tspan x="14.45" y="0.00" font-style="italic">n</tspan><tspan x="28.91" y="0.00"> ,</tspan></text>
<line x1="1752.70" y1="1508.80" x2="1752.70" y2="1477.30" stroke="#ff0000" stroke-width="3.2" />
<path d="M1752.7 1466.3L1758.7 1480.3L1752.7 1477.3L1746.7 1480.3Z" fill="#ff0000"/>
<text transform="translate(1782.80,1502.00) translate(0.00,0)" font-size="26.00" fill="#000" xml:space="preserve"><tspan x="0.00" y="0.00" font-style="italic">σ</tspan></text>
<line x1="1824.10" y1="1508.80" x2="1824.10" y2="1477.30" stroke="#ff0000" stroke-width="3.2" />
<path d="M1824.1 1466.3L1830.1 1480.3L1824.1 1477.3L1818.1 1480.3Z" fill="#ff0000"/>
<text transform="translate(1838.70,1502.00) translate(0.00,0)" font-size="26.00" fill="#000" xml:space="preserve"><tspan x="0.00" y="0.00">)</tspan></text>
<circle cx="901.90" cy="1588.00" r="33.00" fill="#dedd00" stroke="#cbc800" stroke-width="2.8" />
<text transform="translate(951.30,1582.70) translate(0.00,0) scale(1.0747,1)" font-size="27.00" fill="#000" xml:space="preserve"><tspan x="0.00" y="0.00">Occupied</tspan></text>
<text transform="translate(951.30,1615.10) translate(0.00,0) scale(0.9941,1)" font-size="27.00" fill="#000" xml:space="preserve"><tspan x="0.00" y="0.00">N sites</tspan></text>
<circle cx="1147.60" cy="1594.90" r="27.50" fill="#00ad50" stroke="#05a24c" stroke-width="1.6" />
<text transform="translate(1188.00,1580.70) translate(0.00,0) scale(1.0747,1)" font-size="27.00" fill="#000" xml:space="preserve"><tspan x="0.00" y="0.00">Occupied</tspan></text>
<text transform="translate(1188.00,1612.30) translate(0.00,0) scale(1.0027,1)" font-size="27.00" fill="#000" xml:space="preserve"><tspan x="0.00" y="0.00">Li sites</tspan></text>
<line x1="1354.8" y1="1589.6" x2="1436.1" y2="1589.6" stroke="#44546a" stroke-width="3.6" /><path d="M1448.3 1589.6L1431.8 1596.4L1436.1 1589.6L1431.8 1582.8Z" fill="#44546a"/>
<text transform="translate(1462.40,1582.70) translate(0.00,0) scale(1.0660,1)" font-size="27.00" fill="#000" xml:space="preserve"><tspan x="0.00" y="0.00">Li-ion hopping</tspan></text>
<text transform="translate(1462.40,1615.10) translate(0.00,0) scale(1.0866,1)" font-size="27.00" fill="#000" xml:space="preserve"><tspan x="0.00" y="0.00">direction</tspan></text>
<circle cx="900.70" cy="1693.20" r="32.20" fill="#f5f3b2" stroke="#e2de10" stroke-width="2.8" />
<text transform="translate(950.10,1689.20) translate(0.00,0) scale(0.9259,1)" font-size="27.00" fill="#000" xml:space="preserve"><tspan x="0.00" y="0.00">Vacant</tspan></text>
<text transform="translate(950.10,1721.50) translate(0.00,0) scale(0.8583,1)" font-size="27.00" fill="#000" xml:space="preserve"><tspan x="0.00" y="0.00">N sites</tspan></text>
<circle cx="1149.60" cy="1698.10" r="26.50" fill="#7fd8a8" stroke="#62eeb0" stroke-width="2" />
<text transform="translate(1188.80,1688.00) translate(0.00,0) scale(0.9259,1)" font-size="27.00" fill="#000" xml:space="preserve"><tspan x="0.00" y="0.00">Vacant</tspan></text>
<text transform="translate(1188.80,1720.30) translate(0.00,0) scale(0.8336,1)" font-size="27.00" fill="#000" xml:space="preserve"><tspan x="0.00" y="0.00">Li sites</tspan></text>
<circle cx="1404.50" cy="1688.80" r="31.20" fill="none" stroke="#ff0000" stroke-width="8.8" />
<text transform="translate(1458.00,1679.00) translate(0.00,0) scale(1.0543,1)" font-size="27.00" fill="#000" xml:space="preserve"><tspan x="0.00" y="0.00">Active Li-ion</tspan></text>
<text transform="translate(1458.00,1711.00) translate(0.00,0) scale(1.0706,1)" font-size="27.00" fill="#000" xml:space="preserve"><tspan x="0.00" y="0.00">hopping sites</tspan></text>
</g>
</svg>
</body></html>
